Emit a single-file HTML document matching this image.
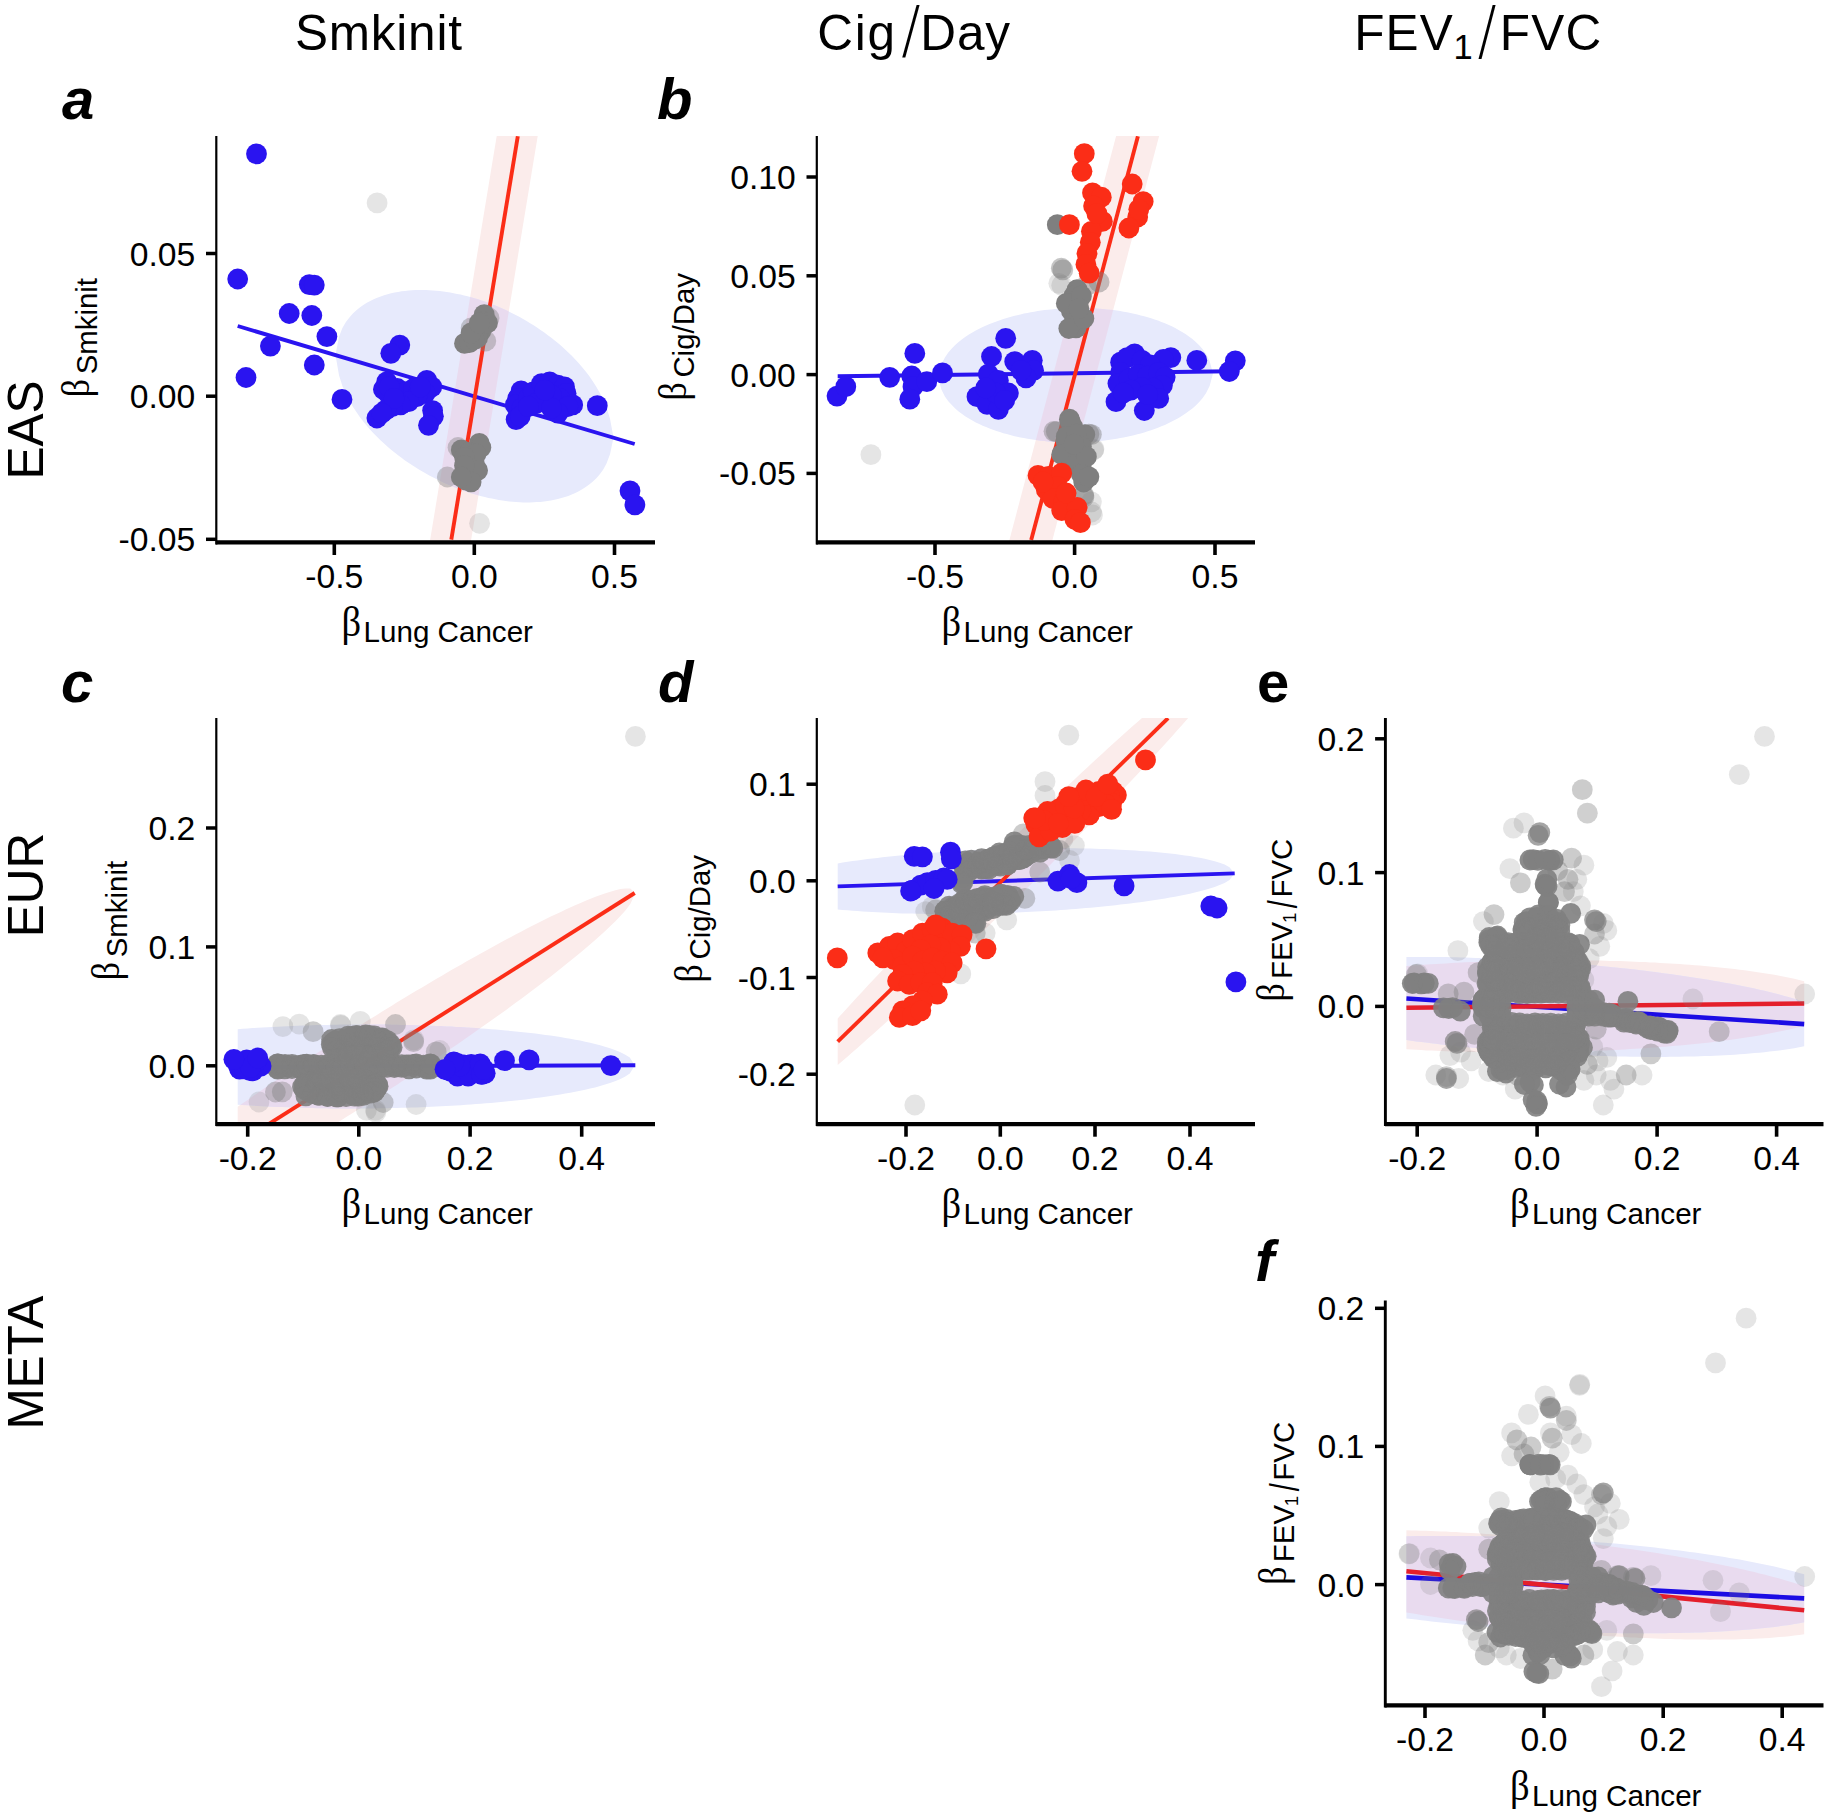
<!DOCTYPE html><html><head><meta charset="utf-8"><title>figure</title><style>html,body{margin:0;padding:0;background:#fff}svg{display:block}</style></head><body><svg width="1831" height="1816" viewBox="0 0 1831 1816"><rect width="1831" height="1816" fill="#fff"/><text x="294.9" y="50" font-size="49.5" text-anchor="start" font-family="Liberation Sans, Arial, sans-serif" letter-spacing="0.8">Smkinit</text>
<text x="817.3" y="50" font-size="49.5" text-anchor="start" font-family="Liberation Sans, Arial, sans-serif" letter-spacing="1.7">Cig</text>
<text transform="translate(902.3,56.2) scale(0.8,1)" font-size="78" font-family="Liberation Serif, serif">/</text>
<text x="920.3" y="50" font-size="49.5" text-anchor="start" font-family="Liberation Sans, Arial, sans-serif" letter-spacing="0.9">Day</text>
<text x="1354.2" y="50" font-size="49.5" text-anchor="start" font-family="Liberation Sans, Arial, sans-serif" letter-spacing="1.2">FEV</text>
<text x="1453.5" y="59" font-size="34.5" text-anchor="start" font-family="Liberation Sans, Arial, sans-serif" >1</text>
<text transform="translate(1478.5,58) scale(0.76,1)" font-size="81" font-family="Liberation Serif, serif">/</text>
<text x="1499.8" y="50" font-size="49.5" text-anchor="start" font-family="Liberation Sans, Arial, sans-serif" letter-spacing="1.2">FVC</text>
<text transform="translate(43.3,430) rotate(-90)" font-size="49.5" text-anchor="middle" font-family="Liberation Sans, Arial, sans-serif">EAS</text>
<text transform="translate(43.3,885) rotate(-90)" font-size="49.5" text-anchor="middle" font-family="Liberation Sans, Arial, sans-serif">EUR</text>
<text transform="translate(43.3,1362.7) rotate(-90)" font-size="49.5" text-anchor="middle" font-family="Liberation Sans, Arial, sans-serif">META</text>
<text x="62" y="118.5" font-size="58" font-weight="bold" font-style="italic" font-family="Liberation Sans, Arial, sans-serif">a</text>
<text x="657" y="118.5" font-size="58" font-weight="bold" font-style="italic" font-family="Liberation Sans, Arial, sans-serif">b</text>
<text x="61" y="701.5" font-size="58" font-weight="bold" font-style="italic" font-family="Liberation Sans, Arial, sans-serif">c</text>
<text x="658" y="701.5" font-size="58" font-weight="bold" font-style="italic" font-family="Liberation Sans, Arial, sans-serif">d</text>
<text x="1257" y="701.5" font-size="58" font-weight="bold" font-family="Liberation Sans, Arial, sans-serif">e</text>
<text x="1255" y="1280.8" font-size="58" font-weight="bold" font-style="italic" font-family="Liberation Sans, Arial, sans-serif">f</text>
<clipPath id="ca"><rect x="217" y="136" width="440" height="405.5"/></clipPath>
<g clip-path="url(#ca)">
<path d="M497.7,130.0 L538.7,130.0 L470.3,545.0 L429.3,545.0Z" fill="#fbeceb"/><path d="M335.5,354.9 L339.0,336.8 L342.4,328.1 L345.9,322.1 L349.4,317.4 L352.9,313.5 L356.4,310.3 L359.8,307.4 L363.3,305.0 L366.8,302.8 L370.2,300.9 L373.7,299.2 L377.2,297.7 L380.7,296.4 L384.1,295.2 L387.6,294.2 L391.1,293.3 L394.6,292.5 L398.1,291.9 L401.5,291.3 L405.0,290.9 L408.5,290.5 L411.9,290.2 L415.4,290.1 L418.9,290.0 L422.4,290.0 L425.9,290.0 L429.3,290.2 L432.8,290.4 L436.3,290.7 L439.8,291.1 L443.2,291.5 L446.7,292.0 L450.2,292.5 L453.6,293.2 L457.1,293.9 L460.6,294.6 L464.1,295.4 L467.6,296.3 L471.0,297.3 L474.5,298.3 L478.0,299.3 L481.4,300.5 L484.9,301.6 L488.4,302.9 L491.9,304.2 L495.4,305.6 L498.8,307.0 L502.3,308.6 L505.8,310.1 L509.2,311.8 L512.7,313.5 L516.2,315.3 L519.7,317.1 L523.1,319.1 L526.6,321.1 L530.1,323.2 L533.6,325.3 L537.0,327.6 L540.5,329.9 L544.0,332.3 L547.5,334.9 L551.0,337.5 L554.4,340.2 L557.9,343.1 L561.4,346.1 L564.9,349.2 L568.3,352.4 L571.8,355.8 L575.3,359.4 L578.8,363.2 L582.2,367.2 L585.7,371.5 L589.2,376.0 L592.6,381.0 L596.1,386.4 L599.6,392.4 L603.1,399.2 L606.5,407.5 L610.0,418.8 L613.5,437.6 L613.5,437.6 L610.0,454.3 L606.5,463.5 L603.1,469.7 L599.6,474.5 L596.1,478.4 L592.6,481.8 L589.2,484.6 L585.7,487.1 L582.2,489.3 L578.8,491.3 L575.3,493.0 L571.8,494.5 L568.3,495.9 L564.9,497.1 L561.4,498.1 L557.9,499.0 L554.4,499.8 L551.0,500.5 L547.5,501.0 L544.0,501.5 L540.5,501.9 L537.0,502.1 L533.6,502.3 L530.1,502.4 L526.6,502.4 L523.1,502.4 L519.7,502.2 L516.2,502.0 L512.7,501.7 L509.2,501.4 L505.8,501.0 L502.3,500.5 L498.8,499.9 L495.4,499.3 L491.9,498.6 L488.4,497.9 L484.9,497.1 L481.4,496.2 L478.0,495.3 L474.5,494.3 L471.0,493.2 L467.6,492.1 L464.1,490.9 L460.6,489.6 L457.1,488.3 L453.6,487.0 L450.2,485.5 L446.7,484.0 L443.2,482.4 L439.8,480.8 L436.3,479.1 L432.8,477.3 L429.3,475.5 L425.9,473.6 L422.4,471.6 L418.9,469.5 L415.4,467.3 L411.9,465.1 L408.5,462.8 L405.0,460.4 L401.5,457.8 L398.1,455.2 L394.6,452.5 L391.1,449.7 L387.6,446.7 L384.1,443.6 L380.7,440.4 L377.2,437.0 L373.7,433.4 L370.2,429.7 L366.8,425.7 L363.3,421.4 L359.8,416.9 L356.4,412.0 L352.9,406.7 L349.4,400.8 L345.9,394.0 L342.4,385.9 L339.0,375.2 L335.5,354.9Z" fill="#e7eafc"/><clipPath id="ia"><path d="M335.5,354.9 L339.0,336.8 L342.4,328.1 L345.9,322.1 L349.4,317.4 L352.9,313.5 L356.4,310.3 L359.8,307.4 L363.3,305.0 L366.8,302.8 L370.2,300.9 L373.7,299.2 L377.2,297.7 L380.7,296.4 L384.1,295.2 L387.6,294.2 L391.1,293.3 L394.6,292.5 L398.1,291.9 L401.5,291.3 L405.0,290.9 L408.5,290.5 L411.9,290.2 L415.4,290.1 L418.9,290.0 L422.4,290.0 L425.9,290.0 L429.3,290.2 L432.8,290.4 L436.3,290.7 L439.8,291.1 L443.2,291.5 L446.7,292.0 L450.2,292.5 L453.6,293.2 L457.1,293.9 L460.6,294.6 L464.1,295.4 L467.6,296.3 L471.0,297.3 L474.5,298.3 L478.0,299.3 L481.4,300.5 L484.9,301.6 L488.4,302.9 L491.9,304.2 L495.4,305.6 L498.8,307.0 L502.3,308.6 L505.8,310.1 L509.2,311.8 L512.7,313.5 L516.2,315.3 L519.7,317.1 L523.1,319.1 L526.6,321.1 L530.1,323.2 L533.6,325.3 L537.0,327.6 L540.5,329.9 L544.0,332.3 L547.5,334.9 L551.0,337.5 L554.4,340.2 L557.9,343.1 L561.4,346.1 L564.9,349.2 L568.3,352.4 L571.8,355.8 L575.3,359.4 L578.8,363.2 L582.2,367.2 L585.7,371.5 L589.2,376.0 L592.6,381.0 L596.1,386.4 L599.6,392.4 L603.1,399.2 L606.5,407.5 L610.0,418.8 L613.5,437.6 L613.5,437.6 L610.0,454.3 L606.5,463.5 L603.1,469.7 L599.6,474.5 L596.1,478.4 L592.6,481.8 L589.2,484.6 L585.7,487.1 L582.2,489.3 L578.8,491.3 L575.3,493.0 L571.8,494.5 L568.3,495.9 L564.9,497.1 L561.4,498.1 L557.9,499.0 L554.4,499.8 L551.0,500.5 L547.5,501.0 L544.0,501.5 L540.5,501.9 L537.0,502.1 L533.6,502.3 L530.1,502.4 L526.6,502.4 L523.1,502.4 L519.7,502.2 L516.2,502.0 L512.7,501.7 L509.2,501.4 L505.8,501.0 L502.3,500.5 L498.8,499.9 L495.4,499.3 L491.9,498.6 L488.4,497.9 L484.9,497.1 L481.4,496.2 L478.0,495.3 L474.5,494.3 L471.0,493.2 L467.6,492.1 L464.1,490.9 L460.6,489.6 L457.1,488.3 L453.6,487.0 L450.2,485.5 L446.7,484.0 L443.2,482.4 L439.8,480.8 L436.3,479.1 L432.8,477.3 L429.3,475.5 L425.9,473.6 L422.4,471.6 L418.9,469.5 L415.4,467.3 L411.9,465.1 L408.5,462.8 L405.0,460.4 L401.5,457.8 L398.1,455.2 L394.6,452.5 L391.1,449.7 L387.6,446.7 L384.1,443.6 L380.7,440.4 L377.2,437.0 L373.7,433.4 L370.2,429.7 L366.8,425.7 L363.3,421.4 L359.8,416.9 L356.4,412.0 L352.9,406.7 L349.4,400.8 L345.9,394.0 L342.4,385.9 L339.0,375.2 L335.5,354.9Z"/></clipPath><g clip-path="url(#ia)"><path d="M497.7,130.0 L538.7,130.0 L470.3,545.0 L429.3,545.0Z" fill="#e9dbef"/></g>
<line x1="237.7" y1="326.0" x2="634.7" y2="444.0" stroke="#2a14f0" stroke-width="3.9"/>
<line x1="517.8" y1="136.3" x2="451.3" y2="539.6" stroke="#fb2d17" stroke-width="3.9"/>
<g fill="#7f7f7f" fill-opacity="0.2"><circle cx="377.1" cy="202.9" r="10.4"/><circle cx="479.6" cy="523.3" r="10.4"/></g>
<g fill="#7f7f7f" fill-opacity="0.4"><circle cx="485.8" cy="341.0" r="10.4"/><circle cx="471.1" cy="327.9" r="10.4"/><circle cx="447.3" cy="477.0" r="10.4"/><circle cx="458.0" cy="447.5" r="10.4"/><circle cx="489.1" cy="318.0" r="10.4"/></g>
<g fill="#7f7f7f" fill-opacity="1"><circle cx="484.2" cy="314.7" r="10.4"/><circle cx="482.6" cy="321.3" r="10.4"/><circle cx="480.9" cy="331.1" r="10.4"/><circle cx="477.6" cy="337.7" r="10.4"/><circle cx="464.5" cy="343.4" r="10.4"/><circle cx="469.4" cy="342.6" r="10.4"/><circle cx="479.3" cy="443.4" r="10.4"/><circle cx="461.3" cy="449.9" r="10.4"/><circle cx="469.4" cy="452.4" r="10.4"/><circle cx="471.1" cy="457.3" r="10.4"/><circle cx="474.4" cy="463.9" r="10.4"/><circle cx="471.1" cy="468.8" r="10.4"/><circle cx="469.4" cy="472.0" r="10.4"/><circle cx="466.2" cy="480.2" r="10.4"/><circle cx="467.8" cy="477.0" r="10.4"/><circle cx="487.5" cy="322.9" r="10.4"/><circle cx="474.4" cy="339.3" r="10.4"/><circle cx="471.1" cy="332.8" r="10.4"/><circle cx="479.3" cy="322.9" r="10.4"/><circle cx="480.9" cy="447.5" r="10.4"/><circle cx="476.0" cy="454.0" r="10.4"/><circle cx="464.5" cy="457.3" r="10.4"/><circle cx="477.6" cy="470.4" r="10.4"/><circle cx="464.5" cy="465.5" r="10.4"/><circle cx="471.1" cy="481.9" r="10.4"/><circle cx="461.3" cy="477.0" r="10.4"/></g>
<g fill="#2a14f0"><circle cx="256.5" cy="153.9" r="10.4"/><circle cx="237.7" cy="279.0" r="10.4"/><circle cx="309.3" cy="284.6" r="10.4"/><circle cx="314.3" cy="285.1" r="10.4"/><circle cx="289.2" cy="313.5" r="10.4"/><circle cx="311.8" cy="315.5" r="10.4"/><circle cx="326.9" cy="336.6" r="10.4"/><circle cx="270.4" cy="346.1" r="10.4"/><circle cx="314.3" cy="365.0" r="10.4"/><circle cx="246.0" cy="377.5" r="10.4"/><circle cx="342.0" cy="399.4" r="10.4"/><circle cx="399.8" cy="345.1" r="10.4"/><circle cx="390.8" cy="353.3" r="10.4"/><circle cx="386.7" cy="381.9" r="10.4"/><circle cx="383.4" cy="389.3" r="10.4"/><circle cx="389.2" cy="395.0" r="10.4"/><circle cx="397.3" cy="388.5" r="10.4"/><circle cx="405.5" cy="391.8" r="10.4"/><circle cx="413.7" cy="388.5" r="10.4"/><circle cx="426.8" cy="380.3" r="10.4"/><circle cx="431.8" cy="386.8" r="10.4"/><circle cx="425.2" cy="393.4" r="10.4"/><circle cx="417.0" cy="396.7" r="10.4"/><circle cx="408.8" cy="401.6" r="10.4"/><circle cx="400.6" cy="404.9" r="10.4"/><circle cx="392.4" cy="406.5" r="10.4"/><circle cx="385.9" cy="409.8" r="10.4"/><circle cx="376.9" cy="418.0" r="10.4"/><circle cx="432.6" cy="410.6" r="10.4"/><circle cx="433.4" cy="416.3" r="10.4"/><circle cx="428.5" cy="425.3" r="10.4"/><circle cx="389.2" cy="386.8" r="10.4"/><circle cx="394.1" cy="398.3" r="10.4"/><circle cx="420.3" cy="386.8" r="10.4"/><circle cx="381.8" cy="413.1" r="10.4"/><circle cx="521.1" cy="390.9" r="10.4"/><circle cx="517.8" cy="398.3" r="10.4"/><circle cx="515.3" cy="404.9" r="10.4"/><circle cx="521.9" cy="408.1" r="10.4"/><circle cx="528.4" cy="398.3" r="10.4"/><circle cx="533.3" cy="391.8" r="10.4"/><circle cx="541.5" cy="383.6" r="10.4"/><circle cx="549.7" cy="381.9" r="10.4"/><circle cx="557.9" cy="385.2" r="10.4"/><circle cx="564.5" cy="386.8" r="10.4"/><circle cx="566.1" cy="393.4" r="10.4"/><circle cx="559.6" cy="398.3" r="10.4"/><circle cx="551.4" cy="395.0" r="10.4"/><circle cx="543.2" cy="396.7" r="10.4"/><circle cx="536.6" cy="403.2" r="10.4"/><circle cx="572.7" cy="404.9" r="10.4"/><circle cx="567.8" cy="406.5" r="10.4"/><circle cx="557.9" cy="413.1" r="10.4"/><circle cx="551.4" cy="408.1" r="10.4"/><circle cx="516.1" cy="419.6" r="10.4"/><circle cx="520.2" cy="416.3" r="10.4"/><circle cx="528.4" cy="406.5" r="10.4"/><circle cx="544.8" cy="390.1" r="10.4"/><circle cx="597.3" cy="405.7" r="10.4"/><circle cx="630.0" cy="490.9" r="10.4"/><circle cx="634.9" cy="504.8" r="10.4"/></g>
</g>
<line x1="216.3" y1="136" x2="216.3" y2="544.4" stroke="#000" stroke-width="2.2"/><line x1="215.8" y1="542.4" x2="655" y2="542.4" stroke="#000" stroke-width="4.1"/><line x1="334.3" y1="542.4" x2="334.3" y2="555.0" stroke="#000" stroke-width="3.6"/><text x="334.3" y="588.4" font-size="33.7" text-anchor="middle" font-family="Liberation Sans, Arial, sans-serif">-0.5</text><line x1="474.3" y1="542.4" x2="474.3" y2="555.0" stroke="#000" stroke-width="3.6"/><text x="474.3" y="588.4" font-size="33.7" text-anchor="middle" font-family="Liberation Sans, Arial, sans-serif">0.0</text><line x1="614.5" y1="542.4" x2="614.5" y2="555.0" stroke="#000" stroke-width="3.6"/><text x="614.5" y="588.4" font-size="33.7" text-anchor="middle" font-family="Liberation Sans, Arial, sans-serif">0.5</text><line x1="206.0" y1="253.5" x2="216.3" y2="253.5" stroke="#000" stroke-width="3.5"/><text x="195.3" y="265.5" font-size="33.7" text-anchor="end" font-family="Liberation Sans, Arial, sans-serif">0.05</text><line x1="206.0" y1="396.2" x2="216.3" y2="396.2" stroke="#000" stroke-width="3.5"/><text x="195.3" y="408.2" font-size="33.7" text-anchor="end" font-family="Liberation Sans, Arial, sans-serif">0.00</text><line x1="206.0" y1="539.3" x2="216.3" y2="539.3" stroke="#000" stroke-width="3.5"/><text x="195.3" y="551.3" font-size="33.7" text-anchor="end" font-family="Liberation Sans, Arial, sans-serif">-0.05</text>
<text transform="translate(341.5,635.5) scale(0.92,1)" font-size="42" font-family="Liberation Serif, DejaVu Serif, serif">β</text><text x="363.5" y="642.3" font-size="29.6" font-family="Liberation Sans, Arial, sans-serif">Lung Cancer</text>
<g transform="translate(89.3,397.35) rotate(-90)"><text transform="scale(0.88,1)" x="0" y="0" font-size="41" font-family="Liberation Serif, DejaVu Serif, serif">β</text><text x="23" y="8" font-size="29.4" font-family="Liberation Sans, Arial, sans-serif">Smkinit</text></g>
<clipPath id="cb"><rect x="817.5" y="136" width="440" height="405.5"/></clipPath>
<g clip-path="url(#cb)">
<path d="M1117.7,130.0 L1160.7,130.0 L1051.1,545.0 L1008.1,545.0Z" fill="#fbeceb"/><path d="M938.0,376.9 L941.4,364.3 L944.9,357.4 L948.3,352.4 L951.8,348.4 L955.2,345.0 L958.6,342.0 L962.1,339.3 L965.5,336.8 L968.9,334.6 L972.4,332.5 L975.8,330.6 L979.2,328.8 L982.7,327.1 L986.1,325.5 L989.6,324.1 L993.0,322.7 L996.4,321.4 L999.9,320.2 L1003.3,319.1 L1006.8,318.0 L1010.2,317.0 L1013.6,316.1 L1017.1,315.2 L1020.5,314.4 L1023.9,313.6 L1027.4,312.9 L1030.8,312.3 L1034.2,311.7 L1037.7,311.1 L1041.1,310.6 L1044.6,310.1 L1048.0,309.7 L1051.4,309.4 L1054.9,309.0 L1058.3,308.8 L1061.8,308.5 L1065.2,308.3 L1068.6,308.2 L1072.1,308.1 L1075.5,308.0 L1078.9,308.0 L1082.4,308.0 L1085.8,308.1 L1089.2,308.2 L1092.7,308.3 L1096.1,308.5 L1099.6,308.7 L1103.0,309.0 L1106.4,309.4 L1109.9,309.7 L1113.3,310.1 L1116.8,310.6 L1120.2,311.1 L1123.6,311.7 L1127.1,312.3 L1130.5,313.0 L1133.9,313.7 L1137.4,314.5 L1140.8,315.4 L1144.2,316.3 L1147.7,317.2 L1151.1,318.3 L1154.6,319.4 L1158.0,320.6 L1161.4,321.9 L1164.9,323.3 L1168.3,324.7 L1171.8,326.3 L1175.2,328.0 L1178.6,329.9 L1182.1,331.9 L1185.5,334.0 L1188.9,336.4 L1192.4,339.0 L1195.8,341.9 L1199.2,345.3 L1202.7,349.2 L1206.1,354.0 L1209.6,360.9 L1213.0,373.5 L1213.0,373.5 L1209.6,386.1 L1206.1,393.0 L1202.7,398.0 L1199.2,402.0 L1195.8,405.4 L1192.4,408.4 L1188.9,411.1 L1185.5,413.6 L1182.1,415.8 L1178.6,417.9 L1175.2,419.8 L1171.8,421.6 L1168.3,423.3 L1164.9,424.9 L1161.4,426.3 L1158.0,427.7 L1154.6,429.0 L1151.1,430.2 L1147.7,431.3 L1144.2,432.4 L1140.8,433.4 L1137.4,434.3 L1133.9,435.2 L1130.5,436.0 L1127.1,436.8 L1123.6,437.5 L1120.2,438.1 L1116.8,438.7 L1113.3,439.3 L1109.9,439.8 L1106.4,440.3 L1103.0,440.7 L1099.6,441.0 L1096.1,441.4 L1092.7,441.6 L1089.2,441.9 L1085.8,442.1 L1082.4,442.2 L1078.9,442.3 L1075.5,442.4 L1072.1,442.4 L1068.6,442.4 L1065.2,442.3 L1061.8,442.2 L1058.3,442.1 L1054.9,441.9 L1051.4,441.7 L1048.0,441.4 L1044.6,441.0 L1041.1,440.7 L1037.7,440.3 L1034.2,439.8 L1030.8,439.3 L1027.4,438.7 L1023.9,438.1 L1020.5,437.4 L1017.1,436.7 L1013.6,435.9 L1010.2,435.0 L1006.8,434.1 L1003.3,433.2 L999.9,432.1 L996.4,431.0 L993.0,429.8 L989.6,428.5 L986.1,427.1 L982.7,425.7 L979.2,424.1 L975.8,422.4 L972.4,420.5 L968.9,418.5 L965.5,416.4 L962.1,414.0 L958.6,411.4 L955.2,408.5 L951.8,405.1 L948.3,401.2 L944.9,396.4 L941.4,389.5 L938.0,376.9Z" fill="#e7eafc"/><clipPath id="ib"><path d="M938.0,376.9 L941.4,364.3 L944.9,357.4 L948.3,352.4 L951.8,348.4 L955.2,345.0 L958.6,342.0 L962.1,339.3 L965.5,336.8 L968.9,334.6 L972.4,332.5 L975.8,330.6 L979.2,328.8 L982.7,327.1 L986.1,325.5 L989.6,324.1 L993.0,322.7 L996.4,321.4 L999.9,320.2 L1003.3,319.1 L1006.8,318.0 L1010.2,317.0 L1013.6,316.1 L1017.1,315.2 L1020.5,314.4 L1023.9,313.6 L1027.4,312.9 L1030.8,312.3 L1034.2,311.7 L1037.7,311.1 L1041.1,310.6 L1044.6,310.1 L1048.0,309.7 L1051.4,309.4 L1054.9,309.0 L1058.3,308.8 L1061.8,308.5 L1065.2,308.3 L1068.6,308.2 L1072.1,308.1 L1075.5,308.0 L1078.9,308.0 L1082.4,308.0 L1085.8,308.1 L1089.2,308.2 L1092.7,308.3 L1096.1,308.5 L1099.6,308.7 L1103.0,309.0 L1106.4,309.4 L1109.9,309.7 L1113.3,310.1 L1116.8,310.6 L1120.2,311.1 L1123.6,311.7 L1127.1,312.3 L1130.5,313.0 L1133.9,313.7 L1137.4,314.5 L1140.8,315.4 L1144.2,316.3 L1147.7,317.2 L1151.1,318.3 L1154.6,319.4 L1158.0,320.6 L1161.4,321.9 L1164.9,323.3 L1168.3,324.7 L1171.8,326.3 L1175.2,328.0 L1178.6,329.9 L1182.1,331.9 L1185.5,334.0 L1188.9,336.4 L1192.4,339.0 L1195.8,341.9 L1199.2,345.3 L1202.7,349.2 L1206.1,354.0 L1209.6,360.9 L1213.0,373.5 L1213.0,373.5 L1209.6,386.1 L1206.1,393.0 L1202.7,398.0 L1199.2,402.0 L1195.8,405.4 L1192.4,408.4 L1188.9,411.1 L1185.5,413.6 L1182.1,415.8 L1178.6,417.9 L1175.2,419.8 L1171.8,421.6 L1168.3,423.3 L1164.9,424.9 L1161.4,426.3 L1158.0,427.7 L1154.6,429.0 L1151.1,430.2 L1147.7,431.3 L1144.2,432.4 L1140.8,433.4 L1137.4,434.3 L1133.9,435.2 L1130.5,436.0 L1127.1,436.8 L1123.6,437.5 L1120.2,438.1 L1116.8,438.7 L1113.3,439.3 L1109.9,439.8 L1106.4,440.3 L1103.0,440.7 L1099.6,441.0 L1096.1,441.4 L1092.7,441.6 L1089.2,441.9 L1085.8,442.1 L1082.4,442.2 L1078.9,442.3 L1075.5,442.4 L1072.1,442.4 L1068.6,442.4 L1065.2,442.3 L1061.8,442.2 L1058.3,442.1 L1054.9,441.9 L1051.4,441.7 L1048.0,441.4 L1044.6,441.0 L1041.1,440.7 L1037.7,440.3 L1034.2,439.8 L1030.8,439.3 L1027.4,438.7 L1023.9,438.1 L1020.5,437.4 L1017.1,436.7 L1013.6,435.9 L1010.2,435.0 L1006.8,434.1 L1003.3,433.2 L999.9,432.1 L996.4,431.0 L993.0,429.8 L989.6,428.5 L986.1,427.1 L982.7,425.7 L979.2,424.1 L975.8,422.4 L972.4,420.5 L968.9,418.5 L965.5,416.4 L962.1,414.0 L958.6,411.4 L955.2,408.5 L951.8,405.1 L948.3,401.2 L944.9,396.4 L941.4,389.5 L938.0,376.9Z"/></clipPath><g clip-path="url(#ib)"><path d="M1117.7,130.0 L1160.7,130.0 L1051.1,545.0 L1008.1,545.0Z" fill="#e9dbef"/></g>
<line x1="837.7" y1="376.3" x2="1232.0" y2="371.3" stroke="#2a14f0" stroke-width="3.9"/>
<line x1="1137.9" y1="136.3" x2="1031.2" y2="540.1" stroke="#fb2d17" stroke-width="3.9"/>
<g fill="#7f7f7f" fill-opacity="0.2"><circle cx="1094.0" cy="449.1" r="10.4"/><circle cx="1091.5" cy="512.0" r="10.4"/><circle cx="1058.8" cy="283.3" r="10.4"/><circle cx="870.9" cy="454.7" r="10.4"/><circle cx="1061.7" cy="285.3" r="10.4"/><circle cx="1093.6" cy="450.0" r="10.4"/><circle cx="1091.4" cy="501.8" r="10.4"/><circle cx="1092.5" cy="515.0" r="10.4"/></g>
<g fill="#7f7f7f" fill-opacity="0.45"><circle cx="1088.9" cy="434.1" r="10.4"/><circle cx="1056.3" cy="431.6" r="10.4"/><circle cx="1083.9" cy="496.9" r="10.4"/><circle cx="1061.3" cy="268.2" r="10.4"/><circle cx="1086.4" cy="285.8" r="10.4"/><circle cx="1062.8" cy="269.9" r="10.4"/><circle cx="1099.1" cy="282.0" r="10.4"/><circle cx="1054.0" cy="431.3" r="10.4"/><circle cx="1091.4" cy="434.6" r="10.4"/><circle cx="1083.7" cy="495.2" r="10.4"/></g>
<g fill="#7f7f7f" fill-opacity="1"><circle cx="1057.3" cy="224.7" r="10.4"/><circle cx="1076.0" cy="295.2" r="10.4"/><circle cx="1072.7" cy="304.0" r="10.4"/><circle cx="1072.7" cy="311.7" r="10.4"/><circle cx="1076.0" cy="322.7" r="10.4"/><circle cx="1077.1" cy="289.7" r="10.4"/><circle cx="1076.0" cy="327.8" r="10.4"/><circle cx="1069.4" cy="419.2" r="10.4"/><circle cx="1072.7" cy="426.9" r="10.4"/><circle cx="1070.5" cy="434.6" r="10.4"/><circle cx="1077.1" cy="440.1" r="10.4"/><circle cx="1072.7" cy="446.7" r="10.4"/><circle cx="1080.4" cy="451.1" r="10.4"/><circle cx="1071.6" cy="456.7" r="10.4"/><circle cx="1077.1" cy="462.2" r="10.4"/><circle cx="1081.5" cy="468.8" r="10.4"/><circle cx="1087.0" cy="477.6" r="10.4"/><circle cx="1083.7" cy="482.0" r="10.4"/><circle cx="1084.8" cy="434.6" r="10.4"/><circle cx="1066.1" cy="441.2" r="10.4"/><circle cx="1061.7" cy="454.4" r="10.4"/><circle cx="1073.9" cy="295.9" r="10.4"/><circle cx="1071.4" cy="311.0" r="10.4"/><circle cx="1076.4" cy="326.0" r="10.4"/><circle cx="1066.3" cy="303.4" r="10.4"/><circle cx="1081.4" cy="295.9" r="10.4"/><circle cx="1068.8" cy="328.5" r="10.4"/><circle cx="1083.9" cy="318.5" r="10.4"/><circle cx="1078.9" cy="308.4" r="10.4"/><circle cx="1070.1" cy="421.5" r="10.4"/><circle cx="1066.3" cy="436.6" r="10.4"/><circle cx="1076.4" cy="434.1" r="10.4"/><circle cx="1071.4" cy="451.7" r="10.4"/><circle cx="1081.4" cy="446.6" r="10.4"/><circle cx="1063.8" cy="454.2" r="10.4"/><circle cx="1076.4" cy="464.2" r="10.4"/><circle cx="1086.4" cy="456.7" r="10.4"/><circle cx="1081.4" cy="474.3" r="10.4"/><circle cx="1088.9" cy="476.8" r="10.4"/><circle cx="1073.9" cy="444.1" r="10.4"/></g>
<g fill="#fb2d17"><circle cx="1084.3" cy="153.7" r="10.4"/><circle cx="1082.0" cy="171.3" r="10.4"/><circle cx="1132.2" cy="184.0" r="10.4"/><circle cx="1143.2" cy="201.6" r="10.4"/><circle cx="1137.7" cy="217.0" r="10.4"/><circle cx="1128.9" cy="228.0" r="10.4"/><circle cx="1092.5" cy="192.8" r="10.4"/><circle cx="1101.3" cy="197.2" r="10.4"/><circle cx="1093.6" cy="206.0" r="10.4"/><circle cx="1102.4" cy="221.4" r="10.4"/><circle cx="1091.4" cy="231.3" r="10.4"/><circle cx="1069.4" cy="224.7" r="10.4"/><circle cx="1090.3" cy="242.3" r="10.4"/><circle cx="1087.0" cy="253.3" r="10.4"/><circle cx="1085.9" cy="264.4" r="10.4"/><circle cx="1089.2" cy="273.2" r="10.4"/><circle cx="1096.9" cy="213.7" r="10.4"/><circle cx="1138.8" cy="209.3" r="10.4"/><circle cx="1038.0" cy="475.4" r="10.4"/><circle cx="1048.5" cy="476.5" r="10.4"/><circle cx="1061.7" cy="473.2" r="10.4"/><circle cx="1046.3" cy="489.7" r="10.4"/><circle cx="1057.3" cy="486.4" r="10.4"/><circle cx="1052.9" cy="498.5" r="10.4"/><circle cx="1063.9" cy="501.8" r="10.4"/><circle cx="1061.7" cy="510.6" r="10.4"/><circle cx="1077.1" cy="507.3" r="10.4"/><circle cx="1074.9" cy="519.4" r="10.4"/><circle cx="1080.4" cy="522.7" r="10.4"/><circle cx="1043.0" cy="482.0" r="10.4"/><circle cx="1066.1" cy="493.0" r="10.4"/></g>
<g fill="#2a14f0"><circle cx="837.0" cy="396.1" r="10.4"/><circle cx="845.8" cy="386.7" r="10.4"/><circle cx="889.7" cy="377.3" r="10.4"/><circle cx="914.8" cy="353.4" r="10.4"/><circle cx="911.7" cy="376.0" r="10.4"/><circle cx="913.0" cy="386.7" r="10.4"/><circle cx="909.8" cy="399.2" r="10.4"/><circle cx="926.8" cy="381.7" r="10.4"/><circle cx="942.5" cy="372.9" r="10.4"/><circle cx="1005.7" cy="338.3" r="10.4"/><circle cx="991.5" cy="356.5" r="10.4"/><circle cx="988.3" cy="374.1" r="10.4"/><circle cx="1014.7" cy="361.6" r="10.4"/><circle cx="1032.3" cy="360.3" r="10.4"/><circle cx="1033.6" cy="370.4" r="10.4"/><circle cx="1026.0" cy="377.9" r="10.4"/><circle cx="998.4" cy="380.4" r="10.4"/><circle cx="977.0" cy="396.7" r="10.4"/><circle cx="987.1" cy="404.3" r="10.4"/><circle cx="998.4" cy="409.3" r="10.4"/><circle cx="1008.4" cy="393.0" r="10.4"/><circle cx="995.9" cy="393.0" r="10.4"/><circle cx="985.8" cy="387.9" r="10.4"/><circle cx="1004.7" cy="400.5" r="10.4"/><circle cx="1021.0" cy="370.4" r="10.4"/><circle cx="1235.3" cy="360.8" r="10.4"/><circle cx="1229.3" cy="371.5" r="10.4"/><circle cx="1196.8" cy="360.4" r="10.4"/><circle cx="1170.8" cy="357.6" r="10.4"/><circle cx="1163.4" cy="359.4" r="10.4"/><circle cx="1134.6" cy="353.9" r="10.4"/><circle cx="1120.6" cy="362.2" r="10.4"/><circle cx="1127.1" cy="357.6" r="10.4"/><circle cx="1142.0" cy="360.4" r="10.4"/><circle cx="1150.4" cy="365.0" r="10.4"/><circle cx="1120.6" cy="372.4" r="10.4"/><circle cx="1117.9" cy="383.6" r="10.4"/><circle cx="1129.0" cy="378.9" r="10.4"/><circle cx="1138.3" cy="374.3" r="10.4"/><circle cx="1147.6" cy="376.1" r="10.4"/><circle cx="1158.7" cy="372.4" r="10.4"/><circle cx="1165.2" cy="377.1" r="10.4"/><circle cx="1162.4" cy="385.4" r="10.4"/><circle cx="1153.1" cy="388.2" r="10.4"/><circle cx="1142.0" cy="387.3" r="10.4"/><circle cx="1130.9" cy="390.1" r="10.4"/><circle cx="1158.7" cy="398.4" r="10.4"/><circle cx="1116.0" cy="401.7" r="10.4"/><circle cx="1144.3" cy="410.5" r="10.4"/><circle cx="1123.4" cy="392.9" r="10.4"/><circle cx="1147.6" cy="394.7" r="10.4"/></g>
</g>
<line x1="816.8" y1="136" x2="816.8" y2="544.4" stroke="#000" stroke-width="2.2"/><line x1="816.3" y1="542.4" x2="1255" y2="542.4" stroke="#000" stroke-width="4.1"/><line x1="935" y1="542.4" x2="935" y2="555.0" stroke="#000" stroke-width="3.6"/><text x="935" y="588.4" font-size="33.7" text-anchor="middle" font-family="Liberation Sans, Arial, sans-serif">-0.5</text><line x1="1074.6" y1="542.4" x2="1074.6" y2="555.0" stroke="#000" stroke-width="3.6"/><text x="1074.6" y="588.4" font-size="33.7" text-anchor="middle" font-family="Liberation Sans, Arial, sans-serif">0.0</text><line x1="1215" y1="542.4" x2="1215" y2="555.0" stroke="#000" stroke-width="3.6"/><text x="1215" y="588.4" font-size="33.7" text-anchor="middle" font-family="Liberation Sans, Arial, sans-serif">0.5</text><line x1="806.5" y1="177" x2="816.8" y2="177" stroke="#000" stroke-width="3.5"/><text x="795.8" y="189" font-size="33.7" text-anchor="end" font-family="Liberation Sans, Arial, sans-serif">0.10</text><line x1="806.5" y1="275.8" x2="816.8" y2="275.8" stroke="#000" stroke-width="3.5"/><text x="795.8" y="287.8" font-size="33.7" text-anchor="end" font-family="Liberation Sans, Arial, sans-serif">0.05</text><line x1="806.5" y1="374.6" x2="816.8" y2="374.6" stroke="#000" stroke-width="3.5"/><text x="795.8" y="386.6" font-size="33.7" text-anchor="end" font-family="Liberation Sans, Arial, sans-serif">0.00</text><line x1="806.5" y1="473.4" x2="816.8" y2="473.4" stroke="#000" stroke-width="3.5"/><text x="795.8" y="485.4" font-size="33.7" text-anchor="end" font-family="Liberation Sans, Arial, sans-serif">-0.05</text>
<text transform="translate(941.5,635.5) scale(0.92,1)" font-size="42" font-family="Liberation Serif, DejaVu Serif, serif">β</text><text x="963.5" y="642.3" font-size="29.6" font-family="Liberation Sans, Arial, sans-serif">Lung Cancer</text>
<g transform="translate(686,400.6) rotate(-90)"><text transform="scale(0.88,1)" x="0" y="0" font-size="41" font-family="Liberation Serif, DejaVu Serif, serif">β</text><text x="23" y="8" font-size="29.4" font-family="Liberation Sans, Arial, sans-serif">Cig/Day</text></g>
<clipPath id="cc"><rect x="217" y="718" width="440" height="405.8"/></clipPath>
<g clip-path="url(#cc)">
<path d="M237.7,1106.8 L242.7,1103.3 L247.6,1099.9 L252.6,1096.4 L257.6,1093.0 L262.6,1089.5 L267.5,1086.1 L272.5,1082.8 L277.5,1079.4 L282.4,1076.0 L287.4,1072.7 L292.4,1069.3 L297.3,1066.0 L302.3,1062.7 L307.3,1059.4 L312.2,1056.2 L317.2,1052.9 L322.2,1049.7 L327.2,1046.4 L332.1,1043.2 L337.1,1040.0 L342.1,1036.8 L347.0,1033.7 L352.0,1030.5 L357.0,1027.3 L361.9,1024.2 L366.9,1021.1 L371.9,1018.0 L376.9,1014.9 L381.8,1011.8 L386.8,1008.7 L391.8,1005.7 L396.7,1002.6 L401.7,999.6 L406.7,996.6 L411.6,993.6 L416.6,990.6 L421.6,987.7 L426.6,984.7 L431.5,981.8 L436.5,978.8 L441.5,975.9 L446.4,973.0 L451.4,970.1 L456.4,967.3 L461.4,964.4 L466.3,961.6 L471.3,958.8 L476.3,956.0 L481.2,953.2 L486.2,950.5 L491.2,947.7 L496.1,945.0 L501.1,942.3 L506.1,939.6 L511.0,937.0 L516.0,934.3 L521.0,931.7 L526.0,929.1 L530.9,926.6 L535.9,924.0 L540.9,921.5 L545.8,919.1 L550.8,916.6 L555.8,914.2 L560.8,911.9 L565.7,909.6 L570.7,907.3 L575.7,905.1 L580.6,902.9 L585.6,900.8 L590.6,898.8 L595.5,896.8 L600.5,895.0 L605.5,893.2 L610.4,891.7 L615.4,890.3 L620.4,889.1 L625.4,888.4 L630.3,888.5 L635.3,893.2 L635.3,893.2 L630.3,904.1 L625.4,910.5 L620.4,916.0 L615.4,921.2 L610.4,926.1 L605.5,930.7 L600.5,935.3 L595.5,939.7 L590.6,944.0 L585.6,948.3 L580.6,952.5 L575.7,956.6 L570.7,960.6 L565.7,964.6 L560.8,968.6 L555.8,972.5 L550.8,976.4 L545.8,980.2 L540.9,984.0 L535.9,987.8 L530.9,991.5 L526.0,995.2 L521.0,998.9 L516.0,1002.6 L511.0,1006.2 L506.1,1009.9 L501.1,1013.5 L496.1,1017.0 L491.2,1020.6 L486.2,1024.1 L481.2,1027.6 L476.3,1031.1 L471.3,1034.6 L466.3,1038.1 L461.4,1041.5 L456.4,1044.9 L451.4,1048.3 L446.4,1051.7 L441.5,1055.1 L436.5,1058.5 L431.5,1061.8 L426.6,1065.2 L421.6,1068.5 L416.6,1071.8 L411.6,1075.1 L406.7,1078.4 L401.7,1081.6 L396.7,1084.9 L391.8,1088.1 L386.8,1091.3 L381.8,1094.5 L376.9,1097.7 L371.9,1100.9 L366.9,1104.1 L361.9,1107.2 L357.0,1110.3 L352.0,1113.5 L347.0,1116.6 L342.1,1119.7 L337.1,1122.8 L332.1,1125.8 L327.2,1128.9 L322.2,1131.9 L317.2,1135.0 L312.2,1138.0 L307.3,1141.0 L302.3,1144.0 L297.3,1147.0 L292.4,1149.9 L287.4,1152.9 L282.4,1155.8 L277.5,1158.7 L272.5,1161.6 L267.5,1164.5 L262.6,1167.4 L257.6,1170.2 L252.6,1173.0 L247.6,1175.9 L242.7,1178.7 L237.7,1181.4Z" fill="#fbeceb"/><path d="M237.7,1029.2 L242.7,1028.8 L247.6,1028.4 L252.6,1028.1 L257.6,1027.8 L262.5,1027.5 L267.5,1027.2 L272.4,1026.9 L277.4,1026.7 L282.4,1026.4 L287.3,1026.2 L292.3,1026.0 L297.3,1025.8 L302.2,1025.6 L307.2,1025.4 L312.2,1025.3 L317.1,1025.1 L322.1,1025.0 L327.0,1024.9 L332.0,1024.8 L337.0,1024.7 L341.9,1024.6 L346.9,1024.6 L351.9,1024.5 L356.8,1024.5 L361.8,1024.5 L366.8,1024.5 L371.7,1024.5 L376.7,1024.5 L381.6,1024.6 L386.6,1024.6 L391.6,1024.7 L396.5,1024.8 L401.5,1024.9 L406.5,1025.0 L411.4,1025.1 L416.4,1025.2 L421.4,1025.4 L426.3,1025.5 L431.3,1025.7 L436.2,1025.9 L441.2,1026.1 L446.2,1026.4 L451.1,1026.6 L456.1,1026.9 L461.1,1027.1 L466.0,1027.4 L471.0,1027.7 L476.0,1028.1 L480.9,1028.4 L485.9,1028.8 L490.9,1029.2 L495.8,1029.6 L500.8,1030.0 L505.7,1030.4 L510.7,1030.9 L515.7,1031.4 L520.6,1031.9 L525.6,1032.5 L530.6,1033.0 L535.5,1033.6 L540.5,1034.2 L545.5,1034.9 L550.4,1035.6 L555.4,1036.3 L560.3,1037.1 L565.3,1037.9 L570.3,1038.8 L575.2,1039.7 L580.2,1040.6 L585.2,1041.7 L590.1,1042.8 L595.1,1044.0 L600.1,1045.3 L605.0,1046.7 L610.0,1048.2 L614.9,1050.0 L619.9,1052.0 L624.9,1054.4 L629.8,1057.6 L634.8,1065.5 L634.8,1065.5 L629.8,1073.5 L624.9,1076.7 L619.9,1079.2 L614.9,1081.2 L610.0,1083.0 L605.0,1084.6 L600.1,1086.1 L595.1,1087.4 L590.1,1088.6 L585.2,1089.7 L580.2,1090.8 L575.2,1091.8 L570.3,1092.7 L565.3,1093.6 L560.3,1094.5 L555.4,1095.3 L550.4,1096.1 L545.5,1096.8 L540.5,1097.5 L535.5,1098.1 L530.6,1098.8 L525.6,1099.4 L520.6,1100.0 L515.7,1100.5 L510.7,1101.0 L505.7,1101.5 L500.8,1102.0 L495.8,1102.5 L490.9,1102.9 L485.9,1103.3 L480.9,1103.7 L476.0,1104.1 L471.0,1104.5 L466.0,1104.8 L461.1,1105.2 L456.1,1105.5 L451.1,1105.8 L446.2,1106.0 L441.2,1106.3 L436.2,1106.5 L431.3,1106.8 L426.3,1107.0 L421.4,1107.2 L416.4,1107.4 L411.4,1107.5 L406.5,1107.7 L401.5,1107.8 L396.5,1108.0 L391.6,1108.1 L386.6,1108.2 L381.6,1108.3 L376.7,1108.3 L371.7,1108.4 L366.8,1108.5 L361.8,1108.5 L356.8,1108.5 L351.9,1108.5 L346.9,1108.5 L341.9,1108.5 L337.0,1108.4 L332.0,1108.4 L327.0,1108.3 L322.1,1108.3 L317.1,1108.2 L312.2,1108.1 L307.2,1107.9 L302.2,1107.8 L297.3,1107.7 L292.3,1107.5 L287.3,1107.3 L282.4,1107.1 L277.4,1106.9 L272.4,1106.7 L267.5,1106.5 L262.5,1106.2 L257.6,1105.9 L252.6,1105.6 L247.6,1105.3 L242.7,1105.0 L237.7,1104.7Z" fill="#e7eafc"/><clipPath id="ic"><path d="M237.7,1029.2 L242.7,1028.8 L247.6,1028.4 L252.6,1028.1 L257.6,1027.8 L262.5,1027.5 L267.5,1027.2 L272.4,1026.9 L277.4,1026.7 L282.4,1026.4 L287.3,1026.2 L292.3,1026.0 L297.3,1025.8 L302.2,1025.6 L307.2,1025.4 L312.2,1025.3 L317.1,1025.1 L322.1,1025.0 L327.0,1024.9 L332.0,1024.8 L337.0,1024.7 L341.9,1024.6 L346.9,1024.6 L351.9,1024.5 L356.8,1024.5 L361.8,1024.5 L366.8,1024.5 L371.7,1024.5 L376.7,1024.5 L381.6,1024.6 L386.6,1024.6 L391.6,1024.7 L396.5,1024.8 L401.5,1024.9 L406.5,1025.0 L411.4,1025.1 L416.4,1025.2 L421.4,1025.4 L426.3,1025.5 L431.3,1025.7 L436.2,1025.9 L441.2,1026.1 L446.2,1026.4 L451.1,1026.6 L456.1,1026.9 L461.1,1027.1 L466.0,1027.4 L471.0,1027.7 L476.0,1028.1 L480.9,1028.4 L485.9,1028.8 L490.9,1029.2 L495.8,1029.6 L500.8,1030.0 L505.7,1030.4 L510.7,1030.9 L515.7,1031.4 L520.6,1031.9 L525.6,1032.5 L530.6,1033.0 L535.5,1033.6 L540.5,1034.2 L545.5,1034.9 L550.4,1035.6 L555.4,1036.3 L560.3,1037.1 L565.3,1037.9 L570.3,1038.8 L575.2,1039.7 L580.2,1040.6 L585.2,1041.7 L590.1,1042.8 L595.1,1044.0 L600.1,1045.3 L605.0,1046.7 L610.0,1048.2 L614.9,1050.0 L619.9,1052.0 L624.9,1054.4 L629.8,1057.6 L634.8,1065.5 L634.8,1065.5 L629.8,1073.5 L624.9,1076.7 L619.9,1079.2 L614.9,1081.2 L610.0,1083.0 L605.0,1084.6 L600.1,1086.1 L595.1,1087.4 L590.1,1088.6 L585.2,1089.7 L580.2,1090.8 L575.2,1091.8 L570.3,1092.7 L565.3,1093.6 L560.3,1094.5 L555.4,1095.3 L550.4,1096.1 L545.5,1096.8 L540.5,1097.5 L535.5,1098.1 L530.6,1098.8 L525.6,1099.4 L520.6,1100.0 L515.7,1100.5 L510.7,1101.0 L505.7,1101.5 L500.8,1102.0 L495.8,1102.5 L490.9,1102.9 L485.9,1103.3 L480.9,1103.7 L476.0,1104.1 L471.0,1104.5 L466.0,1104.8 L461.1,1105.2 L456.1,1105.5 L451.1,1105.8 L446.2,1106.0 L441.2,1106.3 L436.2,1106.5 L431.3,1106.8 L426.3,1107.0 L421.4,1107.2 L416.4,1107.4 L411.4,1107.5 L406.5,1107.7 L401.5,1107.8 L396.5,1108.0 L391.6,1108.1 L386.6,1108.2 L381.6,1108.3 L376.7,1108.3 L371.7,1108.4 L366.8,1108.5 L361.8,1108.5 L356.8,1108.5 L351.9,1108.5 L346.9,1108.5 L341.9,1108.5 L337.0,1108.4 L332.0,1108.4 L327.0,1108.3 L322.1,1108.3 L317.1,1108.2 L312.2,1108.1 L307.2,1107.9 L302.2,1107.8 L297.3,1107.7 L292.3,1107.5 L287.3,1107.3 L282.4,1107.1 L277.4,1106.9 L272.4,1106.7 L267.5,1106.5 L262.5,1106.2 L257.6,1105.9 L252.6,1105.6 L247.6,1105.3 L242.7,1105.0 L237.7,1104.7Z"/></clipPath><g clip-path="url(#ic)"><path d="M237.7,1106.8 L242.7,1103.3 L247.6,1099.9 L252.6,1096.4 L257.6,1093.0 L262.6,1089.5 L267.5,1086.1 L272.5,1082.8 L277.5,1079.4 L282.4,1076.0 L287.4,1072.7 L292.4,1069.3 L297.3,1066.0 L302.3,1062.7 L307.3,1059.4 L312.2,1056.2 L317.2,1052.9 L322.2,1049.7 L327.2,1046.4 L332.1,1043.2 L337.1,1040.0 L342.1,1036.8 L347.0,1033.7 L352.0,1030.5 L357.0,1027.3 L361.9,1024.2 L366.9,1021.1 L371.9,1018.0 L376.9,1014.9 L381.8,1011.8 L386.8,1008.7 L391.8,1005.7 L396.7,1002.6 L401.7,999.6 L406.7,996.6 L411.6,993.6 L416.6,990.6 L421.6,987.7 L426.6,984.7 L431.5,981.8 L436.5,978.8 L441.5,975.9 L446.4,973.0 L451.4,970.1 L456.4,967.3 L461.4,964.4 L466.3,961.6 L471.3,958.8 L476.3,956.0 L481.2,953.2 L486.2,950.5 L491.2,947.7 L496.1,945.0 L501.1,942.3 L506.1,939.6 L511.0,937.0 L516.0,934.3 L521.0,931.7 L526.0,929.1 L530.9,926.6 L535.9,924.0 L540.9,921.5 L545.8,919.1 L550.8,916.6 L555.8,914.2 L560.8,911.9 L565.7,909.6 L570.7,907.3 L575.7,905.1 L580.6,902.9 L585.6,900.8 L590.6,898.8 L595.5,896.8 L600.5,895.0 L605.5,893.2 L610.4,891.7 L615.4,890.3 L620.4,889.1 L625.4,888.4 L630.3,888.5 L635.3,893.2 L635.3,893.2 L630.3,904.1 L625.4,910.5 L620.4,916.0 L615.4,921.2 L610.4,926.1 L605.5,930.7 L600.5,935.3 L595.5,939.7 L590.6,944.0 L585.6,948.3 L580.6,952.5 L575.7,956.6 L570.7,960.6 L565.7,964.6 L560.8,968.6 L555.8,972.5 L550.8,976.4 L545.8,980.2 L540.9,984.0 L535.9,987.8 L530.9,991.5 L526.0,995.2 L521.0,998.9 L516.0,1002.6 L511.0,1006.2 L506.1,1009.9 L501.1,1013.5 L496.1,1017.0 L491.2,1020.6 L486.2,1024.1 L481.2,1027.6 L476.3,1031.1 L471.3,1034.6 L466.3,1038.1 L461.4,1041.5 L456.4,1044.9 L451.4,1048.3 L446.4,1051.7 L441.5,1055.1 L436.5,1058.5 L431.5,1061.8 L426.6,1065.2 L421.6,1068.5 L416.6,1071.8 L411.6,1075.1 L406.7,1078.4 L401.7,1081.6 L396.7,1084.9 L391.8,1088.1 L386.8,1091.3 L381.8,1094.5 L376.9,1097.7 L371.9,1100.9 L366.9,1104.1 L361.9,1107.2 L357.0,1110.3 L352.0,1113.5 L347.0,1116.6 L342.1,1119.7 L337.1,1122.8 L332.1,1125.8 L327.2,1128.9 L322.2,1131.9 L317.2,1135.0 L312.2,1138.0 L307.3,1141.0 L302.3,1144.0 L297.3,1147.0 L292.4,1149.9 L287.4,1152.9 L282.4,1155.8 L277.5,1158.7 L272.5,1161.6 L267.5,1164.5 L262.6,1167.4 L257.6,1170.2 L252.6,1173.0 L247.6,1175.9 L242.7,1178.7 L237.7,1181.4Z" fill="#e9dbef"/></g>
<line x1="237.7" y1="1066.9" x2="635.3" y2="1065.2" stroke="#2a14f0" stroke-width="3.9"/>
<line x1="267.8" y1="1124.6" x2="634.7" y2="893.0" stroke="#fb2d17" stroke-width="3.9"/>
<g fill="#7f7f7f" fill-opacity="0.2"><circle cx="635.4" cy="736.4" r="10.4"/><circle cx="282.9" cy="1026.6" r="10.4"/><circle cx="299.2" cy="1024.1" r="10.4"/><circle cx="340.7" cy="1025.4" r="10.4"/><circle cx="416.1" cy="1104.5" r="10.4"/><circle cx="375.9" cy="1112.1" r="10.4"/><circle cx="259.0" cy="1102.0" r="10.4"/><circle cx="413.8" cy="1039.8" r="10.4"/><circle cx="439.8" cy="1050.5" r="10.4"/><circle cx="375.6" cy="1110.1" r="10.4"/><circle cx="366.4" cy="1110.1" r="10.4"/><circle cx="360.3" cy="1021.4" r="10.4"/><circle cx="340.4" cy="1024.5" r="10.4"/></g>
<g fill="#7f7f7f" fill-opacity="0.4"><circle cx="313.1" cy="1031.7" r="10.4"/><circle cx="275.4" cy="1092.0" r="10.4"/><circle cx="413.6" cy="1041.7" r="10.4"/><circle cx="436.2" cy="1051.8" r="10.4"/><circle cx="282.3" cy="1091.8" r="10.4"/><circle cx="395.5" cy="1024.5" r="10.4"/><circle cx="383.2" cy="1102.5" r="10.4"/></g>
<g fill="#7f7f7f" fill-opacity="0.9"><circle cx="377.3" cy="1039.4" r="10.4"/><circle cx="286.3" cy="1066.6" r="10.4"/><circle cx="342.6" cy="1086.6" r="10.4"/><circle cx="324.8" cy="1085.9" r="10.4"/><circle cx="361.5" cy="1038.8" r="10.4"/><circle cx="347.0" cy="1053.6" r="10.4"/><circle cx="358.0" cy="1089.6" r="10.4"/><circle cx="341.6" cy="1082.2" r="10.4"/><circle cx="300.7" cy="1065.5" r="10.4"/><circle cx="337.4" cy="1089.4" r="10.4"/><circle cx="361.8" cy="1090.1" r="10.4"/><circle cx="332.5" cy="1090.2" r="10.4"/><circle cx="313.2" cy="1065.2" r="10.4"/><circle cx="367.8" cy="1051.3" r="10.4"/><circle cx="381.2" cy="1038.2" r="10.4"/><circle cx="371.7" cy="1044.2" r="10.4"/><circle cx="333.3" cy="1042.6" r="10.4"/><circle cx="348.9" cy="1065.1" r="10.4"/><circle cx="358.5" cy="1044.0" r="10.4"/><circle cx="360.8" cy="1036.6" r="10.4"/><circle cx="358.5" cy="1096.1" r="10.4"/><circle cx="359.2" cy="1083.6" r="10.4"/><circle cx="312.2" cy="1067.2" r="10.4"/><circle cx="373.2" cy="1091.2" r="10.4"/><circle cx="406.4" cy="1064.9" r="10.4"/><circle cx="377.7" cy="1084.9" r="10.4"/><circle cx="392.6" cy="1064.8" r="10.4"/><circle cx="304.8" cy="1084.2" r="10.4"/><circle cx="328.4" cy="1085.0" r="10.4"/><circle cx="339.0" cy="1094.1" r="10.4"/><circle cx="388.7" cy="1045.5" r="10.4"/><circle cx="358.2" cy="1093.3" r="10.4"/><circle cx="344.0" cy="1089.4" r="10.4"/><circle cx="367.0" cy="1091.4" r="10.4"/><circle cx="342.0" cy="1092.3" r="10.4"/><circle cx="354.4" cy="1068.1" r="10.4"/><circle cx="357.8" cy="1036.0" r="10.4"/><circle cx="345.0" cy="1046.3" r="10.4"/><circle cx="303.9" cy="1064.5" r="10.4"/><circle cx="327.4" cy="1067.3" r="10.4"/><circle cx="362.7" cy="1083.9" r="10.4"/><circle cx="396.0" cy="1066.6" r="10.4"/><circle cx="363.6" cy="1082.4" r="10.4"/><circle cx="371.4" cy="1066.5" r="10.4"/><circle cx="356.0" cy="1078.2" r="10.4"/><circle cx="346.8" cy="1068.2" r="10.4"/><circle cx="350.8" cy="1093.8" r="10.4"/><circle cx="363.3" cy="1093.9" r="10.4"/><circle cx="378.8" cy="1043.8" r="10.4"/><circle cx="338.5" cy="1065.3" r="10.4"/><circle cx="356.6" cy="1056.1" r="10.4"/><circle cx="373.2" cy="1066.9" r="10.4"/><circle cx="342.2" cy="1091.9" r="10.4"/><circle cx="374.8" cy="1085.0" r="10.4"/><circle cx="362.3" cy="1092.8" r="10.4"/><circle cx="358.3" cy="1049.8" r="10.4"/><circle cx="354.2" cy="1046.0" r="10.4"/><circle cx="306.5" cy="1064.6" r="10.4"/><circle cx="353.4" cy="1087.1" r="10.4"/><circle cx="337.7" cy="1066.6" r="10.4"/><circle cx="330.0" cy="1086.9" r="10.4"/><circle cx="317.8" cy="1095.0" r="10.4"/><circle cx="426.7" cy="1069.1" r="10.4"/><circle cx="350.3" cy="1066.3" r="10.4"/><circle cx="308.3" cy="1066.4" r="10.4"/><circle cx="367.3" cy="1068.0" r="10.4"/><circle cx="298.8" cy="1067.6" r="10.4"/><circle cx="354.8" cy="1087.1" r="10.4"/><circle cx="367.1" cy="1090.7" r="10.4"/><circle cx="354.6" cy="1068.3" r="10.4"/><circle cx="378.6" cy="1039.0" r="10.4"/><circle cx="389.4" cy="1047.7" r="10.4"/><circle cx="350.9" cy="1077.6" r="10.4"/><circle cx="376.1" cy="1039.7" r="10.4"/><circle cx="364.6" cy="1035.6" r="10.4"/><circle cx="381.1" cy="1053.1" r="10.4"/><circle cx="356.7" cy="1063.9" r="10.4"/><circle cx="349.0" cy="1042.3" r="10.4"/><circle cx="346.4" cy="1051.7" r="10.4"/><circle cx="299.2" cy="1067.6" r="10.4"/><circle cx="403.3" cy="1066.7" r="10.4"/><circle cx="312.9" cy="1091.0" r="10.4"/><circle cx="352.0" cy="1036.4" r="10.4"/><circle cx="277.9" cy="1065.6" r="10.4"/><circle cx="346.6" cy="1053.8" r="10.4"/><circle cx="325.9" cy="1087.4" r="10.4"/><circle cx="321.2" cy="1093.4" r="10.4"/><circle cx="355.8" cy="1046.7" r="10.4"/><circle cx="334.7" cy="1094.7" r="10.4"/><circle cx="374.3" cy="1092.0" r="10.4"/><circle cx="323.1" cy="1081.1" r="10.4"/><circle cx="378.1" cy="1053.7" r="10.4"/><circle cx="309.3" cy="1091.5" r="10.4"/><circle cx="353.7" cy="1048.6" r="10.4"/><circle cx="346.5" cy="1043.6" r="10.4"/><circle cx="364.9" cy="1090.4" r="10.4"/><circle cx="340.9" cy="1067.7" r="10.4"/><circle cx="414.9" cy="1064.5" r="10.4"/><circle cx="337.5" cy="1092.8" r="10.4"/><circle cx="313.1" cy="1092.4" r="10.4"/><circle cx="376.5" cy="1053.9" r="10.4"/><circle cx="337.0" cy="1048.9" r="10.4"/><circle cx="369.7" cy="1035.5" r="10.4"/><circle cx="413.1" cy="1064.6" r="10.4"/><circle cx="341.9" cy="1051.0" r="10.4"/><circle cx="382.2" cy="1047.3" r="10.4"/><circle cx="354.9" cy="1047.7" r="10.4"/><circle cx="311.4" cy="1082.4" r="10.4"/><circle cx="322.7" cy="1094.4" r="10.4"/><circle cx="353.5" cy="1046.6" r="10.4"/><circle cx="332.2" cy="1086.3" r="10.4"/><circle cx="285.0" cy="1064.5" r="10.4"/><circle cx="334.6" cy="1092.4" r="10.4"/><circle cx="340.5" cy="1085.6" r="10.4"/><circle cx="317.6" cy="1079.7" r="10.4"/><circle cx="313.3" cy="1064.6" r="10.4"/><circle cx="336.7" cy="1050.6" r="10.4"/><circle cx="343.4" cy="1065.7" r="10.4"/><circle cx="370.6" cy="1055.4" r="10.4"/><circle cx="307.7" cy="1082.0" r="10.4"/><circle cx="327.4" cy="1096.2" r="10.4"/><circle cx="292.2" cy="1066.0" r="10.4"/><circle cx="379.4" cy="1042.4" r="10.4"/><circle cx="390.7" cy="1047.3" r="10.4"/><circle cx="366.2" cy="1055.3" r="10.4"/><circle cx="338.2" cy="1096.9" r="10.4"/><circle cx="355.3" cy="1049.3" r="10.4"/><circle cx="350.3" cy="1086.1" r="10.4"/><circle cx="317.3" cy="1083.5" r="10.4"/><circle cx="377.4" cy="1047.6" r="10.4"/><circle cx="277.4" cy="1063.9" r="10.4"/><circle cx="277.4" cy="1068.5" r="10.4"/><circle cx="284.7" cy="1065.3" r="10.4"/><circle cx="284.7" cy="1068.8" r="10.4"/><circle cx="292.0" cy="1064.5" r="10.4"/><circle cx="292.0" cy="1068.7" r="10.4"/><circle cx="299.3" cy="1065.5" r="10.4"/><circle cx="299.3" cy="1068.0" r="10.4"/><circle cx="306.6" cy="1064.1" r="10.4"/><circle cx="306.6" cy="1068.9" r="10.4"/><circle cx="314.0" cy="1064.7" r="10.4"/><circle cx="314.0" cy="1068.0" r="10.4"/><circle cx="321.3" cy="1065.2" r="10.4"/><circle cx="321.3" cy="1068.9" r="10.4"/><circle cx="328.6" cy="1064.3" r="10.4"/><circle cx="328.6" cy="1067.7" r="10.4"/><circle cx="335.9" cy="1064.7" r="10.4"/><circle cx="335.9" cy="1068.6" r="10.4"/><circle cx="343.2" cy="1064.5" r="10.4"/><circle cx="343.2" cy="1067.2" r="10.4"/><circle cx="350.5" cy="1064.5" r="10.4"/><circle cx="350.5" cy="1068.0" r="10.4"/><circle cx="357.8" cy="1064.6" r="10.4"/><circle cx="357.8" cy="1068.3" r="10.4"/><circle cx="365.1" cy="1065.7" r="10.4"/><circle cx="365.1" cy="1067.1" r="10.4"/><circle cx="372.4" cy="1064.7" r="10.4"/><circle cx="372.4" cy="1068.7" r="10.4"/><circle cx="379.8" cy="1065.4" r="10.4"/><circle cx="379.8" cy="1068.7" r="10.4"/><circle cx="387.1" cy="1063.9" r="10.4"/><circle cx="387.1" cy="1067.3" r="10.4"/><circle cx="394.4" cy="1064.8" r="10.4"/><circle cx="394.4" cy="1067.5" r="10.4"/><circle cx="401.7" cy="1064.7" r="10.4"/><circle cx="401.7" cy="1067.4" r="10.4"/><circle cx="409.0" cy="1064.8" r="10.4"/><circle cx="409.0" cy="1068.8" r="10.4"/><circle cx="416.3" cy="1064.0" r="10.4"/><circle cx="416.3" cy="1068.0" r="10.4"/><circle cx="423.6" cy="1065.2" r="10.4"/><circle cx="423.6" cy="1067.3" r="10.4"/><circle cx="430.9" cy="1064.1" r="10.4"/><circle cx="430.9" cy="1067.9" r="10.4"/><circle cx="278.1" cy="1063.9" r="10.4"/><circle cx="429.9" cy="1063.9" r="10.4"/><circle cx="277.7" cy="1069.1" r="10.4"/><circle cx="430.4" cy="1069.1" r="10.4"/><circle cx="331.3" cy="1044.5" r="10.4"/><circle cx="334.9" cy="1041.2" r="10.4"/><circle cx="339.5" cy="1038.7" r="10.4"/><circle cx="348.0" cy="1036.2" r="10.4"/><circle cx="356.2" cy="1035.4" r="10.4"/><circle cx="365.6" cy="1035.0" r="10.4"/><circle cx="374.6" cy="1036.0" r="10.4"/><circle cx="382.5" cy="1038.0" r="10.4"/><circle cx="387.4" cy="1040.7" r="10.4"/><circle cx="390.5" cy="1044.0" r="10.4"/><circle cx="392.1" cy="1047.3" r="10.4"/><circle cx="388.1" cy="1050.4" r="10.4"/><circle cx="383.3" cy="1053.2" r="10.4"/><circle cx="375.9" cy="1055.0" r="10.4"/><circle cx="367.1" cy="1056.5" r="10.4"/><circle cx="357.8" cy="1056.1" r="10.4"/><circle cx="348.9" cy="1055.6" r="10.4"/><circle cx="342.0" cy="1053.8" r="10.4"/><circle cx="336.3" cy="1051.0" r="10.4"/><circle cx="332.4" cy="1047.8" r="10.4"/><circle cx="327.6" cy="1096.5" r="10.4"/><circle cx="319.4" cy="1095.4" r="10.4"/><circle cx="312.5" cy="1093.6" r="10.4"/><circle cx="308.3" cy="1091.6" r="10.4"/><circle cx="304.1" cy="1089.2" r="10.4"/><circle cx="302.5" cy="1086.8" r="10.4"/><circle cx="304.9" cy="1084.4" r="10.4"/><circle cx="308.6" cy="1082.2" r="10.4"/><circle cx="315.0" cy="1080.2" r="10.4"/><circle cx="322.2" cy="1078.7" r="10.4"/><circle cx="330.3" cy="1078.0" r="10.4"/><circle cx="339.5" cy="1077.6" r="10.4"/><circle cx="348.9" cy="1077.3" r="10.4"/><circle cx="357.5" cy="1078.7" r="10.4"/><circle cx="365.2" cy="1079.9" r="10.4"/><circle cx="372.3" cy="1081.8" r="10.4"/><circle cx="376.4" cy="1083.8" r="10.4"/><circle cx="378.1" cy="1086.3" r="10.4"/><circle cx="376.3" cy="1088.8" r="10.4"/><circle cx="374.4" cy="1091.3" r="10.4"/><circle cx="370.5" cy="1093.1" r="10.4"/><circle cx="363.5" cy="1095.3" r="10.4"/><circle cx="354.5" cy="1096.2" r="10.4"/><circle cx="346.1" cy="1096.7" r="10.4"/><circle cx="336.5" cy="1096.8" r="10.4"/><circle cx="305.9" cy="1095.9" r="10.4"/><circle cx="331.6" cy="1039.5" r="10.4"/></g>
<g fill="#2a14f0"><circle cx="248.4" cy="1062.1" r="10.4"/><circle cx="252.9" cy="1070.8" r="10.4"/><circle cx="239.6" cy="1069.1" r="10.4"/><circle cx="238.2" cy="1065.3" r="10.4"/><circle cx="251.8" cy="1062.7" r="10.4"/><circle cx="258.0" cy="1065.7" r="10.4"/><circle cx="250.3" cy="1070.6" r="10.4"/><circle cx="251.6" cy="1063.2" r="10.4"/><circle cx="256.0" cy="1061.3" r="10.4"/><circle cx="261.1" cy="1066.0" r="10.4"/><circle cx="244.6" cy="1068.8" r="10.4"/><circle cx="246.7" cy="1060.0" r="10.4"/><circle cx="256.6" cy="1061.1" r="10.4"/><circle cx="250.5" cy="1067.3" r="10.4"/><circle cx="472.3" cy="1068.2" r="10.4"/><circle cx="468.1" cy="1076.1" r="10.4"/><circle cx="452.8" cy="1064.7" r="10.4"/><circle cx="451.8" cy="1066.9" r="10.4"/><circle cx="456.5" cy="1070.8" r="10.4"/><circle cx="471.2" cy="1064.3" r="10.4"/><circle cx="472.6" cy="1068.9" r="10.4"/><circle cx="457.3" cy="1063.4" r="10.4"/><circle cx="451.3" cy="1071.7" r="10.4"/><circle cx="482.5" cy="1074.2" r="10.4"/><circle cx="463.6" cy="1065.3" r="10.4"/><circle cx="470.1" cy="1066.8" r="10.4"/><circle cx="473.4" cy="1068.4" r="10.4"/><circle cx="485.2" cy="1073.3" r="10.4"/><circle cx="457.5" cy="1076.2" r="10.4"/><circle cx="449.3" cy="1069.9" r="10.4"/><circle cx="463.8" cy="1064.9" r="10.4"/><circle cx="448.0" cy="1070.2" r="10.4"/><circle cx="455.5" cy="1071.2" r="10.4"/><circle cx="467.9" cy="1071.8" r="10.4"/><circle cx="480.2" cy="1063.8" r="10.4"/><circle cx="459.9" cy="1065.9" r="10.4"/><circle cx="233.9" cy="1059.3" r="10.4"/><circle cx="257.8" cy="1058.0" r="10.4"/><circle cx="453.8" cy="1061.8" r="10.4"/><circle cx="481.4" cy="1074.4" r="10.4"/><circle cx="483.9" cy="1069.3" r="10.4"/><circle cx="445.0" cy="1069.3" r="10.4"/><circle cx="504.5" cy="1060.6" r="10.4"/><circle cx="529.1" cy="1059.8" r="10.4"/><circle cx="610.8" cy="1065.6" r="10.4"/></g>
</g>
<line x1="216.3" y1="718" x2="216.3" y2="1126.1" stroke="#000" stroke-width="2.2"/><line x1="215.8" y1="1124.1" x2="655" y2="1124.1" stroke="#000" stroke-width="4.1"/><line x1="247.7" y1="1124.1" x2="247.7" y2="1136.6999999999998" stroke="#000" stroke-width="3.6"/><text x="247.7" y="1170.1" font-size="33.7" text-anchor="middle" font-family="Liberation Sans, Arial, sans-serif">-0.2</text><line x1="358.8" y1="1124.1" x2="358.8" y2="1136.6999999999998" stroke="#000" stroke-width="3.6"/><text x="358.8" y="1170.1" font-size="33.7" text-anchor="middle" font-family="Liberation Sans, Arial, sans-serif">0.0</text><line x1="470.1" y1="1124.1" x2="470.1" y2="1136.6999999999998" stroke="#000" stroke-width="3.6"/><text x="470.1" y="1170.1" font-size="33.7" text-anchor="middle" font-family="Liberation Sans, Arial, sans-serif">0.2</text><line x1="581.7" y1="1124.1" x2="581.7" y2="1136.6999999999998" stroke="#000" stroke-width="3.6"/><text x="581.7" y="1170.1" font-size="33.7" text-anchor="middle" font-family="Liberation Sans, Arial, sans-serif">0.4</text><line x1="206.0" y1="828" x2="216.3" y2="828" stroke="#000" stroke-width="3.5"/><text x="195.3" y="840" font-size="33.7" text-anchor="end" font-family="Liberation Sans, Arial, sans-serif">0.2</text><line x1="206.0" y1="946.9" x2="216.3" y2="946.9" stroke="#000" stroke-width="3.5"/><text x="195.3" y="958.9" font-size="33.7" text-anchor="end" font-family="Liberation Sans, Arial, sans-serif">0.1</text><line x1="206.0" y1="1065.8" x2="216.3" y2="1065.8" stroke="#000" stroke-width="3.5"/><text x="195.3" y="1077.8" font-size="33.7" text-anchor="end" font-family="Liberation Sans, Arial, sans-serif">0.0</text>
<text transform="translate(341.5,1217.5) scale(0.92,1)" font-size="42" font-family="Liberation Serif, DejaVu Serif, serif">β</text><text x="363.5" y="1224.3" font-size="29.6" font-family="Liberation Sans, Arial, sans-serif">Lung Cancer</text>
<g transform="translate(118.5,980.25) rotate(-90)"><text transform="scale(0.88,1)" x="0" y="0" font-size="41" font-family="Liberation Serif, DejaVu Serif, serif">β</text><text x="23" y="8" font-size="29.4" font-family="Liberation Sans, Arial, sans-serif">Smkinit</text></g>
<clipPath id="cd"><rect x="817.5" y="718" width="440" height="405.8"/></clipPath>
<g clip-path="url(#cd)">
<path d="M837.7,1018.4 L842.7,1012.9 L847.7,1007.4 L852.7,1002.0 L857.7,996.5 L862.7,991.2 L867.6,985.8 L872.6,980.5 L877.6,975.2 L882.6,969.9 L887.6,964.6 L892.6,959.4 L897.6,954.2 L902.6,948.9 L907.6,943.8 L912.6,938.6 L917.6,933.4 L922.6,928.3 L927.5,923.2 L932.5,918.1 L937.5,913.0 L942.5,908.0 L947.5,902.9 L952.5,897.9 L957.5,892.9 L962.5,887.8 L967.5,882.9 L972.5,877.9 L977.5,872.9 L982.4,868.0 L987.4,863.0 L992.4,858.1 L997.4,853.2 L1002.4,848.3 L1007.4,843.5 L1012.4,838.6 L1017.4,833.8 L1022.4,828.9 L1027.4,824.1 L1032.4,819.3 L1037.3,814.5 L1042.3,809.7 L1047.3,805.0 L1052.3,800.2 L1057.3,795.5 L1062.3,790.8 L1067.3,786.1 L1072.3,781.4 L1077.3,776.7 L1082.3,772.1 L1087.3,767.5 L1092.3,762.8 L1097.2,758.3 L1102.2,753.7 L1107.2,749.1 L1112.2,744.6 L1117.2,740.1 L1122.2,735.6 L1127.2,731.1 L1132.2,726.6 L1137.2,722.2 L1142.2,717.8 L1147.2,713.5 L1152.1,709.1 L1157.1,704.8 L1162.1,700.5 L1167.1,696.3 L1172.1,692.1 L1177.1,687.9 L1182.1,683.8 L1187.1,679.8 L1192.1,675.8 L1197.1,671.8 L1202.1,668.0 L1207.1,664.3 L1212.0,660.6 L1217.0,657.2 L1222.0,653.9 L1227.0,651.0 L1232.0,648.7 L1237.0,649.0 L1237.0,652.2 L1232.0,662.2 L1227.0,669.7 L1222.0,676.5 L1217.0,683.1 L1212.0,689.4 L1207.1,695.5 L1202.1,701.6 L1197.1,707.5 L1192.1,713.4 L1187.1,719.2 L1182.1,724.9 L1177.1,730.5 L1172.1,736.2 L1167.1,741.7 L1162.1,747.3 L1157.1,752.8 L1152.1,758.2 L1147.2,763.7 L1142.2,769.1 L1137.2,774.5 L1132.2,779.8 L1127.2,785.1 L1122.2,790.5 L1117.2,795.7 L1112.2,801.0 L1107.2,806.2 L1102.2,811.5 L1097.2,816.7 L1092.3,821.8 L1087.3,827.0 L1082.3,832.1 L1077.3,837.3 L1072.3,842.4 L1067.3,847.5 L1062.3,852.6 L1057.3,857.6 L1052.3,862.7 L1047.3,867.7 L1042.3,872.7 L1037.3,877.7 L1032.4,882.7 L1027.4,887.7 L1022.4,892.6 L1017.4,897.6 L1012.4,902.5 L1007.4,907.4 L1002.4,912.3 L997.4,917.2 L992.4,922.1 L987.4,927.0 L982.4,931.8 L977.5,936.6 L972.5,941.4 L967.5,946.2 L962.5,951.0 L957.5,955.8 L952.5,960.6 L947.5,965.3 L942.5,970.0 L937.5,974.7 L932.5,979.4 L927.5,984.1 L922.6,988.8 L917.6,993.4 L912.6,998.1 L907.6,1002.7 L902.6,1007.3 L897.6,1011.8 L892.6,1016.4 L887.6,1020.9 L882.6,1025.4 L877.6,1029.9 L872.6,1034.4 L867.6,1038.8 L862.7,1043.3 L857.7,1047.7 L852.7,1052.0 L847.7,1056.4 L842.7,1060.7 L837.7,1064.9Z" fill="#fbeceb"/><path d="M837.7,863.4 L842.7,862.6 L847.6,861.8 L852.6,861.1 L857.5,860.4 L862.5,859.7 L867.5,859.1 L872.4,858.5 L877.4,857.9 L882.3,857.3 L887.3,856.8 L892.3,856.2 L897.2,855.7 L902.2,855.3 L907.1,854.8 L912.1,854.3 L917.1,853.9 L922.0,853.5 L927.0,853.1 L931.9,852.7 L936.9,852.4 L941.9,852.0 L946.8,851.7 L951.8,851.4 L956.7,851.1 L961.7,850.8 L966.7,850.5 L971.6,850.3 L976.6,850.0 L981.5,849.8 L986.5,849.6 L991.5,849.4 L996.4,849.2 L1001.4,849.1 L1006.3,848.9 L1011.3,848.8 L1016.3,848.7 L1021.2,848.5 L1026.2,848.5 L1031.1,848.4 L1036.1,848.3 L1041.1,848.3 L1046.0,848.2 L1051.0,848.2 L1055.9,848.2 L1060.9,848.2 L1065.9,848.2 L1070.8,848.3 L1075.8,848.3 L1080.7,848.4 L1085.7,848.5 L1090.7,848.6 L1095.6,848.8 L1100.6,848.9 L1105.5,849.1 L1110.5,849.3 L1115.5,849.5 L1120.4,849.7 L1125.4,850.0 L1130.3,850.2 L1135.3,850.5 L1140.3,850.9 L1145.2,851.2 L1150.2,851.6 L1155.1,852.0 L1160.1,852.5 L1165.1,853.0 L1170.0,853.5 L1175.0,854.1 L1179.9,854.7 L1184.9,855.4 L1189.9,856.1 L1194.8,857.0 L1199.8,857.8 L1204.7,858.8 L1209.7,860.0 L1214.7,861.3 L1219.6,862.8 L1224.6,864.6 L1229.5,867.2 L1234.5,873.4 L1234.5,873.4 L1229.5,880.0 L1224.6,882.9 L1219.6,885.1 L1214.7,886.9 L1209.7,888.5 L1204.7,890.0 L1199.8,891.3 L1194.8,892.5 L1189.9,893.7 L1184.9,894.7 L1179.9,895.7 L1175.0,896.7 L1170.0,897.6 L1165.1,898.4 L1160.1,899.3 L1155.1,900.0 L1150.2,900.8 L1145.2,901.5 L1140.3,902.2 L1135.3,902.8 L1130.3,903.5 L1125.4,904.1 L1120.4,904.6 L1115.5,905.2 L1110.5,905.7 L1105.5,906.2 L1100.6,906.7 L1095.6,907.2 L1090.7,907.7 L1085.7,908.1 L1080.7,908.5 L1075.8,908.9 L1070.8,909.3 L1065.9,909.7 L1060.9,910.0 L1055.9,910.4 L1051.0,910.7 L1046.0,911.0 L1041.1,911.3 L1036.1,911.6 L1031.1,911.8 L1026.2,912.1 L1021.2,912.3 L1016.3,912.5 L1011.3,912.7 L1006.3,912.9 L1001.4,913.1 L996.4,913.2 L991.5,913.4 L986.5,913.5 L981.5,913.6 L976.6,913.7 L971.6,913.8 L966.7,913.9 L961.7,913.9 L956.7,914.0 L951.8,914.0 L946.8,914.0 L941.9,914.0 L936.9,914.0 L931.9,913.9 L927.0,913.9 L922.0,913.8 L917.1,913.7 L912.1,913.6 L907.1,913.5 L902.2,913.4 L897.2,913.2 L892.3,913.0 L887.3,912.8 L882.3,912.6 L877.4,912.3 L872.4,912.1 L867.5,911.8 L862.5,911.5 L857.5,911.1 L852.6,910.7 L847.6,910.3 L842.7,909.9 L837.7,909.4Z" fill="#e7eafc"/><clipPath id="id"><path d="M837.7,863.4 L842.7,862.6 L847.6,861.8 L852.6,861.1 L857.5,860.4 L862.5,859.7 L867.5,859.1 L872.4,858.5 L877.4,857.9 L882.3,857.3 L887.3,856.8 L892.3,856.2 L897.2,855.7 L902.2,855.3 L907.1,854.8 L912.1,854.3 L917.1,853.9 L922.0,853.5 L927.0,853.1 L931.9,852.7 L936.9,852.4 L941.9,852.0 L946.8,851.7 L951.8,851.4 L956.7,851.1 L961.7,850.8 L966.7,850.5 L971.6,850.3 L976.6,850.0 L981.5,849.8 L986.5,849.6 L991.5,849.4 L996.4,849.2 L1001.4,849.1 L1006.3,848.9 L1011.3,848.8 L1016.3,848.7 L1021.2,848.5 L1026.2,848.5 L1031.1,848.4 L1036.1,848.3 L1041.1,848.3 L1046.0,848.2 L1051.0,848.2 L1055.9,848.2 L1060.9,848.2 L1065.9,848.2 L1070.8,848.3 L1075.8,848.3 L1080.7,848.4 L1085.7,848.5 L1090.7,848.6 L1095.6,848.8 L1100.6,848.9 L1105.5,849.1 L1110.5,849.3 L1115.5,849.5 L1120.4,849.7 L1125.4,850.0 L1130.3,850.2 L1135.3,850.5 L1140.3,850.9 L1145.2,851.2 L1150.2,851.6 L1155.1,852.0 L1160.1,852.5 L1165.1,853.0 L1170.0,853.5 L1175.0,854.1 L1179.9,854.7 L1184.9,855.4 L1189.9,856.1 L1194.8,857.0 L1199.8,857.8 L1204.7,858.8 L1209.7,860.0 L1214.7,861.3 L1219.6,862.8 L1224.6,864.6 L1229.5,867.2 L1234.5,873.4 L1234.5,873.4 L1229.5,880.0 L1224.6,882.9 L1219.6,885.1 L1214.7,886.9 L1209.7,888.5 L1204.7,890.0 L1199.8,891.3 L1194.8,892.5 L1189.9,893.7 L1184.9,894.7 L1179.9,895.7 L1175.0,896.7 L1170.0,897.6 L1165.1,898.4 L1160.1,899.3 L1155.1,900.0 L1150.2,900.8 L1145.2,901.5 L1140.3,902.2 L1135.3,902.8 L1130.3,903.5 L1125.4,904.1 L1120.4,904.6 L1115.5,905.2 L1110.5,905.7 L1105.5,906.2 L1100.6,906.7 L1095.6,907.2 L1090.7,907.7 L1085.7,908.1 L1080.7,908.5 L1075.8,908.9 L1070.8,909.3 L1065.9,909.7 L1060.9,910.0 L1055.9,910.4 L1051.0,910.7 L1046.0,911.0 L1041.1,911.3 L1036.1,911.6 L1031.1,911.8 L1026.2,912.1 L1021.2,912.3 L1016.3,912.5 L1011.3,912.7 L1006.3,912.9 L1001.4,913.1 L996.4,913.2 L991.5,913.4 L986.5,913.5 L981.5,913.6 L976.6,913.7 L971.6,913.8 L966.7,913.9 L961.7,913.9 L956.7,914.0 L951.8,914.0 L946.8,914.0 L941.9,914.0 L936.9,914.0 L931.9,913.9 L927.0,913.9 L922.0,913.8 L917.1,913.7 L912.1,913.6 L907.1,913.5 L902.2,913.4 L897.2,913.2 L892.3,913.0 L887.3,912.8 L882.3,912.6 L877.4,912.3 L872.4,912.1 L867.5,911.8 L862.5,911.5 L857.5,911.1 L852.6,910.7 L847.6,910.3 L842.7,909.9 L837.7,909.4Z"/></clipPath><g clip-path="url(#id)"><path d="M837.7,1018.4 L842.7,1012.9 L847.7,1007.4 L852.7,1002.0 L857.7,996.5 L862.7,991.2 L867.6,985.8 L872.6,980.5 L877.6,975.2 L882.6,969.9 L887.6,964.6 L892.6,959.4 L897.6,954.2 L902.6,948.9 L907.6,943.8 L912.6,938.6 L917.6,933.4 L922.6,928.3 L927.5,923.2 L932.5,918.1 L937.5,913.0 L942.5,908.0 L947.5,902.9 L952.5,897.9 L957.5,892.9 L962.5,887.8 L967.5,882.9 L972.5,877.9 L977.5,872.9 L982.4,868.0 L987.4,863.0 L992.4,858.1 L997.4,853.2 L1002.4,848.3 L1007.4,843.5 L1012.4,838.6 L1017.4,833.8 L1022.4,828.9 L1027.4,824.1 L1032.4,819.3 L1037.3,814.5 L1042.3,809.7 L1047.3,805.0 L1052.3,800.2 L1057.3,795.5 L1062.3,790.8 L1067.3,786.1 L1072.3,781.4 L1077.3,776.7 L1082.3,772.1 L1087.3,767.5 L1092.3,762.8 L1097.2,758.3 L1102.2,753.7 L1107.2,749.1 L1112.2,744.6 L1117.2,740.1 L1122.2,735.6 L1127.2,731.1 L1132.2,726.6 L1137.2,722.2 L1142.2,717.8 L1147.2,713.5 L1152.1,709.1 L1157.1,704.8 L1162.1,700.5 L1167.1,696.3 L1172.1,692.1 L1177.1,687.9 L1182.1,683.8 L1187.1,679.8 L1192.1,675.8 L1197.1,671.8 L1202.1,668.0 L1207.1,664.3 L1212.0,660.6 L1217.0,657.2 L1222.0,653.9 L1227.0,651.0 L1232.0,648.7 L1237.0,649.0 L1237.0,652.2 L1232.0,662.2 L1227.0,669.7 L1222.0,676.5 L1217.0,683.1 L1212.0,689.4 L1207.1,695.5 L1202.1,701.6 L1197.1,707.5 L1192.1,713.4 L1187.1,719.2 L1182.1,724.9 L1177.1,730.5 L1172.1,736.2 L1167.1,741.7 L1162.1,747.3 L1157.1,752.8 L1152.1,758.2 L1147.2,763.7 L1142.2,769.1 L1137.2,774.5 L1132.2,779.8 L1127.2,785.1 L1122.2,790.5 L1117.2,795.7 L1112.2,801.0 L1107.2,806.2 L1102.2,811.5 L1097.2,816.7 L1092.3,821.8 L1087.3,827.0 L1082.3,832.1 L1077.3,837.3 L1072.3,842.4 L1067.3,847.5 L1062.3,852.6 L1057.3,857.6 L1052.3,862.7 L1047.3,867.7 L1042.3,872.7 L1037.3,877.7 L1032.4,882.7 L1027.4,887.7 L1022.4,892.6 L1017.4,897.6 L1012.4,902.5 L1007.4,907.4 L1002.4,912.3 L997.4,917.2 L992.4,922.1 L987.4,927.0 L982.4,931.8 L977.5,936.6 L972.5,941.4 L967.5,946.2 L962.5,951.0 L957.5,955.8 L952.5,960.6 L947.5,965.3 L942.5,970.0 L937.5,974.7 L932.5,979.4 L927.5,984.1 L922.6,988.8 L917.6,993.4 L912.6,998.1 L907.6,1002.7 L902.6,1007.3 L897.6,1011.8 L892.6,1016.4 L887.6,1020.9 L882.6,1025.4 L877.6,1029.9 L872.6,1034.4 L867.6,1038.8 L862.7,1043.3 L857.7,1047.7 L852.7,1052.0 L847.7,1056.4 L842.7,1060.7 L837.7,1064.9Z" fill="#e9dbef"/></g>
<line x1="837.7" y1="886.4" x2="1234.7" y2="873.4" stroke="#2a14f0" stroke-width="3.9"/>
<line x1="837.7" y1="1041.7" x2="1168.1" y2="718.1" stroke="#fb2d17" stroke-width="3.9"/>
<g fill="#7f7f7f" fill-opacity="0.2"><circle cx="1068.8" cy="735.2" r="10.4"/><circle cx="1045.0" cy="781.7" r="10.4"/><circle cx="1045.0" cy="795.5" r="10.4"/><circle cx="914.8" cy="1105.0" r="10.4"/><circle cx="960.8" cy="973.9" r="10.4"/><circle cx="1006.7" cy="919.9" r="10.4"/><circle cx="985.2" cy="933.1" r="10.4"/><circle cx="1074.4" cy="845.6" r="10.4"/><circle cx="1069.5" cy="860.4" r="10.4"/><circle cx="1062.9" cy="838.9" r="10.4"/><circle cx="925.7" cy="911.6" r="10.4"/><circle cx="932.3" cy="906.7" r="10.4"/></g>
<g fill="#7f7f7f" fill-opacity="0.4"><circle cx="1024.9" cy="898.4" r="10.4"/><circle cx="975.3" cy="933.1" r="10.4"/><circle cx="935.6" cy="910.0" r="10.4"/><circle cx="1039.7" cy="872.0" r="10.4"/><circle cx="1059.6" cy="850.5" r="10.4"/><circle cx="1023.2" cy="834.0" r="10.4"/></g>
<g fill="#7f7f7f" fill-opacity="0.9"><circle cx="949.8" cy="915.2" r="10.4"/><circle cx="945.1" cy="911.5" r="10.4"/><circle cx="981.5" cy="903.7" r="10.4"/><circle cx="970.8" cy="916.7" r="10.4"/><circle cx="992.7" cy="901.6" r="10.4"/><circle cx="953.0" cy="917.0" r="10.4"/><circle cx="984.6" cy="909.3" r="10.4"/><circle cx="951.7" cy="913.4" r="10.4"/><circle cx="975.6" cy="900.9" r="10.4"/><circle cx="985.1" cy="868.3" r="10.4"/><circle cx="992.6" cy="905.6" r="10.4"/><circle cx="982.7" cy="900.0" r="10.4"/><circle cx="1003.9" cy="859.6" r="10.4"/><circle cx="1039.7" cy="849.3" r="10.4"/><circle cx="982.8" cy="910.5" r="10.4"/><circle cx="953.3" cy="906.8" r="10.4"/><circle cx="1042.8" cy="848.9" r="10.4"/><circle cx="967.2" cy="863.5" r="10.4"/><circle cx="1003.1" cy="904.1" r="10.4"/><circle cx="982.9" cy="868.7" r="10.4"/><circle cx="961.6" cy="911.4" r="10.4"/><circle cx="965.6" cy="866.7" r="10.4"/><circle cx="971.8" cy="868.7" r="10.4"/><circle cx="1002.1" cy="855.0" r="10.4"/><circle cx="988.5" cy="907.1" r="10.4"/><circle cx="989.1" cy="903.0" r="10.4"/><circle cx="1007.8" cy="903.6" r="10.4"/><circle cx="990.9" cy="860.6" r="10.4"/><circle cx="962.2" cy="906.3" r="10.4"/><circle cx="1004.2" cy="901.0" r="10.4"/><circle cx="1001.0" cy="894.6" r="10.4"/><circle cx="987.8" cy="904.8" r="10.4"/><circle cx="990.9" cy="899.4" r="10.4"/><circle cx="983.3" cy="863.7" r="10.4"/><circle cx="969.2" cy="903.0" r="10.4"/><circle cx="968.6" cy="908.0" r="10.4"/><circle cx="987.7" cy="859.3" r="10.4"/><circle cx="958.7" cy="905.9" r="10.4"/><circle cx="986.0" cy="862.7" r="10.4"/><circle cx="950.7" cy="910.2" r="10.4"/><circle cx="959.9" cy="910.4" r="10.4"/><circle cx="970.2" cy="905.9" r="10.4"/><circle cx="963.0" cy="915.4" r="10.4"/><circle cx="1003.1" cy="903.0" r="10.4"/><circle cx="1005.7" cy="863.6" r="10.4"/><circle cx="945.1" cy="911.2" r="10.4"/><circle cx="1050.6" cy="848.0" r="10.4"/><circle cx="1002.5" cy="905.4" r="10.4"/><circle cx="1000.1" cy="864.2" r="10.4"/><circle cx="981.0" cy="868.0" r="10.4"/><circle cx="1019.7" cy="859.3" r="10.4"/><circle cx="1028.7" cy="850.1" r="10.4"/><circle cx="1006.5" cy="863.1" r="10.4"/><circle cx="1015.6" cy="859.3" r="10.4"/><circle cx="954.1" cy="913.6" r="10.4"/><circle cx="1025.1" cy="848.7" r="10.4"/><circle cx="1034.7" cy="848.3" r="10.4"/><circle cx="978.8" cy="902.0" r="10.4"/><circle cx="962.7" cy="912.9" r="10.4"/><circle cx="960.4" cy="907.6" r="10.4"/><circle cx="987.0" cy="906.7" r="10.4"/><circle cx="986.0" cy="898.3" r="10.4"/><circle cx="949.1" cy="910.6" r="10.4"/><circle cx="1007.6" cy="864.4" r="10.4"/><circle cx="966.5" cy="903.7" r="10.4"/><circle cx="995.8" cy="858.8" r="10.4"/><circle cx="972.6" cy="903.8" r="10.4"/><circle cx="954.1" cy="908.4" r="10.4"/><circle cx="964.4" cy="899.7" r="10.4"/><circle cx="1007.1" cy="863.4" r="10.4"/><circle cx="1036.9" cy="845.6" r="10.4"/><circle cx="997.6" cy="855.7" r="10.4"/><circle cx="1023.7" cy="857.9" r="10.4"/><circle cx="1013.8" cy="853.5" r="10.4"/><circle cx="960.4" cy="913.7" r="10.4"/><circle cx="962.9" cy="882.3" r="10.4"/><circle cx="950.7" cy="915.7" r="10.4"/><circle cx="1018.3" cy="859.2" r="10.4"/><circle cx="997.2" cy="865.4" r="10.4"/><circle cx="964.3" cy="905.4" r="10.4"/><circle cx="1023.1" cy="858.0" r="10.4"/><circle cx="1024.2" cy="846.3" r="10.4"/><circle cx="965.0" cy="910.5" r="10.4"/><circle cx="979.9" cy="900.5" r="10.4"/><circle cx="986.6" cy="903.8" r="10.4"/><circle cx="951.2" cy="913.9" r="10.4"/><circle cx="972.1" cy="909.3" r="10.4"/><circle cx="1021.7" cy="857.9" r="10.4"/><circle cx="1022.1" cy="850.3" r="10.4"/><circle cx="971.0" cy="869.4" r="10.4"/><circle cx="1003.4" cy="854.0" r="10.4"/><circle cx="1007.4" cy="895.5" r="10.4"/><circle cx="966.6" cy="900.4" r="10.4"/><circle cx="978.7" cy="861.8" r="10.4"/><circle cx="975.9" cy="923.3" r="10.4"/><circle cx="977.1" cy="905.5" r="10.4"/><circle cx="993.0" cy="902.5" r="10.4"/><circle cx="983.4" cy="897.5" r="10.4"/><circle cx="986.9" cy="868.4" r="10.4"/><circle cx="964.8" cy="866.9" r="10.4"/><circle cx="1014.8" cy="845.2" r="10.4"/><circle cx="989.9" cy="906.8" r="10.4"/><circle cx="978.3" cy="898.8" r="10.4"/><circle cx="1018.2" cy="858.0" r="10.4"/><circle cx="1028.3" cy="850.6" r="10.4"/><circle cx="955.4" cy="916.4" r="10.4"/><circle cx="950.4" cy="915.3" r="10.4"/><circle cx="958.0" cy="910.0" r="10.4"/><circle cx="983.2" cy="862.0" r="10.4"/><circle cx="965.5" cy="865.2" r="10.4"/><circle cx="969.1" cy="871.3" r="10.4"/><circle cx="964.0" cy="867.6" r="10.4"/><circle cx="965.3" cy="861.0" r="10.4"/><circle cx="971.3" cy="860.2" r="10.4"/><circle cx="973.5" cy="866.7" r="10.4"/><circle cx="989.1" cy="858.8" r="10.4"/><circle cx="992.6" cy="863.8" r="10.4"/><circle cx="988.8" cy="869.1" r="10.4"/><circle cx="981.4" cy="869.0" r="10.4"/><circle cx="977.7" cy="863.6" r="10.4"/><circle cx="981.6" cy="858.7" r="10.4"/><circle cx="999.3" cy="853.0" r="10.4"/><circle cx="1007.1" cy="854.2" r="10.4"/><circle cx="1010.6" cy="859.3" r="10.4"/><circle cx="1007.6" cy="864.8" r="10.4"/><circle cx="1000.2" cy="866.2" r="10.4"/><circle cx="993.7" cy="862.8" r="10.4"/><circle cx="993.2" cy="857.0" r="10.4"/><circle cx="1013.2" cy="846.0" r="10.4"/><circle cx="1021.0" cy="845.2" r="10.4"/><circle cx="1026.6" cy="849.5" r="10.4"/><circle cx="1026.0" cy="856.1" r="10.4"/><circle cx="1019.4" cy="859.6" r="10.4"/><circle cx="1012.0" cy="857.6" r="10.4"/><circle cx="1009.3" cy="851.5" r="10.4"/><circle cx="1031.4" cy="852.8" r="10.4"/><circle cx="1025.6" cy="849.5" r="10.4"/><circle cx="1029.2" cy="845.4" r="10.4"/><circle cx="1038.2" cy="844.8" r="10.4"/><circle cx="1044.0" cy="848.3" r="10.4"/><circle cx="1040.3" cy="852.1" r="10.4"/><circle cx="1049.8" cy="844.7" r="10.4"/><circle cx="1052.8" cy="848.1" r="10.4"/><circle cx="1014.3" cy="841.8" r="10.4"/><circle cx="947.6" cy="916.3" r="10.4"/><circle cx="944.9" cy="910.9" r="10.4"/><circle cx="949.1" cy="906.1" r="10.4"/><circle cx="956.5" cy="907.1" r="10.4"/><circle cx="959.4" cy="912.3" r="10.4"/><circle cx="955.1" cy="917.0" r="10.4"/><circle cx="978.9" cy="910.6" r="10.4"/><circle cx="974.8" cy="915.9" r="10.4"/><circle cx="967.9" cy="917.6" r="10.4"/><circle cx="961.4" cy="914.8" r="10.4"/><circle cx="957.9" cy="909.3" r="10.4"/><circle cx="960.2" cy="903.1" r="10.4"/><circle cx="965.7" cy="899.7" r="10.4"/><circle cx="972.9" cy="899.8" r="10.4"/><circle cx="978.4" cy="904.5" r="10.4"/><circle cx="985.6" cy="911.0" r="10.4"/><circle cx="978.1" cy="909.0" r="10.4"/><circle cx="974.3" cy="903.6" r="10.4"/><circle cx="977.3" cy="898.3" r="10.4"/><circle cx="984.8" cy="895.7" r="10.4"/><circle cx="992.4" cy="898.1" r="10.4"/><circle cx="996.2" cy="903.1" r="10.4"/><circle cx="993.3" cy="908.6" r="10.4"/><circle cx="1001.0" cy="894.1" r="10.4"/><circle cx="1008.4" cy="896.2" r="10.4"/><circle cx="1010.8" cy="901.0" r="10.4"/><circle cx="1006.3" cy="905.4" r="10.4"/><circle cx="998.5" cy="905.7" r="10.4"/><circle cx="993.3" cy="901.8" r="10.4"/><circle cx="994.1" cy="896.8" r="10.4"/><circle cx="1013.8" cy="896.4" r="10.4"/><circle cx="974.4" cy="922.9" r="10.4"/><circle cx="961.4" cy="883.5" r="10.4"/><circle cx="962.8" cy="877.0" r="10.4"/></g>
<g fill="#fb2d17"><circle cx="1145.5" cy="759.8" r="10.4"/><circle cx="837.3" cy="957.9" r="10.4"/><circle cx="986.0" cy="948.8" r="10.4"/><circle cx="1092.5" cy="805.5" r="10.4"/><circle cx="1049.7" cy="816.0" r="10.4"/><circle cx="1074.5" cy="808.7" r="10.4"/><circle cx="1107.2" cy="788.6" r="10.4"/><circle cx="1062.3" cy="827.7" r="10.4"/><circle cx="1045.8" cy="827.3" r="10.4"/><circle cx="1064.2" cy="824.7" r="10.4"/><circle cx="1080.8" cy="814.3" r="10.4"/><circle cx="1049.2" cy="828.4" r="10.4"/><circle cx="1081.3" cy="805.5" r="10.4"/><circle cx="1099.2" cy="806.5" r="10.4"/><circle cx="1040.4" cy="822.3" r="10.4"/><circle cx="1059.2" cy="810.0" r="10.4"/><circle cx="1035.9" cy="824.5" r="10.4"/><circle cx="1051.9" cy="828.0" r="10.4"/><circle cx="1065.1" cy="804.2" r="10.4"/><circle cx="1059.4" cy="817.4" r="10.4"/><circle cx="1058.9" cy="809.0" r="10.4"/><circle cx="1033.7" cy="818.0" r="10.4"/><circle cx="1116.4" cy="795.1" r="10.4"/><circle cx="1043.0" cy="833.1" r="10.4"/><circle cx="1113.2" cy="791.5" r="10.4"/><circle cx="1042.3" cy="827.0" r="10.4"/><circle cx="1064.9" cy="806.5" r="10.4"/><circle cx="1071.5" cy="797.8" r="10.4"/><circle cx="1109.3" cy="795.8" r="10.4"/><circle cx="1089.3" cy="814.8" r="10.4"/><circle cx="1083.2" cy="798.5" r="10.4"/><circle cx="1049.2" cy="813.4" r="10.4"/><circle cx="1039.1" cy="836.8" r="10.4"/><circle cx="1098.8" cy="791.5" r="10.4"/><circle cx="1050.2" cy="827.0" r="10.4"/><circle cx="1106.7" cy="805.3" r="10.4"/><circle cx="1050.6" cy="831.0" r="10.4"/><circle cx="1103.3" cy="801.8" r="10.4"/><circle cx="1056.2" cy="811.0" r="10.4"/><circle cx="1097.9" cy="792.7" r="10.4"/><circle cx="1063.9" cy="817.3" r="10.4"/><circle cx="1067.3" cy="823.5" r="10.4"/><circle cx="1047.5" cy="811.5" r="10.4"/><circle cx="1080.8" cy="810.5" r="10.4"/><circle cx="1102.0" cy="801.5" r="10.4"/><circle cx="1111.7" cy="803.1" r="10.4"/><circle cx="1073.4" cy="810.8" r="10.4"/><circle cx="1044.0" cy="820.7" r="10.4"/><circle cx="1075.4" cy="797.8" r="10.4"/><circle cx="1085.0" cy="795.1" r="10.4"/><circle cx="1074.8" cy="823.4" r="10.4"/><circle cx="1035.5" cy="817.9" r="10.4"/><circle cx="1065.4" cy="806.3" r="10.4"/><circle cx="1085.9" cy="790.0" r="10.4"/><circle cx="1105.5" cy="803.9" r="10.4"/><circle cx="1096.1" cy="796.6" r="10.4"/><circle cx="1058.3" cy="823.4" r="10.4"/><circle cx="1074.1" cy="808.2" r="10.4"/><circle cx="1111.6" cy="809.3" r="10.4"/><circle cx="1068.8" cy="796.7" r="10.4"/><circle cx="1107.8" cy="784.2" r="10.4"/><circle cx="877.8" cy="952.9" r="10.4"/><circle cx="889.4" cy="946.3" r="10.4"/><circle cx="897.6" cy="943.0" r="10.4"/><circle cx="905.9" cy="951.3" r="10.4"/><circle cx="894.3" cy="959.6" r="10.4"/><circle cx="902.6" cy="966.2" r="10.4"/><circle cx="912.5" cy="939.7" r="10.4"/><circle cx="922.4" cy="933.1" r="10.4"/><circle cx="932.3" cy="929.8" r="10.4"/><circle cx="942.3" cy="928.2" r="10.4"/><circle cx="952.2" cy="933.1" r="10.4"/><circle cx="962.1" cy="934.8" r="10.4"/><circle cx="960.4" cy="946.3" r="10.4"/><circle cx="950.5" cy="951.3" r="10.4"/><circle cx="940.6" cy="948.0" r="10.4"/><circle cx="930.7" cy="944.7" r="10.4"/><circle cx="920.8" cy="949.6" r="10.4"/><circle cx="912.5" cy="956.2" r="10.4"/><circle cx="922.4" cy="961.2" r="10.4"/><circle cx="932.3" cy="957.9" r="10.4"/><circle cx="942.3" cy="961.2" r="10.4"/><circle cx="952.2" cy="962.9" r="10.4"/><circle cx="947.2" cy="972.8" r="10.4"/><circle cx="935.6" cy="971.1" r="10.4"/><circle cx="925.7" cy="972.8" r="10.4"/><circle cx="914.2" cy="971.1" r="10.4"/><circle cx="902.6" cy="974.4" r="10.4"/><circle cx="897.6" cy="981.0" r="10.4"/><circle cx="909.2" cy="984.3" r="10.4"/><circle cx="920.8" cy="982.7" r="10.4"/><circle cx="932.3" cy="982.7" r="10.4"/><circle cx="927.4" cy="992.6" r="10.4"/><circle cx="937.3" cy="994.2" r="10.4"/><circle cx="922.4" cy="1000.9" r="10.4"/><circle cx="912.5" cy="1005.8" r="10.4"/><circle cx="902.6" cy="1010.8" r="10.4"/><circle cx="899.3" cy="1017.4" r="10.4"/><circle cx="912.5" cy="1015.7" r="10.4"/><circle cx="920.8" cy="1010.8" r="10.4"/><circle cx="935.6" cy="924.9" r="10.4"/><circle cx="882.8" cy="957.9" r="10.4"/></g>
<g fill="#2a14f0"><circle cx="914.2" cy="856.3" r="10.4"/><circle cx="922.4" cy="856.8" r="10.4"/><circle cx="950.5" cy="852.2" r="10.4"/><circle cx="951.3" cy="858.8" r="10.4"/><circle cx="912.5" cy="890.2" r="10.4"/><circle cx="920.8" cy="885.2" r="10.4"/><circle cx="927.4" cy="882.7" r="10.4"/><circle cx="935.6" cy="880.3" r="10.4"/><circle cx="943.9" cy="877.8" r="10.4"/><circle cx="947.2" cy="879.4" r="10.4"/><circle cx="934.0" cy="888.5" r="10.4"/><circle cx="1057.9" cy="881.1" r="10.4"/><circle cx="1069.5" cy="874.5" r="10.4"/><circle cx="1076.9" cy="882.7" r="10.4"/><circle cx="1071.1" cy="878.6" r="10.4"/><circle cx="1124.1" cy="885.9" r="10.4"/><circle cx="1210.8" cy="906.0" r="10.4"/><circle cx="1217.1" cy="908.0" r="10.4"/><circle cx="1235.9" cy="981.9" r="10.4"/><circle cx="910.6" cy="891.0" r="10.4"/></g>
</g>
<line x1="816.8" y1="718" x2="816.8" y2="1126.1" stroke="#000" stroke-width="2.2"/><line x1="816.3" y1="1124.1" x2="1255" y2="1124.1" stroke="#000" stroke-width="4.1"/><line x1="906" y1="1124.1" x2="906" y2="1136.6999999999998" stroke="#000" stroke-width="3.6"/><text x="906" y="1170.1" font-size="33.7" text-anchor="middle" font-family="Liberation Sans, Arial, sans-serif">-0.2</text><line x1="1000.3" y1="1124.1" x2="1000.3" y2="1136.6999999999998" stroke="#000" stroke-width="3.6"/><text x="1000.3" y="1170.1" font-size="33.7" text-anchor="middle" font-family="Liberation Sans, Arial, sans-serif">0.0</text><line x1="1095" y1="1124.1" x2="1095" y2="1136.6999999999998" stroke="#000" stroke-width="3.6"/><text x="1095" y="1170.1" font-size="33.7" text-anchor="middle" font-family="Liberation Sans, Arial, sans-serif">0.2</text><line x1="1190" y1="1124.1" x2="1190" y2="1136.6999999999998" stroke="#000" stroke-width="3.6"/><text x="1190" y="1170.1" font-size="33.7" text-anchor="middle" font-family="Liberation Sans, Arial, sans-serif">0.4</text><line x1="806.5" y1="784.2" x2="816.8" y2="784.2" stroke="#000" stroke-width="3.5"/><text x="795.8" y="796.2" font-size="33.7" text-anchor="end" font-family="Liberation Sans, Arial, sans-serif">0.1</text><line x1="806.5" y1="880.8" x2="816.8" y2="880.8" stroke="#000" stroke-width="3.5"/><text x="795.8" y="892.8" font-size="33.7" text-anchor="end" font-family="Liberation Sans, Arial, sans-serif">0.0</text><line x1="806.5" y1="977.5" x2="816.8" y2="977.5" stroke="#000" stroke-width="3.5"/><text x="795.8" y="989.5" font-size="33.7" text-anchor="end" font-family="Liberation Sans, Arial, sans-serif">-0.1</text><line x1="806.5" y1="1074.2" x2="816.8" y2="1074.2" stroke="#000" stroke-width="3.5"/><text x="795.8" y="1086.2" font-size="33.7" text-anchor="end" font-family="Liberation Sans, Arial, sans-serif">-0.2</text>
<text transform="translate(941.5,1217.5) scale(0.92,1)" font-size="42" font-family="Liberation Serif, DejaVu Serif, serif">β</text><text x="963.5" y="1224.3" font-size="29.6" font-family="Liberation Sans, Arial, sans-serif">Lung Cancer</text>
<g transform="translate(702,982.5) rotate(-90)"><text transform="scale(0.88,1)" x="0" y="0" font-size="41" font-family="Liberation Serif, DejaVu Serif, serif">β</text><text x="23" y="8" font-size="29.4" font-family="Liberation Sans, Arial, sans-serif">Cig/Day</text></g>
<clipPath id="ce"><rect x="1387" y="718" width="440" height="405.8"/></clipPath>
<g clip-path="url(#ce)">
<path d="M1406.4,966.1 L1411.4,965.7 L1416.3,965.4 L1421.3,965.0 L1426.3,964.6 L1431.3,964.3 L1436.2,964.0 L1441.2,963.7 L1446.2,963.4 L1451.2,963.1 L1456.1,962.8 L1461.1,962.6 L1466.1,962.3 L1471.0,962.1 L1476.0,961.9 L1481.0,961.7 L1486.0,961.5 L1490.9,961.3 L1495.9,961.2 L1500.9,961.0 L1505.9,960.9 L1510.8,960.8 L1515.8,960.6 L1520.8,960.5 L1525.7,960.5 L1530.7,960.4 L1535.7,960.3 L1540.7,960.3 L1545.6,960.2 L1550.6,960.2 L1555.6,960.2 L1560.5,960.2 L1565.5,960.2 L1570.5,960.2 L1575.5,960.3 L1580.4,960.3 L1585.4,960.4 L1590.4,960.4 L1595.4,960.5 L1600.3,960.6 L1605.3,960.7 L1610.3,960.9 L1615.2,961.0 L1620.2,961.1 L1625.2,961.3 L1630.2,961.5 L1635.1,961.7 L1640.1,961.9 L1645.1,962.1 L1650.1,962.4 L1655.0,962.6 L1660.0,962.9 L1665.0,963.2 L1669.9,963.5 L1674.9,963.8 L1679.9,964.1 L1684.9,964.5 L1689.8,964.8 L1694.8,965.2 L1699.8,965.6 L1704.8,966.1 L1709.7,966.5 L1714.7,967.0 L1719.7,967.5 L1724.6,968.0 L1729.6,968.5 L1734.6,969.1 L1739.6,969.7 L1744.5,970.3 L1749.5,971.0 L1754.5,971.7 L1759.4,972.4 L1764.4,973.2 L1769.4,974.0 L1774.4,974.8 L1779.3,975.7 L1784.3,976.7 L1789.3,977.7 L1794.3,978.8 L1799.2,980.0 L1804.2,981.2 L1804.2,1025.6 L1799.2,1027.0 L1794.3,1028.3 L1789.3,1029.4 L1784.3,1030.6 L1779.3,1031.6 L1774.4,1032.6 L1769.4,1033.6 L1764.4,1034.5 L1759.4,1035.4 L1754.5,1036.2 L1749.5,1037.0 L1744.5,1037.8 L1739.6,1038.5 L1734.6,1039.2 L1729.6,1039.9 L1724.6,1040.6 L1719.7,1041.2 L1714.7,1041.8 L1709.7,1042.4 L1704.8,1042.9 L1699.8,1043.5 L1694.8,1044.0 L1689.8,1044.5 L1684.9,1044.9 L1679.9,1045.4 L1674.9,1045.8 L1669.9,1046.3 L1665.0,1046.7 L1660.0,1047.1 L1655.0,1047.4 L1650.1,1047.8 L1645.1,1048.2 L1640.1,1048.5 L1635.1,1048.8 L1630.2,1049.1 L1625.2,1049.4 L1620.2,1049.7 L1615.2,1049.9 L1610.3,1050.2 L1605.3,1050.4 L1600.3,1050.6 L1595.4,1050.8 L1590.4,1051.0 L1585.4,1051.2 L1580.4,1051.4 L1575.5,1051.5 L1570.5,1051.7 L1565.5,1051.8 L1560.5,1051.9 L1555.6,1052.0 L1550.6,1052.1 L1545.6,1052.2 L1540.7,1052.3 L1535.7,1052.3 L1530.7,1052.4 L1525.7,1052.4 L1520.8,1052.4 L1515.8,1052.4 L1510.8,1052.4 L1505.9,1052.4 L1500.9,1052.4 L1495.9,1052.3 L1490.9,1052.3 L1486.0,1052.2 L1481.0,1052.1 L1476.0,1052.0 L1471.0,1051.9 L1466.1,1051.8 L1461.1,1051.7 L1456.1,1051.5 L1451.2,1051.4 L1446.2,1051.2 L1441.2,1051.0 L1436.2,1050.8 L1431.3,1050.6 L1426.3,1050.4 L1421.3,1050.1 L1416.3,1049.8 L1411.4,1049.6 L1406.4,1049.3Z" fill="#fbeceb"/><path d="M1406.4,956.9 L1411.4,956.9 L1416.3,956.9 L1421.3,956.9 L1426.3,956.9 L1431.3,957.0 L1436.2,957.0 L1441.2,957.1 L1446.2,957.1 L1451.2,957.2 L1456.1,957.3 L1461.1,957.5 L1466.1,957.6 L1471.0,957.7 L1476.0,957.9 L1481.0,958.1 L1486.0,958.3 L1490.9,958.5 L1495.9,958.7 L1500.9,958.9 L1505.9,959.1 L1510.8,959.4 L1515.8,959.6 L1520.8,959.9 L1525.7,960.2 L1530.7,960.5 L1535.7,960.8 L1540.7,961.1 L1545.6,961.5 L1550.6,961.8 L1555.6,962.2 L1560.5,962.5 L1565.5,962.9 L1570.5,963.3 L1575.5,963.7 L1580.4,964.2 L1585.4,964.6 L1590.4,965.0 L1595.4,965.5 L1600.3,966.0 L1605.3,966.5 L1610.3,966.9 L1615.2,967.5 L1620.2,968.0 L1625.2,968.5 L1630.2,969.1 L1635.1,969.6 L1640.1,970.2 L1645.1,970.8 L1650.1,971.4 L1655.0,972.1 L1660.0,972.7 L1665.0,973.4 L1669.9,974.0 L1674.9,974.7 L1679.9,975.4 L1684.9,976.2 L1689.8,976.9 L1694.8,977.7 L1699.8,978.4 L1704.8,979.3 L1709.7,980.1 L1714.7,980.9 L1719.7,981.8 L1724.6,982.7 L1729.6,983.6 L1734.6,984.5 L1739.6,985.5 L1744.5,986.5 L1749.5,987.5 L1754.5,988.6 L1759.4,989.7 L1764.4,990.8 L1769.4,992.0 L1774.4,993.3 L1779.3,994.5 L1784.3,995.9 L1789.3,997.2 L1794.3,998.7 L1799.2,1000.2 L1804.2,1001.9 L1804.2,1046.3 L1799.2,1047.3 L1794.3,1048.2 L1789.3,1049.0 L1784.3,1049.7 L1779.3,1050.4 L1774.4,1051.1 L1769.4,1051.6 L1764.4,1052.2 L1759.4,1052.7 L1754.5,1053.1 L1749.5,1053.6 L1744.5,1054.0 L1739.6,1054.3 L1734.6,1054.7 L1729.6,1055.0 L1724.6,1055.2 L1719.7,1055.5 L1714.7,1055.7 L1709.7,1055.9 L1704.8,1056.1 L1699.8,1056.3 L1694.8,1056.4 L1689.8,1056.5 L1684.9,1056.6 L1679.9,1056.7 L1674.9,1056.8 L1669.9,1056.8 L1665.0,1056.9 L1660.0,1056.9 L1655.0,1056.9 L1650.1,1056.9 L1645.1,1056.9 L1640.1,1056.8 L1635.1,1056.8 L1630.2,1056.7 L1625.2,1056.6 L1620.2,1056.5 L1615.2,1056.4 L1610.3,1056.3 L1605.3,1056.1 L1600.3,1056.0 L1595.4,1055.8 L1590.4,1055.6 L1585.4,1055.4 L1580.4,1055.2 L1575.5,1055.0 L1570.5,1054.8 L1565.5,1054.5 L1560.5,1054.3 L1555.6,1054.0 L1550.6,1053.7 L1545.6,1053.4 L1540.7,1053.1 L1535.7,1052.8 L1530.7,1052.5 L1525.7,1052.1 L1520.8,1051.8 L1515.8,1051.4 L1510.8,1051.0 L1505.9,1050.6 L1500.9,1050.2 L1495.9,1049.8 L1490.9,1049.4 L1486.0,1049.0 L1481.0,1048.5 L1476.0,1048.0 L1471.0,1047.6 L1466.1,1047.1 L1461.1,1046.6 L1456.1,1046.0 L1451.2,1045.5 L1446.2,1045.0 L1441.2,1044.4 L1436.2,1043.8 L1431.3,1043.2 L1426.3,1042.6 L1421.3,1042.0 L1416.3,1041.4 L1411.4,1040.7 L1406.4,1040.1Z" fill="#e7eafc"/><clipPath id="ie"><path d="M1406.4,956.9 L1411.4,956.9 L1416.3,956.9 L1421.3,956.9 L1426.3,956.9 L1431.3,957.0 L1436.2,957.0 L1441.2,957.1 L1446.2,957.1 L1451.2,957.2 L1456.1,957.3 L1461.1,957.5 L1466.1,957.6 L1471.0,957.7 L1476.0,957.9 L1481.0,958.1 L1486.0,958.3 L1490.9,958.5 L1495.9,958.7 L1500.9,958.9 L1505.9,959.1 L1510.8,959.4 L1515.8,959.6 L1520.8,959.9 L1525.7,960.2 L1530.7,960.5 L1535.7,960.8 L1540.7,961.1 L1545.6,961.5 L1550.6,961.8 L1555.6,962.2 L1560.5,962.5 L1565.5,962.9 L1570.5,963.3 L1575.5,963.7 L1580.4,964.2 L1585.4,964.6 L1590.4,965.0 L1595.4,965.5 L1600.3,966.0 L1605.3,966.5 L1610.3,966.9 L1615.2,967.5 L1620.2,968.0 L1625.2,968.5 L1630.2,969.1 L1635.1,969.6 L1640.1,970.2 L1645.1,970.8 L1650.1,971.4 L1655.0,972.1 L1660.0,972.7 L1665.0,973.4 L1669.9,974.0 L1674.9,974.7 L1679.9,975.4 L1684.9,976.2 L1689.8,976.9 L1694.8,977.7 L1699.8,978.4 L1704.8,979.3 L1709.7,980.1 L1714.7,980.9 L1719.7,981.8 L1724.6,982.7 L1729.6,983.6 L1734.6,984.5 L1739.6,985.5 L1744.5,986.5 L1749.5,987.5 L1754.5,988.6 L1759.4,989.7 L1764.4,990.8 L1769.4,992.0 L1774.4,993.3 L1779.3,994.5 L1784.3,995.9 L1789.3,997.2 L1794.3,998.7 L1799.2,1000.2 L1804.2,1001.9 L1804.2,1046.3 L1799.2,1047.3 L1794.3,1048.2 L1789.3,1049.0 L1784.3,1049.7 L1779.3,1050.4 L1774.4,1051.1 L1769.4,1051.6 L1764.4,1052.2 L1759.4,1052.7 L1754.5,1053.1 L1749.5,1053.6 L1744.5,1054.0 L1739.6,1054.3 L1734.6,1054.7 L1729.6,1055.0 L1724.6,1055.2 L1719.7,1055.5 L1714.7,1055.7 L1709.7,1055.9 L1704.8,1056.1 L1699.8,1056.3 L1694.8,1056.4 L1689.8,1056.5 L1684.9,1056.6 L1679.9,1056.7 L1674.9,1056.8 L1669.9,1056.8 L1665.0,1056.9 L1660.0,1056.9 L1655.0,1056.9 L1650.1,1056.9 L1645.1,1056.9 L1640.1,1056.8 L1635.1,1056.8 L1630.2,1056.7 L1625.2,1056.6 L1620.2,1056.5 L1615.2,1056.4 L1610.3,1056.3 L1605.3,1056.1 L1600.3,1056.0 L1595.4,1055.8 L1590.4,1055.6 L1585.4,1055.4 L1580.4,1055.2 L1575.5,1055.0 L1570.5,1054.8 L1565.5,1054.5 L1560.5,1054.3 L1555.6,1054.0 L1550.6,1053.7 L1545.6,1053.4 L1540.7,1053.1 L1535.7,1052.8 L1530.7,1052.5 L1525.7,1052.1 L1520.8,1051.8 L1515.8,1051.4 L1510.8,1051.0 L1505.9,1050.6 L1500.9,1050.2 L1495.9,1049.8 L1490.9,1049.4 L1486.0,1049.0 L1481.0,1048.5 L1476.0,1048.0 L1471.0,1047.6 L1466.1,1047.1 L1461.1,1046.6 L1456.1,1046.0 L1451.2,1045.5 L1446.2,1045.0 L1441.2,1044.4 L1436.2,1043.8 L1431.3,1043.2 L1426.3,1042.6 L1421.3,1042.0 L1416.3,1041.4 L1411.4,1040.7 L1406.4,1040.1Z"/></clipPath><g clip-path="url(#ie)"><path d="M1406.4,966.1 L1411.4,965.7 L1416.3,965.4 L1421.3,965.0 L1426.3,964.6 L1431.3,964.3 L1436.2,964.0 L1441.2,963.7 L1446.2,963.4 L1451.2,963.1 L1456.1,962.8 L1461.1,962.6 L1466.1,962.3 L1471.0,962.1 L1476.0,961.9 L1481.0,961.7 L1486.0,961.5 L1490.9,961.3 L1495.9,961.2 L1500.9,961.0 L1505.9,960.9 L1510.8,960.8 L1515.8,960.6 L1520.8,960.5 L1525.7,960.5 L1530.7,960.4 L1535.7,960.3 L1540.7,960.3 L1545.6,960.2 L1550.6,960.2 L1555.6,960.2 L1560.5,960.2 L1565.5,960.2 L1570.5,960.2 L1575.5,960.3 L1580.4,960.3 L1585.4,960.4 L1590.4,960.4 L1595.4,960.5 L1600.3,960.6 L1605.3,960.7 L1610.3,960.9 L1615.2,961.0 L1620.2,961.1 L1625.2,961.3 L1630.2,961.5 L1635.1,961.7 L1640.1,961.9 L1645.1,962.1 L1650.1,962.4 L1655.0,962.6 L1660.0,962.9 L1665.0,963.2 L1669.9,963.5 L1674.9,963.8 L1679.9,964.1 L1684.9,964.5 L1689.8,964.8 L1694.8,965.2 L1699.8,965.6 L1704.8,966.1 L1709.7,966.5 L1714.7,967.0 L1719.7,967.5 L1724.6,968.0 L1729.6,968.5 L1734.6,969.1 L1739.6,969.7 L1744.5,970.3 L1749.5,971.0 L1754.5,971.7 L1759.4,972.4 L1764.4,973.2 L1769.4,974.0 L1774.4,974.8 L1779.3,975.7 L1784.3,976.7 L1789.3,977.7 L1794.3,978.8 L1799.2,980.0 L1804.2,981.2 L1804.2,1025.6 L1799.2,1027.0 L1794.3,1028.3 L1789.3,1029.4 L1784.3,1030.6 L1779.3,1031.6 L1774.4,1032.6 L1769.4,1033.6 L1764.4,1034.5 L1759.4,1035.4 L1754.5,1036.2 L1749.5,1037.0 L1744.5,1037.8 L1739.6,1038.5 L1734.6,1039.2 L1729.6,1039.9 L1724.6,1040.6 L1719.7,1041.2 L1714.7,1041.8 L1709.7,1042.4 L1704.8,1042.9 L1699.8,1043.5 L1694.8,1044.0 L1689.8,1044.5 L1684.9,1044.9 L1679.9,1045.4 L1674.9,1045.8 L1669.9,1046.3 L1665.0,1046.7 L1660.0,1047.1 L1655.0,1047.4 L1650.1,1047.8 L1645.1,1048.2 L1640.1,1048.5 L1635.1,1048.8 L1630.2,1049.1 L1625.2,1049.4 L1620.2,1049.7 L1615.2,1049.9 L1610.3,1050.2 L1605.3,1050.4 L1600.3,1050.6 L1595.4,1050.8 L1590.4,1051.0 L1585.4,1051.2 L1580.4,1051.4 L1575.5,1051.5 L1570.5,1051.7 L1565.5,1051.8 L1560.5,1051.9 L1555.6,1052.0 L1550.6,1052.1 L1545.6,1052.2 L1540.7,1052.3 L1535.7,1052.3 L1530.7,1052.4 L1525.7,1052.4 L1520.8,1052.4 L1515.8,1052.4 L1510.8,1052.4 L1505.9,1052.4 L1500.9,1052.4 L1495.9,1052.3 L1490.9,1052.3 L1486.0,1052.2 L1481.0,1052.1 L1476.0,1052.0 L1471.0,1051.9 L1466.1,1051.8 L1461.1,1051.7 L1456.1,1051.5 L1451.2,1051.4 L1446.2,1051.2 L1441.2,1051.0 L1436.2,1050.8 L1431.3,1050.6 L1426.3,1050.4 L1421.3,1050.1 L1416.3,1049.8 L1411.4,1049.6 L1406.4,1049.3Z" fill="#e9dbef"/></g>
<line x1="1406.4" y1="998.5" x2="1804.2" y2="1024.1" stroke="#1c0ce4" stroke-width="4.6"/>
<line x1="1406.4" y1="1007.8" x2="1804.2" y2="1003.5" stroke="#e41f2b" stroke-width="4.6"/>
<g fill="#7f7f7f" fill-opacity="0.2"><circle cx="1764.5" cy="736.4" r="10.4"/><circle cx="1739.3" cy="774.6" r="10.4"/><circle cx="1587.3" cy="813.1" r="10.4"/><circle cx="1692.9" cy="999.0" r="10.4"/><circle cx="1804.7" cy="994.0" r="10.4"/><circle cx="1417.7" cy="973.9" r="10.4"/><circle cx="1587.4" cy="813.2" r="10.4"/><circle cx="1513.4" cy="828.2" r="10.4"/><circle cx="1524.0" cy="822.9" r="10.4"/><circle cx="1509.9" cy="868.7" r="10.4"/><circle cx="1583.9" cy="865.2" r="10.4"/><circle cx="1573.3" cy="891.7" r="10.4"/><circle cx="1483.4" cy="921.6" r="10.4"/><circle cx="1606.8" cy="930.4" r="10.4"/><circle cx="1599.8" cy="946.3" r="10.4"/><circle cx="1583.9" cy="979.8" r="10.4"/><circle cx="1457.9" cy="950.7" r="10.4"/><circle cx="1606.8" cy="1057.4" r="10.4"/><circle cx="1435.8" cy="1075.0" r="10.4"/><circle cx="1458.7" cy="1078.5" r="10.4"/><circle cx="1449.9" cy="1055.6" r="10.4"/><circle cx="1460.5" cy="1052.1" r="10.4"/><circle cx="1488.7" cy="1071.5" r="10.4"/><circle cx="1596.2" cy="1075.0" r="10.4"/><circle cx="1610.3" cy="1080.3" r="10.4"/><circle cx="1642.1" cy="1075.0" r="10.4"/><circle cx="1613.9" cy="1089.1" r="10.4"/><circle cx="1603.3" cy="1105.0" r="10.4"/><circle cx="1515.2" cy="1089.1" r="10.4"/><circle cx="1592.7" cy="1046.8" r="10.4"/><circle cx="1576.8" cy="879.3" r="10.4"/><circle cx="1580.4" cy="905.8" r="10.4"/><circle cx="1589.2" cy="958.6" r="10.4"/><circle cx="1603.3" cy="923.4" r="10.4"/><circle cx="1502.8" cy="1075.0" r="10.4"/><circle cx="1583.9" cy="1080.3" r="10.4"/><circle cx="1471.1" cy="1060.9" r="10.4"/><circle cx="1598.0" cy="1060.9" r="10.4"/></g>
<g fill="#7f7f7f" fill-opacity="0.4"><circle cx="1582.3" cy="789.7" r="10.4"/><circle cx="1719.2" cy="1031.7" r="10.4"/><circle cx="1520.4" cy="882.8" r="10.4"/><circle cx="1571.6" cy="858.2" r="10.4"/><circle cx="1568.0" cy="879.3" r="10.4"/><circle cx="1494.0" cy="914.6" r="10.4"/><circle cx="1416.4" cy="974.5" r="10.4"/><circle cx="1478.1" cy="972.7" r="10.4"/><circle cx="1650.9" cy="1053.8" r="10.4"/><circle cx="1446.4" cy="1076.7" r="10.4"/><circle cx="1626.2" cy="1075.0" r="10.4"/><circle cx="1596.2" cy="1029.2" r="10.4"/><circle cx="1448.2" cy="993.9" r="10.4"/><circle cx="1464.0" cy="992.1" r="10.4"/><circle cx="1557.5" cy="870.5" r="10.4"/><circle cx="1564.5" cy="891.7" r="10.4"/><circle cx="1594.5" cy="934.0" r="10.4"/><circle cx="1516.9" cy="1075.0" r="10.4"/><circle cx="1587.4" cy="1064.4" r="10.4"/><circle cx="1474.6" cy="1034.4" r="10.4"/></g>
<g fill="#7f7f7f" fill-opacity="0.7"><circle cx="1539.8" cy="832.6" r="10.4"/><circle cx="1538.1" cy="835.3" r="10.4"/><circle cx="1594.5" cy="919.9" r="10.4"/><circle cx="1596.2" cy="921.6" r="10.4"/><circle cx="1455.2" cy="1041.5" r="10.4"/><circle cx="1457.0" cy="1043.3" r="10.4"/><circle cx="1446.4" cy="1078.5" r="10.4"/></g>
<g fill="#7f7f7f" fill-opacity="0.9"><circle cx="1555.8" cy="1063.9" r="10.4"/><circle cx="1533.5" cy="945.6" r="10.4"/><circle cx="1551.8" cy="933.5" r="10.4"/><circle cx="1558.6" cy="970.1" r="10.4"/><circle cx="1491.9" cy="1003.1" r="10.4"/><circle cx="1533.8" cy="957.5" r="10.4"/><circle cx="1526.4" cy="921.7" r="10.4"/><circle cx="1530.7" cy="1036.3" r="10.4"/><circle cx="1564.8" cy="964.8" r="10.4"/><circle cx="1559.0" cy="1063.7" r="10.4"/><circle cx="1530.3" cy="1058.1" r="10.4"/><circle cx="1557.8" cy="922.4" r="10.4"/><circle cx="1560.9" cy="1059.4" r="10.4"/><circle cx="1558.8" cy="956.6" r="10.4"/><circle cx="1495.3" cy="947.0" r="10.4"/><circle cx="1556.9" cy="926.9" r="10.4"/><circle cx="1532.9" cy="1050.2" r="10.4"/><circle cx="1571.8" cy="985.4" r="10.4"/><circle cx="1549.1" cy="946.2" r="10.4"/><circle cx="1530.8" cy="959.9" r="10.4"/><circle cx="1515.7" cy="950.3" r="10.4"/><circle cx="1509.5" cy="969.7" r="10.4"/><circle cx="1534.7" cy="934.3" r="10.4"/><circle cx="1537.2" cy="1103.8" r="10.4"/><circle cx="1488.6" cy="1051.1" r="10.4"/><circle cx="1552.1" cy="959.7" r="10.4"/><circle cx="1558.6" cy="943.0" r="10.4"/><circle cx="1541.0" cy="923.0" r="10.4"/><circle cx="1544.5" cy="1038.6" r="10.4"/><circle cx="1565.7" cy="1048.3" r="10.4"/><circle cx="1424.1" cy="983.6" r="10.4"/><circle cx="1549.3" cy="944.6" r="10.4"/><circle cx="1540.9" cy="971.5" r="10.4"/><circle cx="1489.4" cy="1052.4" r="10.4"/><circle cx="1487.9" cy="982.2" r="10.4"/><circle cx="1497.8" cy="938.2" r="10.4"/><circle cx="1495.2" cy="954.8" r="10.4"/><circle cx="1572.6" cy="953.2" r="10.4"/><circle cx="1565.9" cy="956.8" r="10.4"/><circle cx="1513.9" cy="1038.0" r="10.4"/><circle cx="1524.5" cy="977.4" r="10.4"/><circle cx="1524.9" cy="990.0" r="10.4"/><circle cx="1562.1" cy="970.6" r="10.4"/><circle cx="1515.0" cy="1057.0" r="10.4"/><circle cx="1558.9" cy="950.2" r="10.4"/><circle cx="1491.6" cy="943.6" r="10.4"/><circle cx="1525.3" cy="982.3" r="10.4"/><circle cx="1511.6" cy="973.8" r="10.4"/><circle cx="1506.6" cy="981.0" r="10.4"/><circle cx="1522.3" cy="1063.5" r="10.4"/><circle cx="1556.8" cy="1042.7" r="10.4"/><circle cx="1578.3" cy="1049.9" r="10.4"/><circle cx="1565.6" cy="978.9" r="10.4"/><circle cx="1522.1" cy="963.4" r="10.4"/><circle cx="1527.7" cy="951.9" r="10.4"/><circle cx="1511.9" cy="980.4" r="10.4"/><circle cx="1537.9" cy="949.9" r="10.4"/><circle cx="1526.9" cy="960.6" r="10.4"/><circle cx="1557.5" cy="1026.5" r="10.4"/><circle cx="1537.6" cy="938.3" r="10.4"/><circle cx="1569.4" cy="965.8" r="10.4"/><circle cx="1574.2" cy="982.3" r="10.4"/><circle cx="1541.0" cy="993.2" r="10.4"/><circle cx="1530.9" cy="1054.4" r="10.4"/><circle cx="1540.5" cy="973.6" r="10.4"/><circle cx="1518.9" cy="992.1" r="10.4"/><circle cx="1521.2" cy="950.2" r="10.4"/><circle cx="1517.2" cy="1055.2" r="10.4"/><circle cx="1535.0" cy="1029.9" r="10.4"/><circle cx="1523.7" cy="931.7" r="10.4"/><circle cx="1536.8" cy="917.3" r="10.4"/><circle cx="1540.4" cy="1053.4" r="10.4"/><circle cx="1545.4" cy="1030.6" r="10.4"/><circle cx="1515.3" cy="982.5" r="10.4"/><circle cx="1539.4" cy="967.2" r="10.4"/><circle cx="1560.0" cy="1035.2" r="10.4"/><circle cx="1496.2" cy="1053.4" r="10.4"/><circle cx="1552.9" cy="1066.4" r="10.4"/><circle cx="1484.8" cy="1006.6" r="10.4"/><circle cx="1542.5" cy="972.6" r="10.4"/><circle cx="1545.7" cy="931.7" r="10.4"/><circle cx="1563.5" cy="968.8" r="10.4"/><circle cx="1554.7" cy="1059.2" r="10.4"/><circle cx="1496.7" cy="983.1" r="10.4"/><circle cx="1509.8" cy="1059.7" r="10.4"/><circle cx="1548.4" cy="952.4" r="10.4"/><circle cx="1524.5" cy="1026.9" r="10.4"/><circle cx="1508.4" cy="1045.3" r="10.4"/><circle cx="1496.3" cy="1044.4" r="10.4"/><circle cx="1550.5" cy="928.9" r="10.4"/><circle cx="1529.4" cy="963.5" r="10.4"/><circle cx="1565.3" cy="1030.4" r="10.4"/><circle cx="1536.1" cy="1063.8" r="10.4"/><circle cx="1496.7" cy="954.8" r="10.4"/><circle cx="1549.5" cy="1052.1" r="10.4"/><circle cx="1575.6" cy="975.8" r="10.4"/><circle cx="1532.5" cy="1025.4" r="10.4"/><circle cx="1526.1" cy="930.8" r="10.4"/><circle cx="1548.0" cy="923.7" r="10.4"/><circle cx="1574.9" cy="1027.2" r="10.4"/><circle cx="1500.7" cy="1059.3" r="10.4"/><circle cx="1548.8" cy="1030.7" r="10.4"/><circle cx="1526.6" cy="988.4" r="10.4"/><circle cx="1542.2" cy="1063.4" r="10.4"/><circle cx="1531.7" cy="1059.2" r="10.4"/><circle cx="1547.9" cy="943.6" r="10.4"/><circle cx="1483.0" cy="1000.1" r="10.4"/><circle cx="1548.0" cy="1038.7" r="10.4"/><circle cx="1538.2" cy="958.5" r="10.4"/><circle cx="1509.7" cy="1028.4" r="10.4"/><circle cx="1565.1" cy="971.9" r="10.4"/><circle cx="1523.2" cy="968.0" r="10.4"/><circle cx="1532.8" cy="1033.0" r="10.4"/><circle cx="1568.1" cy="1037.5" r="10.4"/><circle cx="1514.6" cy="1062.8" r="10.4"/><circle cx="1533.5" cy="985.1" r="10.4"/><circle cx="1570.3" cy="954.5" r="10.4"/><circle cx="1549.4" cy="1034.4" r="10.4"/><circle cx="1513.3" cy="958.5" r="10.4"/><circle cx="1557.3" cy="1036.1" r="10.4"/><circle cx="1561.5" cy="976.2" r="10.4"/><circle cx="1548.8" cy="1043.0" r="10.4"/><circle cx="1531.9" cy="1062.7" r="10.4"/><circle cx="1540.3" cy="1057.3" r="10.4"/><circle cx="1529.6" cy="931.4" r="10.4"/><circle cx="1569.8" cy="1069.7" r="10.4"/><circle cx="1524.1" cy="972.2" r="10.4"/><circle cx="1570.3" cy="1056.5" r="10.4"/><circle cx="1507.1" cy="1034.3" r="10.4"/><circle cx="1560.4" cy="1030.3" r="10.4"/><circle cx="1573.2" cy="1045.8" r="10.4"/><circle cx="1541.0" cy="1031.4" r="10.4"/><circle cx="1560.9" cy="969.5" r="10.4"/><circle cx="1556.9" cy="928.1" r="10.4"/><circle cx="1490.1" cy="1038.3" r="10.4"/><circle cx="1550.5" cy="976.2" r="10.4"/><circle cx="1555.3" cy="1066.4" r="10.4"/><circle cx="1511.0" cy="1035.5" r="10.4"/><circle cx="1489.5" cy="975.5" r="10.4"/><circle cx="1553.0" cy="986.8" r="10.4"/><circle cx="1498.4" cy="1027.5" r="10.4"/><circle cx="1533.2" cy="1035.6" r="10.4"/><circle cx="1538.3" cy="971.4" r="10.4"/><circle cx="1553.1" cy="986.3" r="10.4"/><circle cx="1524.9" cy="1027.1" r="10.4"/><circle cx="1546.7" cy="976.2" r="10.4"/><circle cx="1557.2" cy="1057.3" r="10.4"/><circle cx="1558.4" cy="1034.9" r="10.4"/><circle cx="1555.2" cy="1049.2" r="10.4"/><circle cx="1499.3" cy="963.6" r="10.4"/><circle cx="1546.7" cy="1031.8" r="10.4"/><circle cx="1569.5" cy="944.0" r="10.4"/><circle cx="1561.6" cy="954.8" r="10.4"/><circle cx="1548.9" cy="919.1" r="10.4"/><circle cx="1526.9" cy="1038.7" r="10.4"/><circle cx="1550.1" cy="1030.5" r="10.4"/><circle cx="1555.1" cy="924.0" r="10.4"/><circle cx="1524.4" cy="949.2" r="10.4"/><circle cx="1565.9" cy="1050.1" r="10.4"/><circle cx="1491.8" cy="970.0" r="10.4"/><circle cx="1545.5" cy="885.4" r="10.4"/><circle cx="1545.7" cy="933.7" r="10.4"/><circle cx="1578.6" cy="967.7" r="10.4"/><circle cx="1542.4" cy="930.9" r="10.4"/><circle cx="1512.2" cy="1036.6" r="10.4"/><circle cx="1502.0" cy="1062.8" r="10.4"/><circle cx="1492.5" cy="946.8" r="10.4"/><circle cx="1569.3" cy="1046.2" r="10.4"/><circle cx="1553.6" cy="953.6" r="10.4"/><circle cx="1528.2" cy="942.7" r="10.4"/><circle cx="1530.1" cy="972.2" r="10.4"/><circle cx="1511.5" cy="958.9" r="10.4"/><circle cx="1538.8" cy="1064.6" r="10.4"/><circle cx="1523.8" cy="979.2" r="10.4"/><circle cx="1505.0" cy="1037.0" r="10.4"/><circle cx="1524.9" cy="1062.5" r="10.4"/><circle cx="1505.3" cy="953.6" r="10.4"/><circle cx="1519.8" cy="1024.8" r="10.4"/><circle cx="1548.2" cy="1058.2" r="10.4"/><circle cx="1502.4" cy="986.4" r="10.4"/><circle cx="1566.9" cy="1044.6" r="10.4"/><circle cx="1567.7" cy="1044.8" r="10.4"/><circle cx="1565.9" cy="1035.3" r="10.4"/><circle cx="1545.4" cy="934.5" r="10.4"/><circle cx="1561.2" cy="956.4" r="10.4"/><circle cx="1539.3" cy="1027.0" r="10.4"/><circle cx="1530.5" cy="959.0" r="10.4"/><circle cx="1515.3" cy="982.1" r="10.4"/><circle cx="1528.2" cy="927.7" r="10.4"/><circle cx="1570.5" cy="1037.6" r="10.4"/><circle cx="1505.5" cy="956.2" r="10.4"/><circle cx="1487.3" cy="1041.9" r="10.4"/><circle cx="1506.6" cy="1055.2" r="10.4"/><circle cx="1536.2" cy="971.2" r="10.4"/><circle cx="1494.3" cy="1030.3" r="10.4"/><circle cx="1534.9" cy="1039.7" r="10.4"/><circle cx="1544.8" cy="937.7" r="10.4"/><circle cx="1538.5" cy="965.2" r="10.4"/><circle cx="1553.3" cy="928.2" r="10.4"/><circle cx="1549.5" cy="952.6" r="10.4"/><circle cx="1512.0" cy="975.5" r="10.4"/><circle cx="1567.3" cy="1039.9" r="10.4"/><circle cx="1548.2" cy="991.3" r="10.4"/><circle cx="1511.7" cy="1063.1" r="10.4"/><circle cx="1531.5" cy="959.7" r="10.4"/><circle cx="1513.3" cy="981.5" r="10.4"/><circle cx="1531.5" cy="1048.0" r="10.4"/><circle cx="1539.2" cy="1063.4" r="10.4"/><circle cx="1539.0" cy="1057.6" r="10.4"/><circle cx="1495.3" cy="942.5" r="10.4"/><circle cx="1556.7" cy="1066.0" r="10.4"/><circle cx="1509.4" cy="983.9" r="10.4"/><circle cx="1572.5" cy="1036.8" r="10.4"/><circle cx="1556.6" cy="966.7" r="10.4"/><circle cx="1498.1" cy="1029.8" r="10.4"/><circle cx="1556.7" cy="982.1" r="10.4"/><circle cx="1560.1" cy="1032.0" r="10.4"/><circle cx="1536.7" cy="1101.0" r="10.4"/><circle cx="1537.8" cy="1038.3" r="10.4"/><circle cx="1516.0" cy="942.9" r="10.4"/><circle cx="1520.6" cy="963.1" r="10.4"/><circle cx="1526.6" cy="927.7" r="10.4"/><circle cx="1522.1" cy="952.3" r="10.4"/><circle cx="1565.1" cy="1062.0" r="10.4"/><circle cx="1515.9" cy="1040.4" r="10.4"/><circle cx="1489.2" cy="1046.2" r="10.4"/><circle cx="1553.3" cy="1026.8" r="10.4"/><circle cx="1549.1" cy="1031.0" r="10.4"/><circle cx="1517.0" cy="950.8" r="10.4"/><circle cx="1506.5" cy="963.7" r="10.4"/><circle cx="1506.6" cy="957.8" r="10.4"/><circle cx="1540.4" cy="922.6" r="10.4"/><circle cx="1491.8" cy="1047.8" r="10.4"/><circle cx="1543.9" cy="932.1" r="10.4"/><circle cx="1541.9" cy="985.6" r="10.4"/><circle cx="1530.2" cy="955.3" r="10.4"/><circle cx="1491.2" cy="966.5" r="10.4"/><circle cx="1563.7" cy="987.1" r="10.4"/><circle cx="1522.0" cy="981.6" r="10.4"/><circle cx="1488.8" cy="942.5" r="10.4"/><circle cx="1508.1" cy="959.9" r="10.4"/><circle cx="1510.4" cy="1065.3" r="10.4"/><circle cx="1492.5" cy="1040.9" r="10.4"/><circle cx="1557.9" cy="982.4" r="10.4"/><circle cx="1545.1" cy="1052.4" r="10.4"/><circle cx="1507.2" cy="1064.9" r="10.4"/><circle cx="1534.2" cy="1045.8" r="10.4"/><circle cx="1490.1" cy="970.4" r="10.4"/><circle cx="1506.7" cy="1064.9" r="10.4"/><circle cx="1563.1" cy="974.3" r="10.4"/><circle cx="1562.1" cy="957.4" r="10.4"/><circle cx="1521.9" cy="983.5" r="10.4"/><circle cx="1554.1" cy="959.9" r="10.4"/><circle cx="1521.2" cy="1054.2" r="10.4"/><circle cx="1549.2" cy="978.8" r="10.4"/><circle cx="1558.5" cy="1061.2" r="10.4"/><circle cx="1506.0" cy="1026.1" r="10.4"/><circle cx="1527.9" cy="968.2" r="10.4"/><circle cx="1520.5" cy="1066.5" r="10.4"/><circle cx="1491.8" cy="978.2" r="10.4"/><circle cx="1530.7" cy="1040.8" r="10.4"/><circle cx="1491.8" cy="1054.6" r="10.4"/><circle cx="1562.6" cy="1052.5" r="10.4"/><circle cx="1496.3" cy="936.8" r="10.4"/><circle cx="1522.4" cy="968.5" r="10.4"/><circle cx="1506.0" cy="1049.6" r="10.4"/><circle cx="1566.0" cy="1039.7" r="10.4"/><circle cx="1556.8" cy="930.4" r="10.4"/><circle cx="1529.7" cy="1059.4" r="10.4"/><circle cx="1496.9" cy="983.5" r="10.4"/><circle cx="1551.5" cy="1065.5" r="10.4"/><circle cx="1496.5" cy="1046.3" r="10.4"/><circle cx="1506.8" cy="1048.2" r="10.4"/><circle cx="1523.9" cy="964.7" r="10.4"/><circle cx="1538.4" cy="933.4" r="10.4"/><circle cx="1520.6" cy="1037.5" r="10.4"/><circle cx="1492.3" cy="961.4" r="10.4"/><circle cx="1511.6" cy="1036.0" r="10.4"/><circle cx="1552.2" cy="1029.5" r="10.4"/><circle cx="1503.4" cy="952.1" r="10.4"/><circle cx="1562.4" cy="1042.7" r="10.4"/><circle cx="1552.4" cy="959.0" r="10.4"/><circle cx="1534.8" cy="987.0" r="10.4"/><circle cx="1572.5" cy="1036.4" r="10.4"/><circle cx="1505.7" cy="953.4" r="10.4"/><circle cx="1537.6" cy="984.2" r="10.4"/><circle cx="1530.6" cy="1060.6" r="10.4"/><circle cx="1535.6" cy="1052.3" r="10.4"/><circle cx="1507.9" cy="973.7" r="10.4"/><circle cx="1507.9" cy="1055.7" r="10.4"/><circle cx="1548.4" cy="902.4" r="10.4"/><circle cx="1500.9" cy="1069.7" r="10.4"/><circle cx="1517.9" cy="957.2" r="10.4"/><circle cx="1551.4" cy="984.5" r="10.4"/><circle cx="1528.9" cy="952.4" r="10.4"/><circle cx="1518.0" cy="959.5" r="10.4"/><circle cx="1546.5" cy="977.7" r="10.4"/><circle cx="1548.9" cy="991.4" r="10.4"/><circle cx="1552.0" cy="1057.5" r="10.4"/><circle cx="1523.2" cy="954.9" r="10.4"/><circle cx="1577.7" cy="1050.8" r="10.4"/><circle cx="1548.8" cy="1065.4" r="10.4"/><circle cx="1534.3" cy="927.6" r="10.4"/><circle cx="1562.6" cy="1026.0" r="10.4"/><circle cx="1578.8" cy="974.9" r="10.4"/><circle cx="1500.0" cy="970.7" r="10.4"/><circle cx="1566.3" cy="1053.5" r="10.4"/><circle cx="1526.6" cy="1032.5" r="10.4"/><circle cx="1515.5" cy="953.4" r="10.4"/><circle cx="1520.2" cy="1049.6" r="10.4"/><circle cx="1554.5" cy="935.6" r="10.4"/><circle cx="1523.0" cy="930.6" r="10.4"/><circle cx="1508.0" cy="975.3" r="10.4"/><circle cx="1512.9" cy="961.2" r="10.4"/><circle cx="1492.6" cy="962.1" r="10.4"/><circle cx="1537.8" cy="970.1" r="10.4"/><circle cx="1580.7" cy="968.7" r="10.4"/><circle cx="1527.9" cy="991.3" r="10.4"/><circle cx="1556.2" cy="1030.0" r="10.4"/><circle cx="1547.0" cy="928.5" r="10.4"/><circle cx="1566.6" cy="945.4" r="10.4"/><circle cx="1553.2" cy="956.6" r="10.4"/><circle cx="1487.1" cy="1047.7" r="10.4"/><circle cx="1535.6" cy="1061.2" r="10.4"/><circle cx="1529.6" cy="955.5" r="10.4"/><circle cx="1530.7" cy="1046.4" r="10.4"/><circle cx="1507.4" cy="1040.8" r="10.4"/><circle cx="1574.1" cy="1031.6" r="10.4"/><circle cx="1533.0" cy="922.5" r="10.4"/><circle cx="1536.8" cy="969.8" r="10.4"/><circle cx="1579.3" cy="1038.6" r="10.4"/><circle cx="1577.3" cy="975.8" r="10.4"/><circle cx="1579.4" cy="1044.9" r="10.4"/><circle cx="1500.3" cy="1045.2" r="10.4"/><circle cx="1494.6" cy="1058.2" r="10.4"/><circle cx="1513.5" cy="1060.5" r="10.4"/><circle cx="1558.3" cy="964.6" r="10.4"/><circle cx="1564.1" cy="1039.5" r="10.4"/><circle cx="1540.4" cy="1061.0" r="10.4"/><circle cx="1518.2" cy="981.0" r="10.4"/><circle cx="1522.2" cy="986.3" r="10.4"/><circle cx="1569.7" cy="1047.1" r="10.4"/><circle cx="1540.5" cy="1051.4" r="10.4"/><circle cx="1568.4" cy="1043.9" r="10.4"/><circle cx="1551.9" cy="1052.3" r="10.4"/><circle cx="1518.4" cy="1046.7" r="10.4"/><circle cx="1503.6" cy="963.7" r="10.4"/><circle cx="1496.9" cy="970.5" r="10.4"/><circle cx="1539.7" cy="950.3" r="10.4"/><circle cx="1562.8" cy="1056.6" r="10.4"/><circle cx="1513.1" cy="955.3" r="10.4"/><circle cx="1555.8" cy="976.6" r="10.4"/><circle cx="1545.1" cy="884.1" r="10.4"/><circle cx="1539.0" cy="963.6" r="10.4"/><circle cx="1506.6" cy="1060.7" r="10.4"/><circle cx="1549.8" cy="944.2" r="10.4"/><circle cx="1576.2" cy="959.4" r="10.4"/><circle cx="1514.3" cy="957.5" r="10.4"/><circle cx="1525.2" cy="1028.2" r="10.4"/><circle cx="1511.2" cy="989.8" r="10.4"/><circle cx="1565.6" cy="966.6" r="10.4"/><circle cx="1553.0" cy="947.6" r="10.4"/><circle cx="1550.8" cy="1028.1" r="10.4"/><circle cx="1522.7" cy="977.3" r="10.4"/><circle cx="1531.4" cy="1039.3" r="10.4"/><circle cx="1560.3" cy="1055.9" r="10.4"/><circle cx="1531.1" cy="959.3" r="10.4"/><circle cx="1564.5" cy="1056.3" r="10.4"/><circle cx="1491.8" cy="944.4" r="10.4"/><circle cx="1511.2" cy="1060.4" r="10.4"/><circle cx="1522.6" cy="1043.9" r="10.4"/><circle cx="1561.8" cy="959.3" r="10.4"/><circle cx="1531.7" cy="949.1" r="10.4"/><circle cx="1531.5" cy="992.9" r="10.4"/><circle cx="1526.5" cy="1050.1" r="10.4"/><circle cx="1497.5" cy="977.9" r="10.4"/><circle cx="1516.8" cy="1057.0" r="10.4"/><circle cx="1559.9" cy="970.9" r="10.4"/><circle cx="1533.4" cy="1058.6" r="10.4"/><circle cx="1566.3" cy="980.5" r="10.4"/><circle cx="1532.5" cy="969.4" r="10.4"/><circle cx="1525.8" cy="933.8" r="10.4"/><circle cx="1540.9" cy="933.6" r="10.4"/><circle cx="1570.8" cy="1030.0" r="10.4"/><circle cx="1566.3" cy="976.0" r="10.4"/><circle cx="1486.9" cy="1007.3" r="10.4"/><circle cx="1539.2" cy="1063.7" r="10.4"/><circle cx="1532.9" cy="948.7" r="10.4"/><circle cx="1490.8" cy="1003.4" r="10.4"/><circle cx="1562.5" cy="945.6" r="10.4"/><circle cx="1510.8" cy="1056.1" r="10.4"/><circle cx="1526.8" cy="927.5" r="10.4"/><circle cx="1532.5" cy="1069.5" r="10.4"/><circle cx="1539.6" cy="965.6" r="10.4"/><circle cx="1556.7" cy="951.1" r="10.4"/><circle cx="1575.9" cy="976.4" r="10.4"/><circle cx="1513.7" cy="1029.1" r="10.4"/><circle cx="1543.5" cy="964.2" r="10.4"/><circle cx="1548.1" cy="1042.2" r="10.4"/><circle cx="1525.0" cy="963.6" r="10.4"/><circle cx="1571.0" cy="1032.7" r="10.4"/><circle cx="1548.1" cy="936.8" r="10.4"/><circle cx="1537.3" cy="1103.7" r="10.4"/><circle cx="1563.6" cy="988.1" r="10.4"/><circle cx="1500.9" cy="1043.6" r="10.4"/><circle cx="1538.2" cy="1053.8" r="10.4"/><circle cx="1489.2" cy="939.6" r="10.4"/><circle cx="1571.5" cy="981.4" r="10.4"/><circle cx="1545.4" cy="1026.1" r="10.4"/><circle cx="1539.6" cy="990.5" r="10.4"/><circle cx="1526.2" cy="943.6" r="10.4"/><circle cx="1534.6" cy="968.2" r="10.4"/><circle cx="1517.4" cy="965.1" r="10.4"/><circle cx="1564.7" cy="1038.8" r="10.4"/><circle cx="1556.5" cy="982.1" r="10.4"/><circle cx="1513.2" cy="991.2" r="10.4"/><circle cx="1526.3" cy="955.6" r="10.4"/><circle cx="1518.2" cy="1056.4" r="10.4"/><circle cx="1497.9" cy="954.8" r="10.4"/><circle cx="1553.3" cy="859.8" r="10.4"/><circle cx="1550.0" cy="860.3" r="10.4"/><circle cx="1537.9" cy="860.4" r="10.4"/><circle cx="1529.9" cy="860.0" r="10.4"/><circle cx="1533.2" cy="859.6" r="10.4"/><circle cx="1545.2" cy="859.5" r="10.4"/><circle cx="1546.8" cy="879.2" r="10.4"/><circle cx="1547.0" cy="886.5" r="10.4"/><circle cx="1548.3" cy="902.6" r="10.4"/><circle cx="1494.7" cy="951.9" r="10.4"/><circle cx="1494.7" cy="989.1" r="10.4"/><circle cx="1503.6" cy="952.4" r="10.4"/><circle cx="1503.6" cy="987.7" r="10.4"/><circle cx="1512.4" cy="951.7" r="10.4"/><circle cx="1512.4" cy="989.2" r="10.4"/><circle cx="1521.3" cy="953.0" r="10.4"/><circle cx="1521.3" cy="989.5" r="10.4"/><circle cx="1530.1" cy="952.2" r="10.4"/><circle cx="1530.1" cy="988.1" r="10.4"/><circle cx="1539.0" cy="952.8" r="10.4"/><circle cx="1539.0" cy="988.1" r="10.4"/><circle cx="1547.8" cy="951.7" r="10.4"/><circle cx="1547.8" cy="987.9" r="10.4"/><circle cx="1556.7" cy="952.1" r="10.4"/><circle cx="1556.7" cy="988.0" r="10.4"/><circle cx="1565.5" cy="952.4" r="10.4"/><circle cx="1565.5" cy="987.9" r="10.4"/><circle cx="1574.4" cy="952.4" r="10.4"/><circle cx="1574.4" cy="989.2" r="10.4"/><circle cx="1495.0" cy="951.4" r="10.4"/><circle cx="1573.4" cy="951.4" r="10.4"/><circle cx="1494.8" cy="961.0" r="10.4"/><circle cx="1574.1" cy="961.0" r="10.4"/><circle cx="1496.5" cy="970.5" r="10.4"/><circle cx="1573.2" cy="970.5" r="10.4"/><circle cx="1496.4" cy="980.1" r="10.4"/><circle cx="1574.1" cy="980.1" r="10.4"/><circle cx="1495.7" cy="989.7" r="10.4"/><circle cx="1573.4" cy="989.7" r="10.4"/><circle cx="1569.6" cy="985.0" r="10.4"/><circle cx="1563.7" cy="988.1" r="10.4"/><circle cx="1555.0" cy="991.4" r="10.4"/><circle cx="1545.9" cy="992.7" r="10.4"/><circle cx="1526.1" cy="992.4" r="10.4"/><circle cx="1516.9" cy="991.4" r="10.4"/><circle cx="1507.7" cy="988.8" r="10.4"/><circle cx="1500.6" cy="985.1" r="10.4"/><circle cx="1494.1" cy="981.5" r="10.4"/><circle cx="1491.4" cy="977.1" r="10.4"/><circle cx="1487.5" cy="972.0" r="10.4"/><circle cx="1487.6" cy="967.1" r="10.4"/><circle cx="1491.9" cy="962.2" r="10.4"/><circle cx="1496.7" cy="957.4" r="10.4"/><circle cx="1501.2" cy="954.2" r="10.4"/><circle cx="1509.9" cy="949.9" r="10.4"/><circle cx="1518.3" cy="948.5" r="10.4"/><circle cx="1528.5" cy="947.3" r="10.4"/><circle cx="1538.3" cy="946.6" r="10.4"/><circle cx="1547.7" cy="948.3" r="10.4"/><circle cx="1557.9" cy="950.7" r="10.4"/><circle cx="1565.3" cy="953.4" r="10.4"/><circle cx="1572.4" cy="956.7" r="10.4"/><circle cx="1577.9" cy="961.1" r="10.4"/><circle cx="1580.7" cy="965.8" r="10.4"/><circle cx="1578.8" cy="970.7" r="10.4"/><circle cx="1577.6" cy="975.6" r="10.4"/><circle cx="1576.9" cy="980.3" r="10.4"/><circle cx="1506.2" cy="944.0" r="10.4"/><circle cx="1506.2" cy="948.2" r="10.4"/><circle cx="1515.3" cy="943.6" r="10.4"/><circle cx="1515.3" cy="947.2" r="10.4"/><circle cx="1524.4" cy="942.8" r="10.4"/><circle cx="1524.4" cy="947.1" r="10.4"/><circle cx="1533.5" cy="943.5" r="10.4"/><circle cx="1533.5" cy="947.6" r="10.4"/><circle cx="1542.6" cy="944.3" r="10.4"/><circle cx="1542.6" cy="946.9" r="10.4"/><circle cx="1551.7" cy="942.8" r="10.4"/><circle cx="1551.7" cy="948.0" r="10.4"/><circle cx="1560.9" cy="942.7" r="10.4"/><circle cx="1560.9" cy="947.7" r="10.4"/><circle cx="1570.0" cy="943.9" r="10.4"/><circle cx="1570.0" cy="946.3" r="10.4"/><circle cx="1508.1" cy="942.6" r="10.4"/><circle cx="1568.2" cy="942.6" r="10.4"/><circle cx="1506.4" cy="948.2" r="10.4"/><circle cx="1568.4" cy="948.2" r="10.4"/><circle cx="1579.6" cy="944.4" r="10.4"/><circle cx="1489.2" cy="937.5" r="10.4"/><circle cx="1497.5" cy="936.0" r="10.4"/><circle cx="1499.0" cy="944.7" r="10.4"/><circle cx="1490.6" cy="945.8" r="10.4"/><circle cx="1559.9" cy="924.9" r="10.4"/><circle cx="1559.8" cy="930.9" r="10.4"/><circle cx="1554.0" cy="936.4" r="10.4"/><circle cx="1544.9" cy="938.9" r="10.4"/><circle cx="1535.4" cy="938.4" r="10.4"/><circle cx="1527.0" cy="934.8" r="10.4"/><circle cx="1523.0" cy="929.0" r="10.4"/><circle cx="1524.2" cy="922.7" r="10.4"/><circle cx="1529.8" cy="917.9" r="10.4"/><circle cx="1538.4" cy="914.8" r="10.4"/><circle cx="1548.1" cy="915.7" r="10.4"/><circle cx="1556.5" cy="919.1" r="10.4"/><circle cx="1570.7" cy="913.3" r="10.4"/><circle cx="1488.5" cy="1010.3" r="10.4"/><circle cx="1488.5" cy="1007.3" r="10.4"/><circle cx="1495.9" cy="1010.7" r="10.4"/><circle cx="1495.9" cy="1006.2" r="10.4"/><circle cx="1489.8" cy="1009.6" r="10.4"/><circle cx="1495.6" cy="1009.6" r="10.4"/><circle cx="1489.7" cy="1008.2" r="10.4"/><circle cx="1495.3" cy="1008.2" r="10.4"/><circle cx="1579.3" cy="987.6" r="10.4"/><circle cx="1579.3" cy="989.1" r="10.4"/><circle cx="1570.9" cy="986.7" r="10.4"/><circle cx="1570.9" cy="989.5" r="10.4"/><circle cx="1579.9" cy="986.7" r="10.4"/><circle cx="1569.7" cy="986.7" r="10.4"/><circle cx="1581.0" cy="990.6" r="10.4"/><circle cx="1569.9" cy="990.6" r="10.4"/><circle cx="1414.1" cy="983.0" r="10.4"/><circle cx="1424.1" cy="982.9" r="10.4"/><circle cx="1428.3" cy="983.4" r="10.4"/><circle cx="1421.1" cy="983.8" r="10.4"/><circle cx="1412.3" cy="983.5" r="10.4"/><circle cx="1452.6" cy="1007.7" r="10.4"/><circle cx="1448.7" cy="1008.5" r="10.4"/><circle cx="1443.5" cy="1007.8" r="10.4"/><circle cx="1460.3" cy="1011.1" r="10.4"/><circle cx="1484.8" cy="998.0" r="10.4"/><circle cx="1491.9" cy="1000.5" r="10.4"/><circle cx="1489.1" cy="1007.4" r="10.4"/><circle cx="1482.2" cy="1004.8" r="10.4"/><circle cx="1490.6" cy="981.5" r="10.4"/><circle cx="1488.9" cy="988.4" r="10.4"/><circle cx="1487.0" cy="983.4" r="10.4"/><circle cx="1487.4" cy="973.5" r="10.4"/><circle cx="1489.6" cy="972.0" r="10.4"/><circle cx="1489.4" cy="1048.5" r="10.4"/><circle cx="1489.1" cy="1043.7" r="10.4"/><circle cx="1490.5" cy="1039.1" r="10.4"/><circle cx="1493.8" cy="1034.5" r="10.4"/><circle cx="1502.4" cy="1031.5" r="10.4"/><circle cx="1509.0" cy="1027.8" r="10.4"/><circle cx="1518.3" cy="1025.8" r="10.4"/><circle cx="1528.5" cy="1024.8" r="10.4"/><circle cx="1538.6" cy="1024.4" r="10.4"/><circle cx="1548.0" cy="1026.1" r="10.4"/><circle cx="1558.4" cy="1027.4" r="10.4"/><circle cx="1565.2" cy="1030.0" r="10.4"/><circle cx="1573.9" cy="1033.5" r="10.4"/><circle cx="1578.2" cy="1037.8" r="10.4"/><circle cx="1579.3" cy="1042.7" r="10.4"/><circle cx="1582.5" cy="1047.4" r="10.4"/><circle cx="1578.9" cy="1052.4" r="10.4"/><circle cx="1577.2" cy="1056.4" r="10.4"/><circle cx="1569.9" cy="1060.8" r="10.4"/><circle cx="1564.8" cy="1064.3" r="10.4"/><circle cx="1555.9" cy="1066.2" r="10.4"/><circle cx="1545.8" cy="1067.9" r="10.4"/><circle cx="1535.7" cy="1068.5" r="10.4"/><circle cx="1525.6" cy="1067.9" r="10.4"/><circle cx="1515.7" cy="1067.4" r="10.4"/><circle cx="1506.2" cy="1065.2" r="10.4"/><circle cx="1500.6" cy="1062.0" r="10.4"/><circle cx="1493.5" cy="1058.0" r="10.4"/><circle cx="1489.7" cy="1053.1" r="10.4"/><circle cx="1492.1" cy="1027.2" r="10.4"/><circle cx="1492.1" cy="1039.6" r="10.4"/><circle cx="1500.4" cy="1027.8" r="10.4"/><circle cx="1500.4" cy="1038.8" r="10.4"/><circle cx="1508.7" cy="1027.6" r="10.4"/><circle cx="1508.7" cy="1038.9" r="10.4"/><circle cx="1517.0" cy="1026.5" r="10.4"/><circle cx="1517.0" cy="1038.6" r="10.4"/><circle cx="1525.3" cy="1027.2" r="10.4"/><circle cx="1525.3" cy="1039.0" r="10.4"/><circle cx="1533.7" cy="1026.4" r="10.4"/><circle cx="1533.7" cy="1039.1" r="10.4"/><circle cx="1542.0" cy="1027.2" r="10.4"/><circle cx="1542.0" cy="1039.5" r="10.4"/><circle cx="1550.3" cy="1026.1" r="10.4"/><circle cx="1550.3" cy="1038.9" r="10.4"/><circle cx="1558.6" cy="1027.1" r="10.4"/><circle cx="1558.6" cy="1039.8" r="10.4"/><circle cx="1566.9" cy="1026.3" r="10.4"/><circle cx="1566.9" cy="1038.0" r="10.4"/><circle cx="1575.3" cy="1026.3" r="10.4"/><circle cx="1575.3" cy="1038.4" r="10.4"/><circle cx="1492.7" cy="1025.8" r="10.4"/><circle cx="1575.1" cy="1025.8" r="10.4"/><circle cx="1493.0" cy="1039.9" r="10.4"/><circle cx="1573.5" cy="1039.9" r="10.4"/><circle cx="1530.1" cy="1081.9" r="10.4"/><circle cx="1533.4" cy="1085.0" r="10.4"/><circle cx="1524.3" cy="1084.5" r="10.4"/><circle cx="1536.0" cy="1106.4" r="10.4"/><circle cx="1533.1" cy="1099.8" r="10.4"/><circle cx="1559.5" cy="1084.1" r="10.4"/><circle cx="1566.0" cy="1087.0" r="10.4"/><circle cx="1561.5" cy="1070.3" r="10.4"/><circle cx="1570.1" cy="1069.0" r="10.4"/><circle cx="1567.3" cy="1075.0" r="10.4"/><circle cx="1505.8" cy="1073.0" r="10.4"/><circle cx="1497.4" cy="1071.6" r="10.4"/><circle cx="1505.2" cy="1069.8" r="10.4"/><circle cx="1627.9" cy="1001.4" r="10.4"/><circle cx="1647.6" cy="1028.1" r="10.4"/><circle cx="1602.1" cy="1013.2" r="10.4"/><circle cx="1612.3" cy="1014.4" r="10.4"/><circle cx="1658.6" cy="1030.4" r="10.4"/><circle cx="1623.5" cy="1019.9" r="10.4"/><circle cx="1659.8" cy="1027.6" r="10.4"/><circle cx="1611.2" cy="1017.2" r="10.4"/><circle cx="1627.6" cy="1020.8" r="10.4"/><circle cx="1602.7" cy="1012.4" r="10.4"/><circle cx="1640.3" cy="1023.5" r="10.4"/><circle cx="1664.0" cy="1033.0" r="10.4"/><circle cx="1667.8" cy="1030.9" r="10.4"/><circle cx="1626.3" cy="1018.4" r="10.4"/><circle cx="1612.1" cy="1014.3" r="10.4"/><circle cx="1624.0" cy="1022.1" r="10.4"/><circle cx="1648.7" cy="1026.0" r="10.4"/><circle cx="1603.4" cy="1016.2" r="10.4"/><circle cx="1583.0" cy="1010.1" r="10.4"/><circle cx="1657.6" cy="1026.9" r="10.4"/><circle cx="1665.6" cy="1032.1" r="10.4"/><circle cx="1614.4" cy="1016.7" r="10.4"/><circle cx="1634.4" cy="1022.8" r="10.4"/><circle cx="1657.6" cy="1031.2" r="10.4"/><circle cx="1609.2" cy="1013.1" r="10.4"/><circle cx="1649.8" cy="1027.7" r="10.4"/><circle cx="1639.2" cy="1021.8" r="10.4"/><circle cx="1585.0" cy="1011.0" r="10.4"/><circle cx="1612.0" cy="1016.3" r="10.4"/><circle cx="1668.2" cy="1030.5" r="10.4"/><circle cx="1637.4" cy="1021.3" r="10.4"/><circle cx="1629.7" cy="1022.6" r="10.4"/><circle cx="1592.7" cy="1012.4" r="10.4"/><circle cx="1667.0" cy="1033.4" r="10.4"/><circle cx="1650.5" cy="1029.5" r="10.4"/><circle cx="1644.2" cy="1025.7" r="10.4"/><circle cx="1653.8" cy="1029.6" r="10.4"/><circle cx="1636.1" cy="1024.0" r="10.4"/><circle cx="1595.2" cy="1010.9" r="10.4"/><circle cx="1608.0" cy="1017.1" r="10.4"/><circle cx="1650.5" cy="1026.1" r="10.4"/><circle cx="1511.6" cy="992.2" r="10.4"/><circle cx="1511.6" cy="1022.5" r="10.4"/><circle cx="1519.4" cy="993.6" r="10.4"/><circle cx="1519.4" cy="1022.9" r="10.4"/><circle cx="1527.2" cy="993.6" r="10.4"/><circle cx="1527.2" cy="1023.9" r="10.4"/><circle cx="1535.0" cy="993.2" r="10.4"/><circle cx="1535.0" cy="1023.0" r="10.4"/><circle cx="1542.9" cy="992.4" r="10.4"/><circle cx="1542.9" cy="1023.3" r="10.4"/><circle cx="1550.7" cy="992.8" r="10.4"/><circle cx="1550.7" cy="1023.1" r="10.4"/><circle cx="1558.5" cy="993.0" r="10.4"/><circle cx="1558.5" cy="1023.9" r="10.4"/><circle cx="1566.3" cy="993.3" r="10.4"/><circle cx="1566.3" cy="1023.2" r="10.4"/><circle cx="1501.2" cy="1000.1" r="10.4"/><circle cx="1576.7" cy="1000.1" r="10.4"/><circle cx="1501.2" cy="1008.1" r="10.4"/><circle cx="1576.7" cy="1008.1" r="10.4"/><circle cx="1501.2" cy="1016.1" r="10.4"/><circle cx="1576.7" cy="1016.1" r="10.4"/><circle cx="1495.2" cy="1000.1" r="10.4"/><circle cx="1582.7" cy="1000.1" r="10.4"/><circle cx="1495.2" cy="1008.1" r="10.4"/><circle cx="1582.7" cy="1008.1" r="10.4"/><circle cx="1495.2" cy="1016.1" r="10.4"/><circle cx="1582.7" cy="1016.1" r="10.4"/><circle cx="1489.2" cy="1000.1" r="10.4"/><circle cx="1588.7" cy="1000.1" r="10.4"/><circle cx="1489.2" cy="1008.1" r="10.4"/><circle cx="1588.7" cy="1008.1" r="10.4"/><circle cx="1489.2" cy="1016.1" r="10.4"/><circle cx="1588.7" cy="1016.1" r="10.4"/><circle cx="1483.2" cy="1000.1" r="10.4"/><circle cx="1594.7" cy="1000.1" r="10.4"/><circle cx="1483.2" cy="1008.1" r="10.4"/><circle cx="1594.7" cy="1008.1" r="10.4"/><circle cx="1483.2" cy="1016.1" r="10.4"/><circle cx="1594.7" cy="1016.1" r="10.4"/></g>
</g>
<line x1="1385.4" y1="718" x2="1385.4" y2="1126.1" stroke="#000" stroke-width="2.9"/><line x1="1384.9" y1="1124.1" x2="1823.5" y2="1124.1" stroke="#000" stroke-width="4.1"/><line x1="1417.2" y1="1124.1" x2="1417.2" y2="1136.6999999999998" stroke="#000" stroke-width="3.6"/><text x="1417.2" y="1170.1" font-size="33.7" text-anchor="middle" font-family="Liberation Sans, Arial, sans-serif">-0.2</text><line x1="1537.1" y1="1124.1" x2="1537.1" y2="1136.6999999999998" stroke="#000" stroke-width="3.6"/><text x="1537.1" y="1170.1" font-size="33.7" text-anchor="middle" font-family="Liberation Sans, Arial, sans-serif">0.0</text><line x1="1657.1" y1="1124.1" x2="1657.1" y2="1136.6999999999998" stroke="#000" stroke-width="3.6"/><text x="1657.1" y="1170.1" font-size="33.7" text-anchor="middle" font-family="Liberation Sans, Arial, sans-serif">0.2</text><line x1="1776.6" y1="1124.1" x2="1776.6" y2="1136.6999999999998" stroke="#000" stroke-width="3.6"/><text x="1776.6" y="1170.1" font-size="33.7" text-anchor="middle" font-family="Liberation Sans, Arial, sans-serif">0.4</text><line x1="1375.1000000000001" y1="738.8" x2="1385.4" y2="738.8" stroke="#000" stroke-width="3.5"/><text x="1364.4" y="750.8" font-size="33.7" text-anchor="end" font-family="Liberation Sans, Arial, sans-serif">0.2</text><line x1="1375.1000000000001" y1="872.6" x2="1385.4" y2="872.6" stroke="#000" stroke-width="3.5"/><text x="1364.4" y="884.6" font-size="33.7" text-anchor="end" font-family="Liberation Sans, Arial, sans-serif">0.1</text><line x1="1375.1000000000001" y1="1006.4" x2="1385.4" y2="1006.4" stroke="#000" stroke-width="3.5"/><text x="1364.4" y="1018.4" font-size="33.7" text-anchor="end" font-family="Liberation Sans, Arial, sans-serif">0.0</text>
<text transform="translate(1510.0,1217.5) scale(0.92,1)" font-size="42" font-family="Liberation Serif, DejaVu Serif, serif">β</text><text x="1532.0" y="1224.3" font-size="29.6" font-family="Liberation Sans, Arial, sans-serif">Lung Cancer</text>
<g transform="translate(1284,1001.45) rotate(-90)"><text transform="scale(0.88,1)" x="0" y="0" font-size="41" font-family="Liberation Serif, DejaVu Serif, serif">β</text><text x="22.5" y="8" font-size="29.4" font-family="Liberation Sans, Arial, sans-serif">FEV</text><text x="78.5" y="12.3" font-size="18.5" font-family="Liberation Sans, Arial, sans-serif">1</text><text transform="translate(93.3,13) scale(0.7,1)" font-size="41.5" font-family="Liberation Sans, Arial, sans-serif">/</text><text x="104" y="8" font-size="29.4" font-family="Liberation Sans, Arial, sans-serif">FVC</text></g>
<clipPath id="cf"><rect x="1387" y="1300" width="440" height="405.3"/></clipPath>
<g clip-path="url(#cf)">
<path d="M1406.4,1530.3 L1411.4,1530.4 L1416.3,1530.5 L1421.3,1530.7 L1426.3,1530.8 L1431.3,1531.0 L1436.2,1531.2 L1441.2,1531.4 L1446.2,1531.6 L1451.2,1531.9 L1456.1,1532.1 L1461.1,1532.4 L1466.1,1532.7 L1471.0,1533.0 L1476.0,1533.3 L1481.0,1533.6 L1486.0,1534.0 L1490.9,1534.3 L1495.9,1534.7 L1500.9,1535.0 L1505.9,1535.4 L1510.8,1535.8 L1515.8,1536.2 L1520.8,1536.7 L1525.7,1537.1 L1530.7,1537.5 L1535.7,1538.0 L1540.7,1538.5 L1545.6,1539.0 L1550.6,1539.5 L1555.6,1540.0 L1560.5,1540.5 L1565.5,1541.0 L1570.5,1541.6 L1575.5,1542.1 L1580.4,1542.7 L1585.4,1543.3 L1590.4,1543.9 L1595.4,1544.5 L1600.3,1545.1 L1605.3,1545.7 L1610.3,1546.4 L1615.2,1547.1 L1620.2,1547.7 L1625.2,1548.4 L1630.2,1549.1 L1635.1,1549.8 L1640.1,1550.6 L1645.1,1551.3 L1650.1,1552.1 L1655.0,1552.8 L1660.0,1553.6 L1665.0,1554.4 L1669.9,1555.2 L1674.9,1556.1 L1679.9,1556.9 L1684.9,1557.8 L1689.8,1558.7 L1694.8,1559.6 L1699.8,1560.5 L1704.8,1561.5 L1709.7,1562.4 L1714.7,1563.4 L1719.7,1564.4 L1724.6,1565.4 L1729.6,1566.5 L1734.6,1567.6 L1739.6,1568.7 L1744.5,1569.8 L1749.5,1570.9 L1754.5,1572.1 L1759.4,1573.4 L1764.4,1574.6 L1769.4,1575.9 L1774.4,1577.2 L1779.3,1578.6 L1784.3,1580.0 L1789.3,1581.5 L1794.3,1583.0 L1799.2,1584.6 L1804.2,1586.3 L1804.2,1634.3 L1799.2,1635.0 L1794.3,1635.6 L1789.3,1636.2 L1784.3,1636.7 L1779.3,1637.1 L1774.4,1637.5 L1769.4,1637.9 L1764.4,1638.2 L1759.4,1638.5 L1754.5,1638.7 L1749.5,1638.9 L1744.5,1639.1 L1739.6,1639.3 L1734.6,1639.4 L1729.6,1639.5 L1724.6,1639.6 L1719.7,1639.6 L1714.7,1639.6 L1709.7,1639.7 L1704.8,1639.6 L1699.8,1639.6 L1694.8,1639.6 L1689.8,1639.5 L1684.9,1639.4 L1679.9,1639.3 L1674.9,1639.2 L1669.9,1639.0 L1665.0,1638.9 L1660.0,1638.7 L1655.0,1638.5 L1650.1,1638.3 L1645.1,1638.1 L1640.1,1637.9 L1635.1,1637.6 L1630.2,1637.4 L1625.2,1637.1 L1620.2,1636.8 L1615.2,1636.5 L1610.3,1636.2 L1605.3,1635.9 L1600.3,1635.5 L1595.4,1635.2 L1590.4,1634.8 L1585.4,1634.4 L1580.4,1634.0 L1575.5,1633.6 L1570.5,1633.2 L1565.5,1632.8 L1560.5,1632.4 L1555.6,1631.9 L1550.6,1631.4 L1545.6,1631.0 L1540.7,1630.5 L1535.7,1630.0 L1530.7,1629.5 L1525.7,1628.9 L1520.8,1628.4 L1515.8,1627.8 L1510.8,1627.3 L1505.9,1626.7 L1500.9,1626.1 L1495.9,1625.5 L1490.9,1624.9 L1486.0,1624.3 L1481.0,1623.6 L1476.0,1623.0 L1471.0,1622.3 L1466.1,1621.6 L1461.1,1620.9 L1456.1,1620.2 L1451.2,1619.5 L1446.2,1618.8 L1441.2,1618.0 L1436.2,1617.3 L1431.3,1616.5 L1426.3,1615.7 L1421.3,1614.9 L1416.3,1614.1 L1411.4,1613.2 L1406.4,1612.4Z" fill="#fbeceb"/><path d="M1406.4,1536.3 L1411.4,1536.2 L1416.3,1536.1 L1421.3,1536.0 L1426.3,1535.9 L1431.3,1535.9 L1436.2,1535.9 L1441.2,1535.9 L1446.2,1535.9 L1451.2,1535.9 L1456.1,1535.9 L1461.1,1536.0 L1466.1,1536.0 L1471.0,1536.1 L1476.0,1536.2 L1481.0,1536.3 L1486.0,1536.4 L1490.9,1536.5 L1495.9,1536.6 L1500.9,1536.8 L1505.9,1536.9 L1510.8,1537.1 L1515.8,1537.3 L1520.8,1537.5 L1525.7,1537.7 L1530.7,1537.9 L1535.7,1538.2 L1540.7,1538.4 L1545.6,1538.7 L1550.6,1539.0 L1555.6,1539.2 L1560.5,1539.5 L1565.5,1539.9 L1570.5,1540.2 L1575.5,1540.5 L1580.4,1540.9 L1585.4,1541.2 L1590.4,1541.6 L1595.4,1542.0 L1600.3,1542.4 L1605.3,1542.8 L1610.3,1543.2 L1615.2,1543.6 L1620.2,1544.1 L1625.2,1544.5 L1630.2,1545.0 L1635.1,1545.5 L1640.1,1546.0 L1645.1,1546.5 L1650.1,1547.1 L1655.0,1547.6 L1660.0,1548.2 L1665.0,1548.8 L1669.9,1549.4 L1674.9,1550.0 L1679.9,1550.6 L1684.9,1551.2 L1689.8,1551.9 L1694.8,1552.6 L1699.8,1553.3 L1704.8,1554.0 L1709.7,1554.7 L1714.7,1555.5 L1719.7,1556.3 L1724.6,1557.1 L1729.6,1557.9 L1734.6,1558.7 L1739.6,1559.6 L1744.5,1560.5 L1749.5,1561.5 L1754.5,1562.4 L1759.4,1563.4 L1764.4,1564.4 L1769.4,1565.5 L1774.4,1566.6 L1779.3,1567.8 L1784.3,1569.0 L1789.3,1570.2 L1794.3,1571.5 L1799.2,1572.9 L1804.2,1574.3 L1804.2,1622.3 L1799.2,1623.3 L1794.3,1624.1 L1789.3,1624.9 L1784.3,1625.6 L1779.3,1626.3 L1774.4,1626.9 L1769.4,1627.5 L1764.4,1628.0 L1759.4,1628.5 L1754.5,1629.0 L1749.5,1629.4 L1744.5,1629.8 L1739.6,1630.2 L1734.6,1630.6 L1729.6,1630.9 L1724.6,1631.2 L1719.7,1631.5 L1714.7,1631.7 L1709.7,1632.0 L1704.8,1632.2 L1699.8,1632.4 L1694.8,1632.5 L1689.8,1632.7 L1684.9,1632.8 L1679.9,1633.0 L1674.9,1633.1 L1669.9,1633.1 L1665.0,1633.2 L1660.0,1633.3 L1655.0,1633.3 L1650.1,1633.3 L1645.1,1633.3 L1640.1,1633.3 L1635.1,1633.3 L1630.2,1633.3 L1625.2,1633.2 L1620.2,1633.2 L1615.2,1633.1 L1610.3,1633.0 L1605.3,1632.9 L1600.3,1632.8 L1595.4,1632.7 L1590.4,1632.5 L1585.4,1632.4 L1580.4,1632.2 L1575.5,1632.0 L1570.5,1631.8 L1565.5,1631.6 L1560.5,1631.4 L1555.6,1631.2 L1550.6,1630.9 L1545.6,1630.7 L1540.7,1630.4 L1535.7,1630.1 L1530.7,1629.9 L1525.7,1629.6 L1520.8,1629.2 L1515.8,1628.9 L1510.8,1628.6 L1505.9,1628.2 L1500.9,1627.9 L1495.9,1627.5 L1490.9,1627.1 L1486.0,1626.7 L1481.0,1626.3 L1476.0,1625.9 L1471.0,1625.4 L1466.1,1625.0 L1461.1,1624.5 L1456.1,1624.0 L1451.2,1623.5 L1446.2,1623.0 L1441.2,1622.5 L1436.2,1621.9 L1431.3,1621.4 L1426.3,1620.8 L1421.3,1620.2 L1416.3,1619.6 L1411.4,1619.0 L1406.4,1618.4Z" fill="#e7eafc"/><clipPath id="if"><path d="M1406.4,1536.3 L1411.4,1536.2 L1416.3,1536.1 L1421.3,1536.0 L1426.3,1535.9 L1431.3,1535.9 L1436.2,1535.9 L1441.2,1535.9 L1446.2,1535.9 L1451.2,1535.9 L1456.1,1535.9 L1461.1,1536.0 L1466.1,1536.0 L1471.0,1536.1 L1476.0,1536.2 L1481.0,1536.3 L1486.0,1536.4 L1490.9,1536.5 L1495.9,1536.6 L1500.9,1536.8 L1505.9,1536.9 L1510.8,1537.1 L1515.8,1537.3 L1520.8,1537.5 L1525.7,1537.7 L1530.7,1537.9 L1535.7,1538.2 L1540.7,1538.4 L1545.6,1538.7 L1550.6,1539.0 L1555.6,1539.2 L1560.5,1539.5 L1565.5,1539.9 L1570.5,1540.2 L1575.5,1540.5 L1580.4,1540.9 L1585.4,1541.2 L1590.4,1541.6 L1595.4,1542.0 L1600.3,1542.4 L1605.3,1542.8 L1610.3,1543.2 L1615.2,1543.6 L1620.2,1544.1 L1625.2,1544.5 L1630.2,1545.0 L1635.1,1545.5 L1640.1,1546.0 L1645.1,1546.5 L1650.1,1547.1 L1655.0,1547.6 L1660.0,1548.2 L1665.0,1548.8 L1669.9,1549.4 L1674.9,1550.0 L1679.9,1550.6 L1684.9,1551.2 L1689.8,1551.9 L1694.8,1552.6 L1699.8,1553.3 L1704.8,1554.0 L1709.7,1554.7 L1714.7,1555.5 L1719.7,1556.3 L1724.6,1557.1 L1729.6,1557.9 L1734.6,1558.7 L1739.6,1559.6 L1744.5,1560.5 L1749.5,1561.5 L1754.5,1562.4 L1759.4,1563.4 L1764.4,1564.4 L1769.4,1565.5 L1774.4,1566.6 L1779.3,1567.8 L1784.3,1569.0 L1789.3,1570.2 L1794.3,1571.5 L1799.2,1572.9 L1804.2,1574.3 L1804.2,1622.3 L1799.2,1623.3 L1794.3,1624.1 L1789.3,1624.9 L1784.3,1625.6 L1779.3,1626.3 L1774.4,1626.9 L1769.4,1627.5 L1764.4,1628.0 L1759.4,1628.5 L1754.5,1629.0 L1749.5,1629.4 L1744.5,1629.8 L1739.6,1630.2 L1734.6,1630.6 L1729.6,1630.9 L1724.6,1631.2 L1719.7,1631.5 L1714.7,1631.7 L1709.7,1632.0 L1704.8,1632.2 L1699.8,1632.4 L1694.8,1632.5 L1689.8,1632.7 L1684.9,1632.8 L1679.9,1633.0 L1674.9,1633.1 L1669.9,1633.1 L1665.0,1633.2 L1660.0,1633.3 L1655.0,1633.3 L1650.1,1633.3 L1645.1,1633.3 L1640.1,1633.3 L1635.1,1633.3 L1630.2,1633.3 L1625.2,1633.2 L1620.2,1633.2 L1615.2,1633.1 L1610.3,1633.0 L1605.3,1632.9 L1600.3,1632.8 L1595.4,1632.7 L1590.4,1632.5 L1585.4,1632.4 L1580.4,1632.2 L1575.5,1632.0 L1570.5,1631.8 L1565.5,1631.6 L1560.5,1631.4 L1555.6,1631.2 L1550.6,1630.9 L1545.6,1630.7 L1540.7,1630.4 L1535.7,1630.1 L1530.7,1629.9 L1525.7,1629.6 L1520.8,1629.2 L1515.8,1628.9 L1510.8,1628.6 L1505.9,1628.2 L1500.9,1627.9 L1495.9,1627.5 L1490.9,1627.1 L1486.0,1626.7 L1481.0,1626.3 L1476.0,1625.9 L1471.0,1625.4 L1466.1,1625.0 L1461.1,1624.5 L1456.1,1624.0 L1451.2,1623.5 L1446.2,1623.0 L1441.2,1622.5 L1436.2,1621.9 L1431.3,1621.4 L1426.3,1620.8 L1421.3,1620.2 L1416.3,1619.6 L1411.4,1619.0 L1406.4,1618.4Z"/></clipPath><g clip-path="url(#if)"><path d="M1406.4,1530.3 L1411.4,1530.4 L1416.3,1530.5 L1421.3,1530.7 L1426.3,1530.8 L1431.3,1531.0 L1436.2,1531.2 L1441.2,1531.4 L1446.2,1531.6 L1451.2,1531.9 L1456.1,1532.1 L1461.1,1532.4 L1466.1,1532.7 L1471.0,1533.0 L1476.0,1533.3 L1481.0,1533.6 L1486.0,1534.0 L1490.9,1534.3 L1495.9,1534.7 L1500.9,1535.0 L1505.9,1535.4 L1510.8,1535.8 L1515.8,1536.2 L1520.8,1536.7 L1525.7,1537.1 L1530.7,1537.5 L1535.7,1538.0 L1540.7,1538.5 L1545.6,1539.0 L1550.6,1539.5 L1555.6,1540.0 L1560.5,1540.5 L1565.5,1541.0 L1570.5,1541.6 L1575.5,1542.1 L1580.4,1542.7 L1585.4,1543.3 L1590.4,1543.9 L1595.4,1544.5 L1600.3,1545.1 L1605.3,1545.7 L1610.3,1546.4 L1615.2,1547.1 L1620.2,1547.7 L1625.2,1548.4 L1630.2,1549.1 L1635.1,1549.8 L1640.1,1550.6 L1645.1,1551.3 L1650.1,1552.1 L1655.0,1552.8 L1660.0,1553.6 L1665.0,1554.4 L1669.9,1555.2 L1674.9,1556.1 L1679.9,1556.9 L1684.9,1557.8 L1689.8,1558.7 L1694.8,1559.6 L1699.8,1560.5 L1704.8,1561.5 L1709.7,1562.4 L1714.7,1563.4 L1719.7,1564.4 L1724.6,1565.4 L1729.6,1566.5 L1734.6,1567.6 L1739.6,1568.7 L1744.5,1569.8 L1749.5,1570.9 L1754.5,1572.1 L1759.4,1573.4 L1764.4,1574.6 L1769.4,1575.9 L1774.4,1577.2 L1779.3,1578.6 L1784.3,1580.0 L1789.3,1581.5 L1794.3,1583.0 L1799.2,1584.6 L1804.2,1586.3 L1804.2,1634.3 L1799.2,1635.0 L1794.3,1635.6 L1789.3,1636.2 L1784.3,1636.7 L1779.3,1637.1 L1774.4,1637.5 L1769.4,1637.9 L1764.4,1638.2 L1759.4,1638.5 L1754.5,1638.7 L1749.5,1638.9 L1744.5,1639.1 L1739.6,1639.3 L1734.6,1639.4 L1729.6,1639.5 L1724.6,1639.6 L1719.7,1639.6 L1714.7,1639.6 L1709.7,1639.7 L1704.8,1639.6 L1699.8,1639.6 L1694.8,1639.6 L1689.8,1639.5 L1684.9,1639.4 L1679.9,1639.3 L1674.9,1639.2 L1669.9,1639.0 L1665.0,1638.9 L1660.0,1638.7 L1655.0,1638.5 L1650.1,1638.3 L1645.1,1638.1 L1640.1,1637.9 L1635.1,1637.6 L1630.2,1637.4 L1625.2,1637.1 L1620.2,1636.8 L1615.2,1636.5 L1610.3,1636.2 L1605.3,1635.9 L1600.3,1635.5 L1595.4,1635.2 L1590.4,1634.8 L1585.4,1634.4 L1580.4,1634.0 L1575.5,1633.6 L1570.5,1633.2 L1565.5,1632.8 L1560.5,1632.4 L1555.6,1631.9 L1550.6,1631.4 L1545.6,1631.0 L1540.7,1630.5 L1535.7,1630.0 L1530.7,1629.5 L1525.7,1628.9 L1520.8,1628.4 L1515.8,1627.8 L1510.8,1627.3 L1505.9,1626.7 L1500.9,1626.1 L1495.9,1625.5 L1490.9,1624.9 L1486.0,1624.3 L1481.0,1623.6 L1476.0,1623.0 L1471.0,1622.3 L1466.1,1621.6 L1461.1,1620.9 L1456.1,1620.2 L1451.2,1619.5 L1446.2,1618.8 L1441.2,1618.0 L1436.2,1617.3 L1431.3,1616.5 L1426.3,1615.7 L1421.3,1614.9 L1416.3,1614.1 L1411.4,1613.2 L1406.4,1612.4Z" fill="#e9dbef"/></g>
<line x1="1406.4" y1="1577.4" x2="1804.2" y2="1598.4" stroke="#1c0ce4" stroke-width="4.6"/>
<line x1="1406.4" y1="1571.3" x2="1804.2" y2="1610.3" stroke="#e41f2b" stroke-width="4.6"/>
<g fill="#7f7f7f" fill-opacity="0.2"><circle cx="1715.5" cy="1362.9" r="10.4"/><circle cx="1746.1" cy="1318.2" r="10.4"/><circle cx="1804.7" cy="1576.5" r="10.4"/><circle cx="1713.0" cy="1580.3" r="10.4"/><circle cx="1739.3" cy="1592.8" r="10.4"/><circle cx="1720.5" cy="1611.7" r="10.4"/><circle cx="1579.8" cy="1384.3" r="10.4"/><circle cx="1408.9" cy="1553.9" r="10.4"/><circle cx="1579.5" cy="1385.3" r="10.4"/><circle cx="1545.1" cy="1395.9" r="10.4"/><circle cx="1528.4" cy="1414.4" r="10.4"/><circle cx="1566.3" cy="1416.1" r="10.4"/><circle cx="1550.4" cy="1432.9" r="10.4"/><circle cx="1571.6" cy="1434.6" r="10.4"/><circle cx="1581.3" cy="1443.5" r="10.4"/><circle cx="1511.6" cy="1432.9" r="10.4"/><circle cx="1511.6" cy="1455.8" r="10.4"/><circle cx="1559.2" cy="1452.3" r="10.4"/><circle cx="1568.0" cy="1475.2" r="10.4"/><circle cx="1576.8" cy="1484.0" r="10.4"/><circle cx="1539.8" cy="1482.2" r="10.4"/><circle cx="1594.5" cy="1506.9" r="10.4"/><circle cx="1619.2" cy="1519.3" r="10.4"/><circle cx="1606.8" cy="1526.3" r="10.4"/><circle cx="1598.0" cy="1514.0" r="10.4"/><circle cx="1499.3" cy="1501.6" r="10.4"/><circle cx="1488.7" cy="1528.1" r="10.4"/><circle cx="1633.3" cy="1655.0" r="10.4"/><circle cx="1617.4" cy="1651.5" r="10.4"/><circle cx="1612.1" cy="1670.9" r="10.4"/><circle cx="1601.5" cy="1686.7" r="10.4"/><circle cx="1478.1" cy="1640.9" r="10.4"/><circle cx="1499.3" cy="1647.9" r="10.4"/><circle cx="1520.4" cy="1658.5" r="10.4"/><circle cx="1606.8" cy="1630.3" r="10.4"/><circle cx="1409.4" cy="1553.6" r="10.4"/><circle cx="1430.5" cy="1558.0" r="10.4"/><circle cx="1430.5" cy="1584.5" r="10.4"/><circle cx="1555.7" cy="1478.7" r="10.4"/><circle cx="1583.9" cy="1494.6" r="10.4"/><circle cx="1610.3" cy="1503.4" r="10.4"/><circle cx="1506.3" cy="1655.0" r="10.4"/><circle cx="1592.7" cy="1649.7" r="10.4"/><circle cx="1472.8" cy="1630.3" r="10.4"/><circle cx="1650.9" cy="1575.7" r="10.4"/><circle cx="1603.3" cy="1538.6" r="10.4"/></g>
<g fill="#7f7f7f" fill-opacity="0.4"><circle cx="1549.5" cy="1406.4" r="10.4"/><circle cx="1516.9" cy="1439.9" r="10.4"/><circle cx="1531.0" cy="1447.0" r="10.4"/><circle cx="1601.5" cy="1494.6" r="10.4"/><circle cx="1633.3" cy="1633.8" r="10.4"/><circle cx="1485.2" cy="1655.0" r="10.4"/><circle cx="1488.7" cy="1549.2" r="10.4"/><circle cx="1566.3" cy="1420.5" r="10.4"/><circle cx="1552.2" cy="1438.2" r="10.4"/><circle cx="1524.0" cy="1454.0" r="10.4"/><circle cx="1617.4" cy="1575.7" r="10.4"/><circle cx="1633.3" cy="1577.4" r="10.4"/><circle cx="1439.4" cy="1559.8" r="10.4"/><circle cx="1601.5" cy="1570.4" r="10.4"/><circle cx="1488.7" cy="1642.6" r="10.4"/><circle cx="1583.9" cy="1655.0" r="10.4"/><circle cx="1552.2" cy="1669.1" r="10.4"/></g>
<g fill="#7f7f7f" fill-opacity="0.7"><circle cx="1476.4" cy="1619.7" r="10.4"/><circle cx="1478.1" cy="1621.5" r="10.4"/><circle cx="1603.3" cy="1492.8" r="10.4"/><circle cx="1550.4" cy="1408.2" r="10.4"/><circle cx="1619.2" cy="1575.7" r="10.4"/><circle cx="1635.0" cy="1578.3" r="10.4"/></g>
<g fill="#7f7f7f" fill-opacity="0.9"><circle cx="1541.8" cy="1623.7" r="10.4"/><circle cx="1544.8" cy="1552.5" r="10.4"/><circle cx="1570.3" cy="1538.4" r="10.4"/><circle cx="1544.3" cy="1531.2" r="10.4"/><circle cx="1566.9" cy="1523.5" r="10.4"/><circle cx="1530.9" cy="1542.7" r="10.4"/><circle cx="1586.2" cy="1556.3" r="10.4"/><circle cx="1570.2" cy="1522.2" r="10.4"/><circle cx="1513.1" cy="1586.0" r="10.4"/><circle cx="1564.6" cy="1637.0" r="10.4"/><circle cx="1515.7" cy="1633.7" r="10.4"/><circle cx="1499.2" cy="1598.1" r="10.4"/><circle cx="1572.2" cy="1552.9" r="10.4"/><circle cx="1525.1" cy="1524.2" r="10.4"/><circle cx="1535.8" cy="1632.2" r="10.4"/><circle cx="1550.9" cy="1551.1" r="10.4"/><circle cx="1535.1" cy="1552.8" r="10.4"/><circle cx="1511.8" cy="1579.4" r="10.4"/><circle cx="1508.1" cy="1572.1" r="10.4"/><circle cx="1570.3" cy="1529.5" r="10.4"/><circle cx="1510.6" cy="1562.9" r="10.4"/><circle cx="1509.5" cy="1594.9" r="10.4"/><circle cx="1531.3" cy="1564.3" r="10.4"/><circle cx="1566.2" cy="1605.1" r="10.4"/><circle cx="1524.8" cy="1620.2" r="10.4"/><circle cx="1554.2" cy="1564.9" r="10.4"/><circle cx="1561.7" cy="1519.0" r="10.4"/><circle cx="1507.5" cy="1581.2" r="10.4"/><circle cx="1563.6" cy="1568.7" r="10.4"/><circle cx="1537.0" cy="1569.5" r="10.4"/><circle cx="1575.8" cy="1604.9" r="10.4"/><circle cx="1530.6" cy="1559.3" r="10.4"/><circle cx="1577.5" cy="1610.1" r="10.4"/><circle cx="1520.1" cy="1620.5" r="10.4"/><circle cx="1501.2" cy="1564.5" r="10.4"/><circle cx="1516.7" cy="1553.2" r="10.4"/><circle cx="1518.0" cy="1601.9" r="10.4"/><circle cx="1507.5" cy="1592.6" r="10.4"/><circle cx="1536.2" cy="1560.4" r="10.4"/><circle cx="1504.1" cy="1564.1" r="10.4"/><circle cx="1579.7" cy="1568.1" r="10.4"/><circle cx="1509.5" cy="1573.2" r="10.4"/><circle cx="1577.2" cy="1561.3" r="10.4"/><circle cx="1561.5" cy="1609.6" r="10.4"/><circle cx="1517.5" cy="1539.0" r="10.4"/><circle cx="1557.4" cy="1526.4" r="10.4"/><circle cx="1530.5" cy="1612.0" r="10.4"/><circle cx="1540.4" cy="1538.1" r="10.4"/><circle cx="1551.3" cy="1618.0" r="10.4"/><circle cx="1510.7" cy="1553.6" r="10.4"/><circle cx="1563.7" cy="1601.7" r="10.4"/><circle cx="1562.9" cy="1626.6" r="10.4"/><circle cx="1570.0" cy="1551.6" r="10.4"/><circle cx="1522.4" cy="1547.4" r="10.4"/><circle cx="1549.6" cy="1642.8" r="10.4"/><circle cx="1472.5" cy="1584.6" r="10.4"/><circle cx="1538.0" cy="1652.2" r="10.4"/><circle cx="1575.0" cy="1623.2" r="10.4"/><circle cx="1577.5" cy="1590.4" r="10.4"/><circle cx="1556.4" cy="1626.4" r="10.4"/><circle cx="1541.2" cy="1605.3" r="10.4"/><circle cx="1561.6" cy="1632.2" r="10.4"/><circle cx="1543.0" cy="1603.1" r="10.4"/><circle cx="1514.4" cy="1575.3" r="10.4"/><circle cx="1554.6" cy="1542.8" r="10.4"/><circle cx="1568.3" cy="1539.8" r="10.4"/><circle cx="1560.7" cy="1623.4" r="10.4"/><circle cx="1532.7" cy="1614.5" r="10.4"/><circle cx="1583.3" cy="1609.4" r="10.4"/><circle cx="1541.0" cy="1562.9" r="10.4"/><circle cx="1523.2" cy="1552.9" r="10.4"/><circle cx="1556.1" cy="1625.2" r="10.4"/><circle cx="1577.8" cy="1567.0" r="10.4"/><circle cx="1557.6" cy="1569.6" r="10.4"/><circle cx="1557.4" cy="1559.9" r="10.4"/><circle cx="1538.3" cy="1568.9" r="10.4"/><circle cx="1507.0" cy="1631.3" r="10.4"/><circle cx="1517.8" cy="1605.4" r="10.4"/><circle cx="1475.1" cy="1582.3" r="10.4"/><circle cx="1506.6" cy="1519.5" r="10.4"/><circle cx="1545.2" cy="1559.5" r="10.4"/><circle cx="1544.1" cy="1539.6" r="10.4"/><circle cx="1514.0" cy="1614.4" r="10.4"/><circle cx="1544.6" cy="1522.1" r="10.4"/><circle cx="1565.5" cy="1526.3" r="10.4"/><circle cx="1536.1" cy="1645.4" r="10.4"/><circle cx="1564.7" cy="1629.5" r="10.4"/><circle cx="1574.7" cy="1615.8" r="10.4"/><circle cx="1555.8" cy="1641.3" r="10.4"/><circle cx="1507.7" cy="1524.6" r="10.4"/><circle cx="1535.3" cy="1602.0" r="10.4"/><circle cx="1560.1" cy="1618.5" r="10.4"/><circle cx="1578.9" cy="1561.1" r="10.4"/><circle cx="1522.8" cy="1601.4" r="10.4"/><circle cx="1507.9" cy="1583.5" r="10.4"/><circle cx="1555.8" cy="1624.5" r="10.4"/><circle cx="1549.2" cy="1569.3" r="10.4"/><circle cx="1513.0" cy="1586.3" r="10.4"/><circle cx="1547.0" cy="1524.1" r="10.4"/><circle cx="1528.7" cy="1617.8" r="10.4"/><circle cx="1541.5" cy="1600.0" r="10.4"/><circle cx="1521.0" cy="1635.7" r="10.4"/><circle cx="1543.1" cy="1557.6" r="10.4"/><circle cx="1516.9" cy="1617.3" r="10.4"/><circle cx="1541.9" cy="1633.6" r="10.4"/><circle cx="1566.5" cy="1546.1" r="10.4"/><circle cx="1527.9" cy="1629.7" r="10.4"/><circle cx="1553.9" cy="1566.5" r="10.4"/><circle cx="1522.3" cy="1628.2" r="10.4"/><circle cx="1531.4" cy="1606.5" r="10.4"/><circle cx="1532.7" cy="1538.4" r="10.4"/><circle cx="1528.9" cy="1567.6" r="10.4"/><circle cx="1528.6" cy="1552.8" r="10.4"/><circle cx="1529.4" cy="1536.4" r="10.4"/><circle cx="1539.6" cy="1643.3" r="10.4"/><circle cx="1532.9" cy="1569.6" r="10.4"/><circle cx="1547.5" cy="1599.4" r="10.4"/><circle cx="1520.1" cy="1519.6" r="10.4"/><circle cx="1577.4" cy="1609.0" r="10.4"/><circle cx="1570.3" cy="1655.8" r="10.4"/><circle cx="1507.2" cy="1575.9" r="10.4"/><circle cx="1512.0" cy="1542.9" r="10.4"/><circle cx="1578.3" cy="1572.1" r="10.4"/><circle cx="1514.7" cy="1549.9" r="10.4"/><circle cx="1524.5" cy="1555.6" r="10.4"/><circle cx="1526.8" cy="1631.0" r="10.4"/><circle cx="1510.9" cy="1586.3" r="10.4"/><circle cx="1556.3" cy="1503.7" r="10.4"/><circle cx="1514.8" cy="1567.1" r="10.4"/><circle cx="1562.5" cy="1633.4" r="10.4"/><circle cx="1557.9" cy="1540.5" r="10.4"/><circle cx="1552.6" cy="1631.4" r="10.4"/><circle cx="1548.3" cy="1636.9" r="10.4"/><circle cx="1547.7" cy="1497.7" r="10.4"/><circle cx="1568.4" cy="1560.3" r="10.4"/><circle cx="1509.7" cy="1566.8" r="10.4"/><circle cx="1534.1" cy="1638.0" r="10.4"/><circle cx="1530.7" cy="1612.9" r="10.4"/><circle cx="1543.7" cy="1464.7" r="10.4"/><circle cx="1549.3" cy="1525.8" r="10.4"/><circle cx="1529.9" cy="1620.0" r="10.4"/><circle cx="1518.3" cy="1623.7" r="10.4"/><circle cx="1502.0" cy="1609.8" r="10.4"/><circle cx="1531.9" cy="1606.2" r="10.4"/><circle cx="1536.6" cy="1672.9" r="10.4"/><circle cx="1580.3" cy="1550.1" r="10.4"/><circle cx="1532.8" cy="1549.9" r="10.4"/><circle cx="1537.7" cy="1552.1" r="10.4"/><circle cx="1500.4" cy="1554.8" r="10.4"/><circle cx="1519.8" cy="1609.9" r="10.4"/><circle cx="1551.9" cy="1630.5" r="10.4"/><circle cx="1521.0" cy="1610.6" r="10.4"/><circle cx="1507.5" cy="1617.0" r="10.4"/><circle cx="1480.7" cy="1586.7" r="10.4"/><circle cx="1508.0" cy="1544.8" r="10.4"/><circle cx="1551.6" cy="1525.3" r="10.4"/><circle cx="1528.9" cy="1567.7" r="10.4"/><circle cx="1576.0" cy="1596.0" r="10.4"/><circle cx="1540.8" cy="1645.0" r="10.4"/><circle cx="1534.9" cy="1536.8" r="10.4"/><circle cx="1551.9" cy="1541.4" r="10.4"/><circle cx="1568.9" cy="1521.1" r="10.4"/><circle cx="1544.7" cy="1569.9" r="10.4"/><circle cx="1551.7" cy="1633.9" r="10.4"/><circle cx="1503.4" cy="1592.6" r="10.4"/><circle cx="1519.4" cy="1564.1" r="10.4"/><circle cx="1508.9" cy="1621.5" r="10.4"/><circle cx="1452.7" cy="1588.1" r="10.4"/><circle cx="1582.7" cy="1554.0" r="10.4"/><circle cx="1526.1" cy="1568.9" r="10.4"/><circle cx="1553.0" cy="1503.7" r="10.4"/><circle cx="1538.1" cy="1626.0" r="10.4"/><circle cx="1545.5" cy="1562.8" r="10.4"/><circle cx="1501.1" cy="1557.1" r="10.4"/><circle cx="1561.1" cy="1525.6" r="10.4"/><circle cx="1562.1" cy="1560.3" r="10.4"/><circle cx="1557.2" cy="1546.0" r="10.4"/><circle cx="1499.6" cy="1617.3" r="10.4"/><circle cx="1508.6" cy="1550.6" r="10.4"/><circle cx="1535.5" cy="1622.9" r="10.4"/><circle cx="1568.1" cy="1653.5" r="10.4"/><circle cx="1513.8" cy="1558.9" r="10.4"/><circle cx="1568.3" cy="1601.1" r="10.4"/><circle cx="1572.1" cy="1617.7" r="10.4"/><circle cx="1575.8" cy="1611.4" r="10.4"/><circle cx="1528.8" cy="1532.9" r="10.4"/><circle cx="1564.9" cy="1565.6" r="10.4"/><circle cx="1524.3" cy="1555.8" r="10.4"/><circle cx="1577.5" cy="1552.9" r="10.4"/><circle cx="1470.3" cy="1583.6" r="10.4"/><circle cx="1500.4" cy="1618.8" r="10.4"/><circle cx="1538.7" cy="1614.2" r="10.4"/><circle cx="1505.2" cy="1565.2" r="10.4"/><circle cx="1569.6" cy="1542.1" r="10.4"/><circle cx="1583.6" cy="1552.3" r="10.4"/><circle cx="1529.8" cy="1520.4" r="10.4"/><circle cx="1572.8" cy="1628.4" r="10.4"/><circle cx="1541.8" cy="1556.4" r="10.4"/><circle cx="1505.3" cy="1597.9" r="10.4"/><circle cx="1476.4" cy="1584.7" r="10.4"/><circle cx="1577.4" cy="1528.6" r="10.4"/><circle cx="1544.7" cy="1498.0" r="10.4"/><circle cx="1555.0" cy="1614.9" r="10.4"/><circle cx="1564.1" cy="1627.3" r="10.4"/><circle cx="1580.6" cy="1607.1" r="10.4"/><circle cx="1567.8" cy="1538.4" r="10.4"/><circle cx="1536.1" cy="1547.7" r="10.4"/><circle cx="1497.2" cy="1554.2" r="10.4"/><circle cx="1547.7" cy="1499.5" r="10.4"/><circle cx="1546.0" cy="1541.8" r="10.4"/><circle cx="1529.9" cy="1464.8" r="10.4"/><circle cx="1452.9" cy="1563.3" r="10.4"/><circle cx="1540.0" cy="1630.3" r="10.4"/><circle cx="1523.1" cy="1601.5" r="10.4"/><circle cx="1510.5" cy="1527.0" r="10.4"/><circle cx="1530.6" cy="1552.1" r="10.4"/><circle cx="1570.4" cy="1548.7" r="10.4"/><circle cx="1570.1" cy="1636.2" r="10.4"/><circle cx="1543.7" cy="1632.0" r="10.4"/><circle cx="1544.3" cy="1607.9" r="10.4"/><circle cx="1507.5" cy="1595.2" r="10.4"/><circle cx="1578.9" cy="1548.5" r="10.4"/><circle cx="1511.7" cy="1551.5" r="10.4"/><circle cx="1557.6" cy="1604.3" r="10.4"/><circle cx="1515.7" cy="1568.6" r="10.4"/><circle cx="1571.5" cy="1528.4" r="10.4"/><circle cx="1542.9" cy="1555.5" r="10.4"/><circle cx="1504.6" cy="1565.7" r="10.4"/><circle cx="1579.3" cy="1592.0" r="10.4"/><circle cx="1509.3" cy="1613.6" r="10.4"/><circle cx="1535.8" cy="1565.8" r="10.4"/><circle cx="1566.4" cy="1519.9" r="10.4"/><circle cx="1519.3" cy="1538.3" r="10.4"/><circle cx="1557.0" cy="1603.7" r="10.4"/><circle cx="1510.9" cy="1540.1" r="10.4"/><circle cx="1560.3" cy="1621.8" r="10.4"/><circle cx="1527.3" cy="1603.4" r="10.4"/><circle cx="1501.8" cy="1620.8" r="10.4"/><circle cx="1544.8" cy="1626.7" r="10.4"/><circle cx="1548.7" cy="1628.5" r="10.4"/><circle cx="1531.7" cy="1521.8" r="10.4"/><circle cx="1514.1" cy="1620.7" r="10.4"/><circle cx="1511.2" cy="1528.8" r="10.4"/><circle cx="1560.5" cy="1547.6" r="10.4"/><circle cx="1533.3" cy="1523.0" r="10.4"/><circle cx="1543.2" cy="1547.4" r="10.4"/><circle cx="1503.1" cy="1606.6" r="10.4"/><circle cx="1562.8" cy="1539.0" r="10.4"/><circle cx="1523.8" cy="1601.4" r="10.4"/><circle cx="1535.5" cy="1545.4" r="10.4"/><circle cx="1533.6" cy="1549.3" r="10.4"/><circle cx="1550.1" cy="1548.2" r="10.4"/><circle cx="1553.2" cy="1599.4" r="10.4"/><circle cx="1524.5" cy="1604.8" r="10.4"/><circle cx="1529.4" cy="1616.6" r="10.4"/><circle cx="1555.9" cy="1556.4" r="10.4"/><circle cx="1552.8" cy="1526.3" r="10.4"/><circle cx="1559.2" cy="1605.7" r="10.4"/><circle cx="1574.8" cy="1611.0" r="10.4"/><circle cx="1533.0" cy="1548.4" r="10.4"/><circle cx="1509.8" cy="1583.4" r="10.4"/><circle cx="1551.3" cy="1530.3" r="10.4"/><circle cx="1573.0" cy="1635.5" r="10.4"/><circle cx="1590.0" cy="1630.5" r="10.4"/><circle cx="1512.1" cy="1559.4" r="10.4"/><circle cx="1533.6" cy="1604.9" r="10.4"/><circle cx="1577.1" cy="1602.8" r="10.4"/><circle cx="1511.3" cy="1573.0" r="10.4"/><circle cx="1506.5" cy="1599.6" r="10.4"/><circle cx="1570.5" cy="1538.4" r="10.4"/><circle cx="1511.8" cy="1571.5" r="10.4"/><circle cx="1516.7" cy="1558.8" r="10.4"/><circle cx="1536.4" cy="1605.6" r="10.4"/><circle cx="1560.8" cy="1622.5" r="10.4"/><circle cx="1470.0" cy="1583.4" r="10.4"/><circle cx="1499.5" cy="1521.0" r="10.4"/><circle cx="1543.5" cy="1543.0" r="10.4"/><circle cx="1512.7" cy="1633.4" r="10.4"/><circle cx="1543.0" cy="1608.4" r="10.4"/><circle cx="1530.5" cy="1518.5" r="10.4"/><circle cx="1551.1" cy="1635.9" r="10.4"/><circle cx="1504.5" cy="1542.6" r="10.4"/><circle cx="1500.5" cy="1545.7" r="10.4"/><circle cx="1508.9" cy="1594.9" r="10.4"/><circle cx="1543.7" cy="1500.7" r="10.4"/><circle cx="1525.5" cy="1570.0" r="10.4"/><circle cx="1559.7" cy="1641.8" r="10.4"/><circle cx="1521.9" cy="1637.1" r="10.4"/><circle cx="1555.1" cy="1502.9" r="10.4"/><circle cx="1555.9" cy="1602.6" r="10.4"/><circle cx="1506.5" cy="1614.3" r="10.4"/><circle cx="1509.0" cy="1548.9" r="10.4"/><circle cx="1546.2" cy="1641.9" r="10.4"/><circle cx="1546.5" cy="1643.3" r="10.4"/><circle cx="1511.4" cy="1546.8" r="10.4"/><circle cx="1514.5" cy="1604.3" r="10.4"/><circle cx="1509.8" cy="1633.0" r="10.4"/><circle cx="1510.1" cy="1575.1" r="10.4"/><circle cx="1581.2" cy="1598.6" r="10.4"/><circle cx="1528.9" cy="1631.9" r="10.4"/><circle cx="1504.6" cy="1616.9" r="10.4"/><circle cx="1510.8" cy="1553.3" r="10.4"/><circle cx="1505.6" cy="1632.1" r="10.4"/><circle cx="1512.7" cy="1583.1" r="10.4"/><circle cx="1531.2" cy="1537.1" r="10.4"/><circle cx="1506.9" cy="1567.5" r="10.4"/><circle cx="1559.8" cy="1519.9" r="10.4"/><circle cx="1567.9" cy="1635.4" r="10.4"/><circle cx="1555.7" cy="1559.3" r="10.4"/><circle cx="1538.2" cy="1621.0" r="10.4"/><circle cx="1555.2" cy="1553.7" r="10.4"/><circle cx="1536.9" cy="1612.1" r="10.4"/><circle cx="1567.2" cy="1524.2" r="10.4"/><circle cx="1575.5" cy="1615.2" r="10.4"/><circle cx="1562.8" cy="1548.6" r="10.4"/><circle cx="1547.4" cy="1542.0" r="10.4"/><circle cx="1550.0" cy="1519.3" r="10.4"/><circle cx="1538.3" cy="1634.0" r="10.4"/><circle cx="1515.3" cy="1547.9" r="10.4"/><circle cx="1564.4" cy="1614.2" r="10.4"/><circle cx="1544.9" cy="1551.5" r="10.4"/><circle cx="1515.1" cy="1552.4" r="10.4"/><circle cx="1533.1" cy="1561.4" r="10.4"/><circle cx="1519.3" cy="1551.9" r="10.4"/><circle cx="1524.3" cy="1634.8" r="10.4"/><circle cx="1532.6" cy="1559.4" r="10.4"/><circle cx="1497.8" cy="1552.3" r="10.4"/><circle cx="1500.5" cy="1604.2" r="10.4"/><circle cx="1501.0" cy="1520.4" r="10.4"/><circle cx="1541.1" cy="1499.9" r="10.4"/><circle cx="1515.9" cy="1549.1" r="10.4"/><circle cx="1543.1" cy="1531.9" r="10.4"/><circle cx="1561.7" cy="1610.6" r="10.4"/><circle cx="1558.7" cy="1620.7" r="10.4"/><circle cx="1553.1" cy="1643.1" r="10.4"/><circle cx="1546.5" cy="1609.8" r="10.4"/><circle cx="1563.9" cy="1635.3" r="10.4"/><circle cx="1529.6" cy="1607.0" r="10.4"/><circle cx="1501.1" cy="1562.8" r="10.4"/><circle cx="1504.6" cy="1633.8" r="10.4"/><circle cx="1578.6" cy="1593.9" r="10.4"/><circle cx="1543.7" cy="1521.3" r="10.4"/><circle cx="1498.6" cy="1523.2" r="10.4"/><circle cx="1509.9" cy="1585.5" r="10.4"/><circle cx="1559.8" cy="1500.5" r="10.4"/><circle cx="1519.4" cy="1527.3" r="10.4"/><circle cx="1511.8" cy="1608.3" r="10.4"/><circle cx="1536.1" cy="1609.0" r="10.4"/><circle cx="1547.4" cy="1644.0" r="10.4"/><circle cx="1556.7" cy="1542.8" r="10.4"/><circle cx="1540.4" cy="1603.1" r="10.4"/><circle cx="1577.0" cy="1550.9" r="10.4"/><circle cx="1533.1" cy="1520.1" r="10.4"/><circle cx="1579.1" cy="1549.5" r="10.4"/><circle cx="1567.3" cy="1568.2" r="10.4"/><circle cx="1513.1" cy="1552.4" r="10.4"/><circle cx="1550.6" cy="1561.3" r="10.4"/><circle cx="1559.4" cy="1564.3" r="10.4"/><circle cx="1519.9" cy="1537.6" r="10.4"/><circle cx="1568.9" cy="1632.5" r="10.4"/><circle cx="1579.5" cy="1613.6" r="10.4"/><circle cx="1529.7" cy="1464.4" r="10.4"/><circle cx="1539.1" cy="1464.1" r="10.4"/><circle cx="1548.9" cy="1464.3" r="10.4"/><circle cx="1550.2" cy="1464.8" r="10.4"/><circle cx="1540.5" cy="1465.1" r="10.4"/><circle cx="1530.5" cy="1464.9" r="10.4"/><circle cx="1506.2" cy="1541.5" r="10.4"/><circle cx="1506.2" cy="1620.4" r="10.4"/><circle cx="1514.3" cy="1542.0" r="10.4"/><circle cx="1514.3" cy="1619.9" r="10.4"/><circle cx="1522.5" cy="1540.9" r="10.4"/><circle cx="1522.5" cy="1619.9" r="10.4"/><circle cx="1530.7" cy="1540.9" r="10.4"/><circle cx="1530.7" cy="1620.3" r="10.4"/><circle cx="1538.8" cy="1540.5" r="10.4"/><circle cx="1538.8" cy="1620.4" r="10.4"/><circle cx="1547.0" cy="1540.8" r="10.4"/><circle cx="1547.0" cy="1619.7" r="10.4"/><circle cx="1555.2" cy="1541.6" r="10.4"/><circle cx="1555.2" cy="1620.9" r="10.4"/><circle cx="1563.3" cy="1542.2" r="10.4"/><circle cx="1563.3" cy="1621.4" r="10.4"/><circle cx="1571.5" cy="1541.7" r="10.4"/><circle cx="1571.5" cy="1620.4" r="10.4"/><circle cx="1579.7" cy="1540.3" r="10.4"/><circle cx="1579.7" cy="1620.8" r="10.4"/><circle cx="1506.4" cy="1540.2" r="10.4"/><circle cx="1577.7" cy="1540.2" r="10.4"/><circle cx="1506.4" cy="1548.4" r="10.4"/><circle cx="1578.4" cy="1548.4" r="10.4"/><circle cx="1507.3" cy="1556.5" r="10.4"/><circle cx="1579.4" cy="1556.5" r="10.4"/><circle cx="1508.0" cy="1564.7" r="10.4"/><circle cx="1578.5" cy="1564.7" r="10.4"/><circle cx="1507.4" cy="1572.8" r="10.4"/><circle cx="1579.1" cy="1572.8" r="10.4"/><circle cx="1506.5" cy="1581.0" r="10.4"/><circle cx="1579.0" cy="1581.0" r="10.4"/><circle cx="1506.2" cy="1589.1" r="10.4"/><circle cx="1579.3" cy="1589.1" r="10.4"/><circle cx="1507.2" cy="1597.2" r="10.4"/><circle cx="1578.9" cy="1597.2" r="10.4"/><circle cx="1507.7" cy="1605.4" r="10.4"/><circle cx="1579.4" cy="1605.4" r="10.4"/><circle cx="1506.6" cy="1613.5" r="10.4"/><circle cx="1578.6" cy="1613.5" r="10.4"/><circle cx="1507.5" cy="1621.7" r="10.4"/><circle cx="1579.0" cy="1621.7" r="10.4"/><circle cx="1509.2" cy="1573.7" r="10.4"/><circle cx="1505.1" cy="1569.5" r="10.4"/><circle cx="1501.4" cy="1564.7" r="10.4"/><circle cx="1497.3" cy="1559.1" r="10.4"/><circle cx="1498.8" cy="1553.5" r="10.4"/><circle cx="1499.2" cy="1548.3" r="10.4"/><circle cx="1503.9" cy="1543.4" r="10.4"/><circle cx="1508.9" cy="1538.3" r="10.4"/><circle cx="1517.3" cy="1534.7" r="10.4"/><circle cx="1525.7" cy="1533.2" r="10.4"/><circle cx="1534.5" cy="1531.7" r="10.4"/><circle cx="1543.9" cy="1530.0" r="10.4"/><circle cx="1553.2" cy="1531.9" r="10.4"/><circle cx="1561.4" cy="1533.5" r="10.4"/><circle cx="1569.6" cy="1536.1" r="10.4"/><circle cx="1575.3" cy="1540.7" r="10.4"/><circle cx="1580.8" cy="1545.5" r="10.4"/><circle cx="1583.0" cy="1550.7" r="10.4"/><circle cx="1585.1" cy="1556.2" r="10.4"/><circle cx="1583.4" cy="1561.8" r="10.4"/><circle cx="1582.3" cy="1567.0" r="10.4"/><circle cx="1509.0" cy="1589.4" r="10.4"/><circle cx="1581.9" cy="1595.1" r="10.4"/><circle cx="1585.7" cy="1600.8" r="10.4"/><circle cx="1585.5" cy="1606.6" r="10.4"/><circle cx="1585.5" cy="1612.3" r="10.4"/><circle cx="1581.6" cy="1617.5" r="10.4"/><circle cx="1577.7" cy="1623.0" r="10.4"/><circle cx="1571.7" cy="1626.6" r="10.4"/><circle cx="1563.0" cy="1630.7" r="10.4"/><circle cx="1554.3" cy="1633.4" r="10.4"/><circle cx="1545.5" cy="1634.1" r="10.4"/><circle cx="1535.9" cy="1633.8" r="10.4"/><circle cx="1526.3" cy="1632.1" r="10.4"/><circle cx="1517.8" cy="1630.0" r="10.4"/><circle cx="1509.6" cy="1626.6" r="10.4"/><circle cx="1504.1" cy="1621.8" r="10.4"/><circle cx="1499.1" cy="1616.7" r="10.4"/><circle cx="1497.4" cy="1611.0" r="10.4"/><circle cx="1498.9" cy="1605.3" r="10.4"/><circle cx="1500.3" cy="1599.4" r="10.4"/><circle cx="1503.9" cy="1594.0" r="10.4"/><circle cx="1524.1" cy="1533.9" r="10.4"/><circle cx="1515.6" cy="1532.4" r="10.4"/><circle cx="1509.0" cy="1530.0" r="10.4"/><circle cx="1506.6" cy="1527.6" r="10.4"/><circle cx="1506.1" cy="1525.0" r="10.4"/><circle cx="1509.7" cy="1522.5" r="10.4"/><circle cx="1515.4" cy="1520.3" r="10.4"/><circle cx="1523.4" cy="1518.9" r="10.4"/><circle cx="1533.4" cy="1518.1" r="10.4"/><circle cx="1544.2" cy="1518.0" r="10.4"/><circle cx="1555.1" cy="1518.2" r="10.4"/><circle cx="1564.5" cy="1519.3" r="10.4"/><circle cx="1570.4" cy="1521.3" r="10.4"/><circle cx="1574.7" cy="1523.7" r="10.4"/><circle cx="1578.3" cy="1526.3" r="10.4"/><circle cx="1576.9" cy="1528.9" r="10.4"/><circle cx="1571.3" cy="1531.1" r="10.4"/><circle cx="1563.4" cy="1532.9" r="10.4"/><circle cx="1554.8" cy="1534.4" r="10.4"/><circle cx="1544.2" cy="1535.0" r="10.4"/><circle cx="1533.9" cy="1534.6" r="10.4"/><circle cx="1545.1" cy="1497.8" r="10.4"/><circle cx="1556.0" cy="1497.7" r="10.4"/><circle cx="1561.4" cy="1501.7" r="10.4"/><circle cx="1556.1" cy="1505.6" r="10.4"/><circle cx="1544.8" cy="1505.5" r="10.4"/><circle cx="1539.5" cy="1501.6" r="10.4"/><circle cx="1501.3" cy="1517.9" r="10.4"/><circle cx="1507.1" cy="1522.6" r="10.4"/><circle cx="1499.9" cy="1525.4" r="10.4"/><circle cx="1583.5" cy="1529.5" r="10.4"/><circle cx="1586.0" cy="1524.8" r="10.4"/><circle cx="1503.4" cy="1633.8" r="10.4"/><circle cx="1496.9" cy="1632.1" r="10.4"/><circle cx="1586.7" cy="1628.7" r="10.4"/><circle cx="1591.9" cy="1633.7" r="10.4"/><circle cx="1516.2" cy="1627.5" r="10.4"/><circle cx="1526.2" cy="1626.6" r="10.4"/><circle cx="1536.5" cy="1626.2" r="10.4"/><circle cx="1547.4" cy="1625.9" r="10.4"/><circle cx="1558.8" cy="1626.4" r="10.4"/><circle cx="1568.2" cy="1627.6" r="10.4"/><circle cx="1575.7" cy="1628.8" r="10.4"/><circle cx="1580.4" cy="1630.4" r="10.4"/><circle cx="1580.3" cy="1632.1" r="10.4"/><circle cx="1578.4" cy="1633.8" r="10.4"/><circle cx="1575.0" cy="1635.5" r="10.4"/><circle cx="1567.9" cy="1636.8" r="10.4"/><circle cx="1557.4" cy="1637.7" r="10.4"/><circle cx="1546.9" cy="1638.2" r="10.4"/><circle cx="1535.5" cy="1638.2" r="10.4"/><circle cx="1524.4" cy="1637.6" r="10.4"/><circle cx="1515.7" cy="1636.5" r="10.4"/><circle cx="1508.8" cy="1635.3" r="10.4"/><circle cx="1505.1" cy="1633.7" r="10.4"/><circle cx="1503.4" cy="1632.0" r="10.4"/><circle cx="1502.9" cy="1630.2" r="10.4"/><circle cx="1509.7" cy="1628.7" r="10.4"/><circle cx="1532.9" cy="1655.3" r="10.4"/><circle cx="1539.9" cy="1654.7" r="10.4"/><circle cx="1533.9" cy="1671.5" r="10.4"/><circle cx="1538.8" cy="1673.7" r="10.4"/><circle cx="1564.7" cy="1655.3" r="10.4"/><circle cx="1571.3" cy="1658.2" r="10.4"/><circle cx="1548.6" cy="1640.8" r="10.4"/><circle cx="1558.5" cy="1641.7" r="10.4"/><circle cx="1564.1" cy="1643.8" r="10.4"/><circle cx="1562.2" cy="1646.2" r="10.4"/><circle cx="1553.9" cy="1647.8" r="10.4"/><circle cx="1543.4" cy="1647.8" r="10.4"/><circle cx="1535.4" cy="1646.2" r="10.4"/><circle cx="1533.3" cy="1643.8" r="10.4"/><circle cx="1538.9" cy="1641.7" r="10.4"/><circle cx="1583.9" cy="1631.4" r="10.4"/><circle cx="1590.9" cy="1632.7" r="10.4"/><circle cx="1500.5" cy="1637.0" r="10.4"/><circle cx="1505.2" cy="1634.2" r="10.4"/><circle cx="1449.2" cy="1563.9" r="10.4"/><circle cx="1456.0" cy="1566.5" r="10.4"/><circle cx="1449.8" cy="1570.1" r="10.4"/><circle cx="1453.9" cy="1587.5" r="10.4"/><circle cx="1463.5" cy="1587.7" r="10.4"/><circle cx="1464.3" cy="1588.3" r="10.4"/><circle cx="1454.8" cy="1588.5" r="10.4"/><circle cx="1448.3" cy="1588.0" r="10.4"/><circle cx="1472.5" cy="1586.5" r="10.4"/><circle cx="1470.4" cy="1583.4" r="10.4"/><circle cx="1478.9" cy="1581.8" r="10.4"/><circle cx="1486.4" cy="1583.9" r="10.4"/><circle cx="1482.7" cy="1586.7" r="10.4"/><circle cx="1671.5" cy="1607.9" r="10.4"/><circle cx="1622.1" cy="1592.4" r="10.4"/><circle cx="1596.5" cy="1585.4" r="10.4"/><circle cx="1608.9" cy="1592.7" r="10.4"/><circle cx="1608.1" cy="1592.4" r="10.4"/><circle cx="1614.7" cy="1593.8" r="10.4"/><circle cx="1636.4" cy="1602.4" r="10.4"/><circle cx="1630.1" cy="1594.3" r="10.4"/><circle cx="1612.4" cy="1587.1" r="10.4"/><circle cx="1602.9" cy="1584.6" r="10.4"/><circle cx="1613.7" cy="1593.6" r="10.4"/><circle cx="1596.6" cy="1584.6" r="10.4"/><circle cx="1626.8" cy="1591.1" r="10.4"/><circle cx="1637.5" cy="1595.2" r="10.4"/><circle cx="1640.5" cy="1595.8" r="10.4"/><circle cx="1647.9" cy="1599.8" r="10.4"/><circle cx="1602.8" cy="1583.0" r="10.4"/><circle cx="1609.3" cy="1585.0" r="10.4"/><circle cx="1613.0" cy="1595.0" r="10.4"/><circle cx="1618.4" cy="1590.7" r="10.4"/><circle cx="1641.4" cy="1595.1" r="10.4"/><circle cx="1600.2" cy="1589.6" r="10.4"/><circle cx="1616.3" cy="1587.8" r="10.4"/><circle cx="1606.2" cy="1590.3" r="10.4"/><circle cx="1653.4" cy="1602.5" r="10.4"/><circle cx="1637.8" cy="1597.9" r="10.4"/><circle cx="1608.7" cy="1586.7" r="10.4"/><circle cx="1616.7" cy="1588.7" r="10.4"/><circle cx="1643.7" cy="1596.0" r="10.4"/><circle cx="1618.0" cy="1594.2" r="10.4"/><circle cx="1596.7" cy="1589.5" r="10.4"/><circle cx="1631.5" cy="1597.8" r="10.4"/><circle cx="1608.4" cy="1585.4" r="10.4"/><circle cx="1643.8" cy="1605.3" r="10.4"/><circle cx="1596.1" cy="1587.7" r="10.4"/><circle cx="1609.2" cy="1584.4" r="10.4"/><circle cx="1632.2" cy="1592.3" r="10.4"/><circle cx="1521.3" cy="1569.3" r="10.4"/><circle cx="1521.3" cy="1600.6" r="10.4"/><circle cx="1529.4" cy="1570.1" r="10.4"/><circle cx="1529.4" cy="1599.5" r="10.4"/><circle cx="1537.5" cy="1569.8" r="10.4"/><circle cx="1537.5" cy="1600.4" r="10.4"/><circle cx="1545.6" cy="1570.5" r="10.4"/><circle cx="1545.6" cy="1600.3" r="10.4"/><circle cx="1553.6" cy="1570.4" r="10.4"/><circle cx="1553.6" cy="1599.9" r="10.4"/><circle cx="1561.7" cy="1570.3" r="10.4"/><circle cx="1561.7" cy="1599.4" r="10.4"/><circle cx="1569.8" cy="1569.7" r="10.4"/><circle cx="1569.8" cy="1599.7" r="10.4"/><circle cx="1510.9" cy="1576.9" r="10.4"/><circle cx="1580.2" cy="1576.9" r="10.4"/><circle cx="1510.9" cy="1584.9" r="10.4"/><circle cx="1580.2" cy="1584.9" r="10.4"/><circle cx="1510.9" cy="1592.9" r="10.4"/><circle cx="1580.2" cy="1592.9" r="10.4"/><circle cx="1504.9" cy="1576.9" r="10.4"/><circle cx="1586.2" cy="1576.9" r="10.4"/><circle cx="1504.9" cy="1584.9" r="10.4"/><circle cx="1586.2" cy="1584.9" r="10.4"/><circle cx="1504.9" cy="1592.9" r="10.4"/><circle cx="1586.2" cy="1592.9" r="10.4"/><circle cx="1498.9" cy="1576.9" r="10.4"/><circle cx="1592.2" cy="1576.9" r="10.4"/><circle cx="1498.9" cy="1584.9" r="10.4"/><circle cx="1592.2" cy="1584.9" r="10.4"/><circle cx="1498.9" cy="1592.9" r="10.4"/><circle cx="1592.2" cy="1592.9" r="10.4"/><circle cx="1492.9" cy="1576.9" r="10.4"/><circle cx="1598.2" cy="1576.9" r="10.4"/><circle cx="1492.9" cy="1584.9" r="10.4"/><circle cx="1598.2" cy="1584.9" r="10.4"/><circle cx="1492.9" cy="1592.9" r="10.4"/><circle cx="1598.2" cy="1592.9" r="10.4"/></g>
</g>
<line x1="1385.3" y1="1300.5" x2="1385.3" y2="1707.4" stroke="#000" stroke-width="2.9"/><line x1="1384.8" y1="1705.4" x2="1823.5" y2="1705.4" stroke="#000" stroke-width="4.1"/><line x1="1425" y1="1705.4" x2="1425" y2="1718.0" stroke="#000" stroke-width="3.6"/><text x="1425" y="1751.4" font-size="33.7" text-anchor="middle" font-family="Liberation Sans, Arial, sans-serif">-0.2</text><line x1="1544" y1="1705.4" x2="1544" y2="1718.0" stroke="#000" stroke-width="3.6"/><text x="1544" y="1751.4" font-size="33.7" text-anchor="middle" font-family="Liberation Sans, Arial, sans-serif">0.0</text><line x1="1663.2" y1="1705.4" x2="1663.2" y2="1718.0" stroke="#000" stroke-width="3.6"/><text x="1663.2" y="1751.4" font-size="33.7" text-anchor="middle" font-family="Liberation Sans, Arial, sans-serif">0.2</text><line x1="1782.2" y1="1705.4" x2="1782.2" y2="1718.0" stroke="#000" stroke-width="3.6"/><text x="1782.2" y="1751.4" font-size="33.7" text-anchor="middle" font-family="Liberation Sans, Arial, sans-serif">0.4</text><line x1="1375.0" y1="1308.3" x2="1385.3" y2="1308.3" stroke="#000" stroke-width="3.5"/><text x="1364.3" y="1320.3" font-size="33.7" text-anchor="end" font-family="Liberation Sans, Arial, sans-serif">0.2</text><line x1="1375.0" y1="1446.4" x2="1385.3" y2="1446.4" stroke="#000" stroke-width="3.5"/><text x="1364.3" y="1458.4" font-size="33.7" text-anchor="end" font-family="Liberation Sans, Arial, sans-serif">0.1</text><line x1="1375.0" y1="1584.6" x2="1385.3" y2="1584.6" stroke="#000" stroke-width="3.5"/><text x="1364.3" y="1596.6" font-size="33.7" text-anchor="end" font-family="Liberation Sans, Arial, sans-serif">0.0</text>
<text transform="translate(1510.0,1799.5) scale(0.92,1)" font-size="42" font-family="Liberation Serif, DejaVu Serif, serif">β</text><text x="1532.0" y="1806.3" font-size="29.6" font-family="Liberation Sans, Arial, sans-serif">Lung Cancer</text>
<g transform="translate(1286,1584.65) rotate(-90)"><text transform="scale(0.88,1)" x="0" y="0" font-size="41" font-family="Liberation Serif, DejaVu Serif, serif">β</text><text x="22.5" y="8" font-size="29.4" font-family="Liberation Sans, Arial, sans-serif">FEV</text><text x="78.5" y="12.3" font-size="18.5" font-family="Liberation Sans, Arial, sans-serif">1</text><text transform="translate(93.3,13) scale(0.7,1)" font-size="41.5" font-family="Liberation Sans, Arial, sans-serif">/</text><text x="104" y="8" font-size="29.4" font-family="Liberation Sans, Arial, sans-serif">FVC</text></g></svg></body></html>
